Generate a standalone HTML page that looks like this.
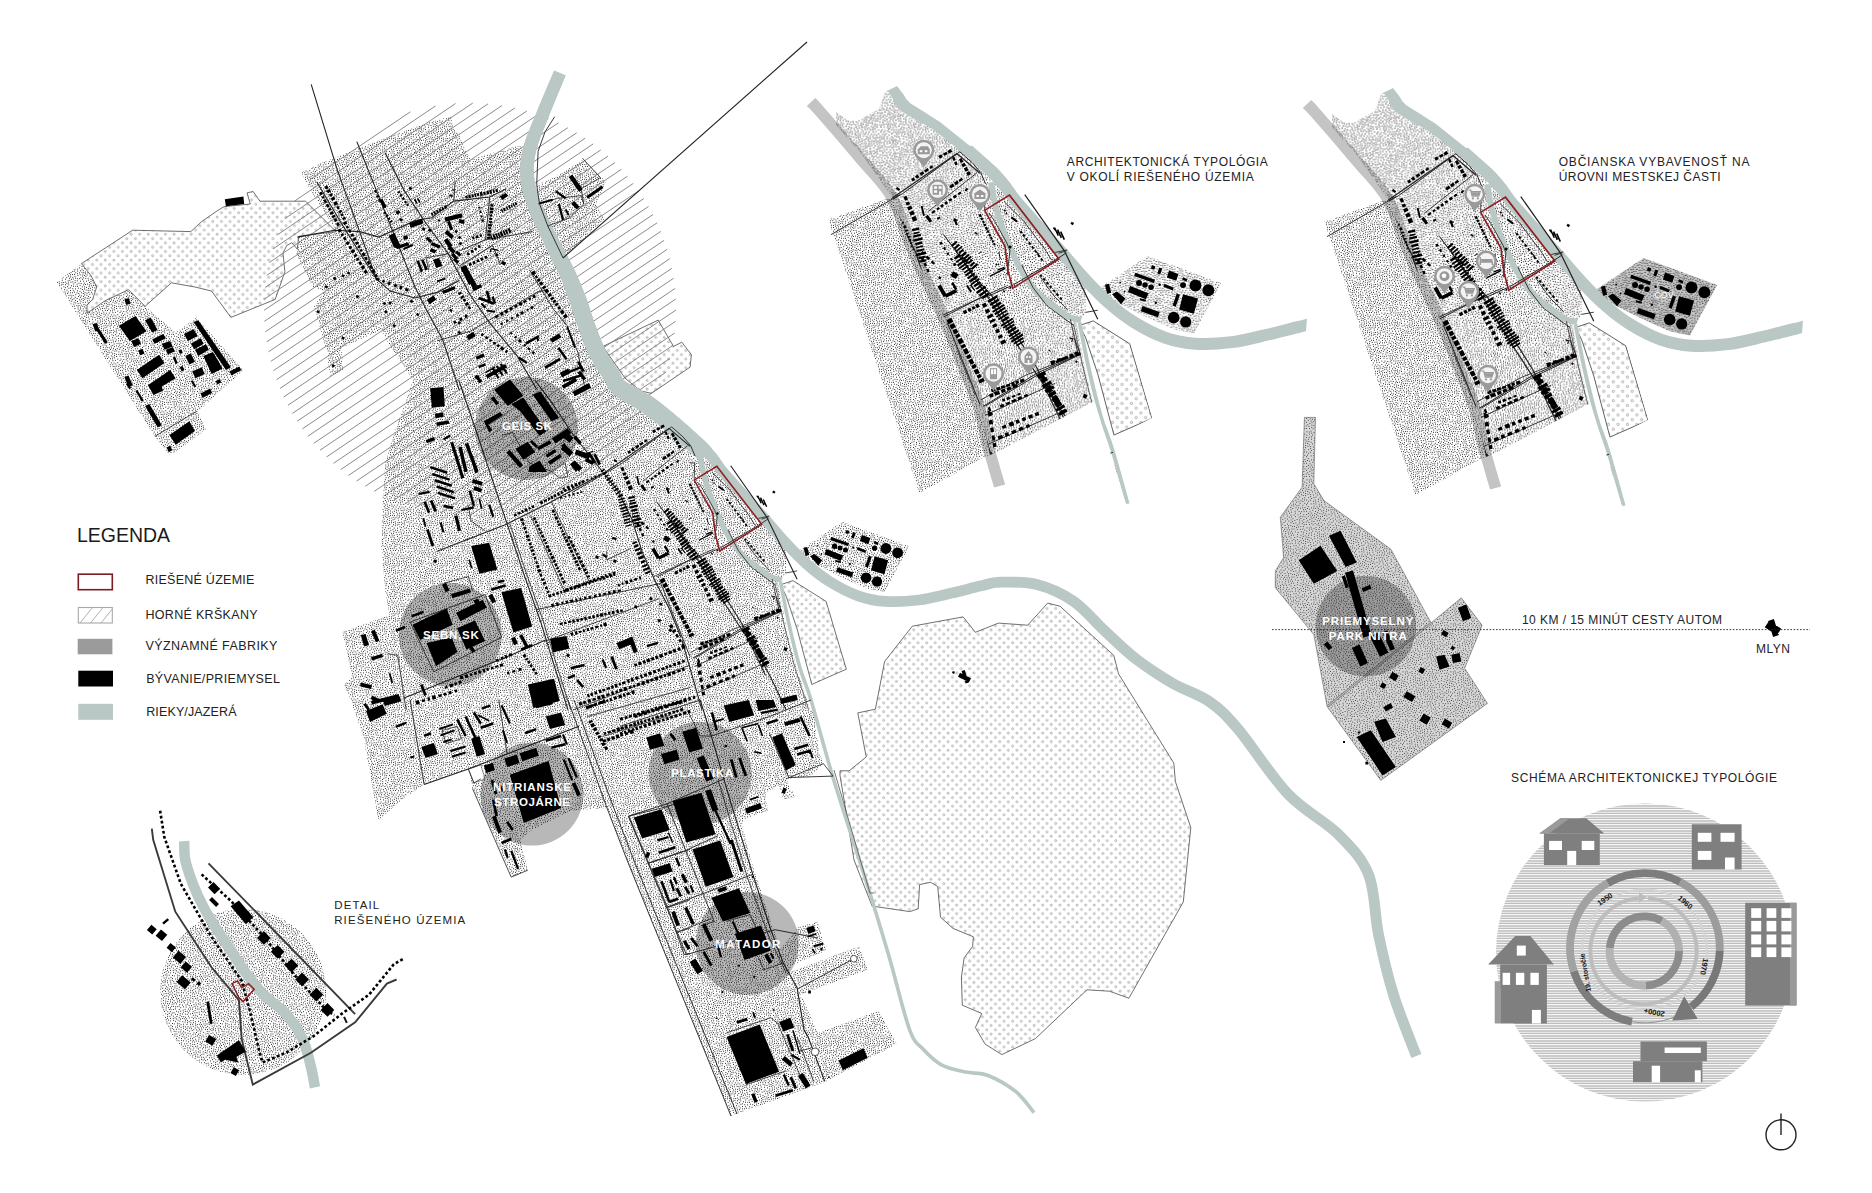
<!DOCTYPE html><html><head><meta charset="utf-8"><title>Map</title><style>html,body{margin:0;padding:0;background:#fff}svg{display:block}text{font-family:"Liberation Sans",sans-serif}</style></head><body>
<svg width="1872" height="1193" viewBox="0 0 1872 1193">
<defs><pattern id="st" width="48" height="48" patternUnits="userSpaceOnUse"><rect width="48" height="48" fill="#fff"/><path d="M29.9 35.6h.01M31.6 32.9h.01M27.8 32.8h.01M27.5 38.1h.01M24.8 37.3h.01M31.3 38.7h.01M29.3 40.8h.01M29.7 31.1h.01M27.0 36.3h.01M24.4 34.5h.01M35.0 34.1h.01M32.2 34.8h.01M32.5 41.2h.01M34.4 39.3h.01M32.9 37.8h.01M32.5 30.8h.01M22.6 34.9h.01M27.1 40.7h.01M22.7 36.9h.01M34.0 29.2h.01M31.5 27.9h.01M24.8 31.5h.01M21.2 33.4h.01M26.6 34.4h.01M37.8 38.5h.01M28.9 26.2h.01M35.9 32.5h.01M20.6 36.0h.01M23.0 32.7h.01M35.6 41.2h.01M29.6 33.7h.01M31.0 43.2h.01M21.8 40.3h.01M34.0 26.4h.01M36.3 35.5h.01M21.4 38.3h.01M23.0 42.2h.01M35.3 30.6h.01M31.8 25.0h.01M27.2 42.6h.01M20.8 30.0h.01M34.3 36.0h.01M37.6 32.0h.01M38.3 29.4h.01M34.0 32.3h.01M39.1 35.0h.01M29.3 38.7h.01M25.3 39.0h.01M19.2 32.2h.01M29.7 29.2h.01M26.7 31.1h.01M18.8 37.6h.01M36.7 28.3h.01M25.0 29.6h.01M20.8 44.9h.01M40.6 40.2h.01M25.3 27.2h.01M41.6 33.5h.01M39.8 32.8h.01M40.3 29.1h.01M20.1 40.9h.01M29.1 44.2h.01M24.8 41.9h.01M26.9 29.2h.01M35.5 25.1h.01M17.4 44.8h.01M27.8 46.3h.01M25.5 46.3h.01M40.1 38.3h.01M33.8 22.9h.01M15.9 46.8h.01M31.2 22.3h.01M29.6 46.4h.01M23.2 28.7h.01M38.6 27.1h.01M42.1 36.1h.01M35.7 37.9h.01M18.9 30.3h.01M41.2 31.0h.01M26.5 25.2h.01M43.0 39.4h.01M38.4 41.2h.01M23.4 45.7h.01M17.4 35.5h.01M25.7 44.0h.01M36.3 43.2h.01M19.9 28.0h.01M16.5 1.7h.01M20.6 42.9h.01M39.6 44.1h.01M44.1 35.7h.01M37.4 25.2h.01M32.1 45.4h.01M37.9 36.4h.01M33.2 43.5h.01M17.5 39.2h.01M22.8 30.6h.01M15.6 37.1h.01M23.4 39.3h.01M27.8 23.5h.01M37.5 33.8h.01M34.3 46.8h.01M14.3 40.2h.01M44.4 31.3h.01M24.0 24.6h.01M19.0 2.1h.01M38.1 22.7h.01M22.5 2.5h.01M16.8 28.7h.01M37.9 20.2h.01M41.1 46.7h.01M38.6 -0.6h.01M38.6 47.4h.01M40.4 26.3h.01M40.2 22.9h.01M43.1 28.3h.01M25.3 2.7h.01M17.7 42.1h.01M24.8 0.7h.01M24.8 48.7h.01M35.7 44.9h.01M45.3 37.8h.01M43.0 41.4h.01M-1.0 29.5h.01M47.0 29.5h.01M21.8 26.6h.01M14.3 30.8h.01M34.6 1.5h.01M36.7 47.0h.01M17.1 30.6h.01M36.0 23.1h.01M15.5 33.2h.01M22.7 -0.2h.01M22.7 47.8h.01M37.6 44.5h.01M15.0 44.5h.01M32.8 0.7h.01M32.8 48.7h.01M27.6 0.9h.01M27.6 48.9h.01M29.4 2.8h.01M38.1 2.0h.01M40.4 19.6h.01M44.8 40.6h.01M19.4 46.7h.01M45.2 43.0h.01M10.8 39.1h.01M45.0 34.0h.01M13.9 42.7h.01M13.5 2.4h.01M32.5 20.9h.01M15.7 42.5h.01M41.3 17.7h.01M25.0 23.1h.01M44.9 29.0h.01M42.8 26.3h.01M9.1 39.8h.01M39.0 5.3h.01M24.5 4.8h.01M-0.6 37.2h.01M47.4 37.2h.01M37.9 17.2h.01M37.6 14.3h.01M45.6 26.8h.01M19.4 34.2h.01M12.5 32.3h.01M13.6 0.2h.01M13.6 48.2h.01M18.0 27.0h.01M30.3 0.2h.01M30.3 48.2h.01M26.5 4.2h.01M43.3 45.7h.01M36.6 0.9h.01M36.6 48.9h.01M19.3 24.4h.01M18.9 43.6h.01M27.0 20.6h.01M11.2 41.9h.01M34.8 18.4h.01M13.4 34.0h.01M36.7 6.9h.01M14.1 38.1h.01M37.0 4.7h.01M1.1 28.0h.01M22.6 4.9h.01M42.9 43.7h.01M35.4 3.2h.01M-0.6 31.9h.01M47.4 31.9h.01M47.0 35.4h.01M39.2 24.7h.01M40.1 2.6h.01M32.0 3.3h.01M40.6 0.6h.01M40.6 48.6h.01M19.4 5.6h.01M43.1 20.1h.01M44.1 25.0h.01M14.3 28.8h.01M20.2 4.0h.01M13.3 45.0h.01M1.3 30.3h.01M42.5 0.3h.01M42.5 48.3h.01M20.9 0.3h.01M20.9 48.3h.01M44.5 1.8h.01M-0.8 45.6h.01M47.2 45.6h.01M36.8 11.4h.01M35.1 14.6h.01M21.8 23.1h.01M1.1 34.9h.01M1.8 33.0h.01M46.8 41.1h.01M13.0 35.9h.01M2.1 45.7h.01M40.2 14.9h.01M28.9 17.7h.01M41.6 24.6h.01M27.8 6.7h.01M35.3 5.5h.01M30.5 8.5h.01M35.2 20.9h.01M0.1 39.1h.01M48.1 39.1h.01M36.0 16.5h.01M11.3 45.7h.01M17.4 5.9h.01M23.0 7.3h.01M42.1 2.3h.01M17.5 33.4h.01M0.2 26.4h.01M48.2 26.4h.01M41.4 44.9h.01M33.4 4.8h.01M15.3 26.9h.01M45.9 24.7h.01M3.0 28.5h.01M7.9 38.0h.01M29.0 4.9h.01M43.4 17.7h.01M41.7 12.8h.01M10.5 35.6h.01M24.0 20.3h.01M2.9 37.5h.01M0.1 23.6h.01M48.1 23.6h.01M42.2 22.1h.01M9.9 33.7h.01M2.8 41.2h.01M25.8 16.2h.01M44.4 -0.7h.01M44.4 47.3h.01M40.4 8.6h.01M17.6 -0.3h.01M17.6 47.7h.01M21.0 7.6h.01M3.1 35.1h.01M42.1 15.3h.01M3.4 26.2h.01M4.2 32.0h.01M8.5 35.3h.01M43.5 4.3h.01M18.1 8.0h.01M11.4 43.8h.01M15.7 6.7h.01M44.3 22.9h.01M25.1 7.6h.01M6.5 31.0h.01M9.5 42.4h.01M9.8 37.3h.01M37.2 9.7h.01M39.5 12.8h.01M45.4 45.4h.01M7.6 42.8h.01M5.0 36.5h.01M8.7 32.1h.01M12.0 37.7h.01M4.9 29.5h.01M4.9 27.5h.01M30.8 5.4h.01M1.1 43.5h.01M16.9 24.7h.01M3.6 39.4h.01M45.1 21.2h.01M22.8 10.7h.01M-0.5 21.7h.01M47.5 21.7h.01M27.2 9.3h.01M6.6 33.2h.01M18.6 21.9h.01M9.6 44.8h.01M8.0 26.2h.01M14.4 22.8h.01M13.3 25.0h.01M3.5 43.2h.01M15.2 35.3h.01M1.6 25.1h.01M10.4 31.3h.01M32.2 15.2h.01M0.7 41.6h.01M48.7 41.6h.01M20.7 9.9h.01M-0.8 43.0h.01M47.2 43.0h.01M1.3 -0.3h.01M1.3 47.7h.01M17.0 4.0h.01M2.6 22.0h.01M8.1 28.8h.01M27.4 27.5h.01M39.2 10.3h.01M11.0 29.1h.01M14.9 4.2h.01M30.1 20.9h.01M12.1 27.0h.01M45.2 18.5h.01M46.8 -0.2h.01M46.8 47.8h.01M29.1 10.5h.01M3.2 24.1h.01M33.5 7.9h.01M18.4 10.6h.01M0.7 1.7h.01M48.7 1.7h.01M1.3 20.5h.01M1.3 36.7h.01M41.4 42.5h.01M12.2 4.4h.01M4.3 0.7h.01M4.3 48.7h.01M44.4 15.9h.01M33.3 17.2h.01M5.7 38.3h.01M9.6 27.0h.01M31.0 17.5h.01M26.7 18.2h.01M6.4 22.7h.01M33.3 11.3h.01M11.5 22.5h.01M38.9 7.3h.01M4.6 33.9h.01M20.6 20.5h.01M0.9 18.6h.01M48.9 18.6h.01M26.0 10.8h.01M27.8 14.9h.01M10.3 25.2h.01M27.5 12.4h.01M5.7 25.4h.01M3.2 30.3h.01M7.4 40.9h.01M9.5 22.4h.01M35.4 8.4h.01M32.5 19.1h.01M5.3 40.4h.01M41.8 6.3h.01M30.1 15.6h.01M16.5 22.8h.01M21.3 12.6h.01M4.3 45.8h.01M4.4 21.1h.01M-1.0 17.7h.01M47.0 17.7h.01M6.7 20.5h.01M44.3 6.0h.01M30.2 23.8h.01M23.3 13.3h.01M15.3 19.9h.01M5.8 44.6h.01M46.6 2.9h.01M40.8 4.3h.01M29.4 13.5h.01M23.7 9.1h.01M35.3 12.6h.01M10.2 0.1h.01M10.2 48.1h.01M2.8 2.8h.01M16.4 17.9h.01M12.0 18.5h.01M26.1 14.1h.01M22.9 15.9h.01M9.9 3.5h.01M46.8 5.2h.01M7.8 24.2h.01M6.1 0.1h.01M6.1 48.1h.01M13.5 8.4h.01M44.8 12.9h.01M0.5 4.2h.01M48.5 4.2h.01M46.7 15.7h.01M32.9 13.2h.01M8.1 46.4h.01M8.9 1.7h.01M31.7 7.1h.01M3.7 19.1h.01M30.1 19.1h.01M36.6 18.9h.01M6.5 35.4h.01M13.1 6.5h.01M42.3 9.4h.01M11.8 11.4h.01M6.8 2.3h.01M10.1 7.3h.01M3.1 5.4h.01M5.8 4.0h.01M1.6 15.5h.01M19.5 13.4h.01M11.5 2.2h.01M18.9 15.2h.01M16.9 20.9h.01M7.4 5.3h.01M15.1 10.0h.01M15.6 11.9h.01M5.6 7.5h.01M12.8 21.1h.01M13.8 16.8h.01M31.4 11.8h.01M44.5 8.7h.01M8.8 20.6h.01M5.3 42.7h.01M20.4 18.4h.01M10.6 9.9h.01M32.3 9.3h.01M6.9 9.1h.01M0.8 7.8h.01M48.8 7.8h.01M18.4 19.6h.01M15.8 16.2h.01M43.9 10.5h.01M41.0 10.8h.01M10.3 15.6h.01M20.8 14.8h.01M24.3 11.8h.01M-0.1 10.3h.01M47.9 10.3h.01M2.7 7.7h.01M46.5 7.0h.01M4.5 10.4h.01M5.9 18.7h.01M1.9 12.7h.01M7.4 11.3h.01M35.1 10.5h.01M17.0 14.2h.01M46.4 11.5h.01M22.8 18.3h.01M11.0 13.7h.01M9.1 13.8h.01M7.6 17.8h.01M1.0 5.9h.01M10.7 20.0h.01M5.9 16.5h.01M14.6 13.5h.01M7.1 13.6h.01M2.0 9.7h.01M8.1 7.1h.01M2.8 17.0h.01M10.2 18.1h.01M3.8 14.6h.01M9.8 11.9h.01M4.5 12.2h.01M46.8 13.7h.01M12.6 30.2h.01M16.8 9.4h.01M24.7 18.4h.01M13.0 14.8h.01M13.7 11.8h.01M11.9 16.6h.01M9.0 9.0h.01M9.4 5.3h.01M17.6 12.4h.01M18.7 17.6h.01M8.4 15.7h.01" stroke="#000" stroke-width="1.0" stroke-linecap="round" fill="none"/></pattern><pattern id="st2" width="48" height="48" patternUnits="userSpaceOnUse"><rect width="48" height="48" fill="#d6d6d6"/><path d="M15.5 7.2h.01M18.3 8.6h.01M18.8 10.7h.01M15.1 10.3h.01M18.6 6.2h.01M21.6 5.2h.01M12.9 9.5h.01M16.4 12.0h.01M15.5 4.9h.01M21.1 7.6h.01M21.5 9.9h.01M23.5 8.1h.01M14.4 14.6h.01M19.7 13.3h.01M13.3 5.2h.01M12.7 17.7h.01M17.5 15.0h.01M13.2 12.8h.01M12.6 7.3h.01M9.5 11.0h.01M16.6 3.1h.01M21.3 15.0h.01M9.2 7.9h.01M6.6 10.4h.01M23.2 3.8h.01M15.7 1.1h.01M15.7 18.5h.01M23.7 14.1h.01M7.5 12.6h.01M4.9 7.3h.01M17.6 21.3h.01M4.9 12.3h.01M11.7 11.5h.01M11.9 14.3h.01M18.0 0.7h.01M18.0 48.7h.01M7.7 4.2h.01M22.9 1.5h.01M15.0 -0.8h.01M15.0 47.2h.01M10.4 5.6h.01M12.7 21.2h.01M13.6 2.1h.01M24.0 10.7h.01M20.0 3.5h.01M14.7 16.6h.01M25.4 8.7h.01M13.7 44.5h.01M24.1 17.9h.01M10.9 3.2h.01M4.1 9.5h.01M17.9 17.6h.01M20.1 1.5h.01M8.8 2.1h.01M7.6 46.6h.01M17.1 44.9h.01M13.0 42.4h.01M23.5 6.0h.01M1.3 8.7h.01M19.2 20.0h.01M7.1 6.2h.01M26.8 13.2h.01M10.9 9.2h.01M10.3 44.5h.01M20.0 -0.6h.01M20.0 47.4h.01M22.0 12.5h.01M10.4 20.0h.01M13.2 0.1h.01M13.2 48.1h.01M6.9 21.5h.01M20.0 17.1h.01M23.6 -0.4h.01M23.6 47.6h.01M19.1 43.4h.01M6.9 1.0h.01M14.7 20.3h.01M3.0 21.8h.01M1.3 11.6h.01M9.7 13.5h.01M22.2 21.5h.01M11.8 40.7h.01M25.8 6.1h.01M27.1 16.1h.01M1.7 6.5h.01M23.0 45.3h.01M25.5 22.3h.01M10.2 42.0h.01M10.9 -0.2h.01M10.9 47.8h.01M8.4 20.0h.01M9.4 15.6h.01M-0.7 3.8h.01M47.3 3.8h.01M30.4 15.9h.01M25.3 46.5h.01M7.9 39.5h.01M7.2 15.5h.01M15.2 23.9h.01M8.8 23.3h.01M5.3 3.8h.01M28.8 13.4h.01M25.8 11.4h.01M11.6 23.1h.01M8.8 17.8h.01M6.2 43.6h.01M4.2 23.4h.01M2.2 4.5h.01M27.5 8.8h.01M7.8 42.4h.01M10.4 24.7h.01M22.6 19.4h.01M25.5 2.1h.01M3.7 42.2h.01M4.7 1.4h.01M6.5 18.8h.01M28.9 5.0h.01M18.1 26.1h.01M23.2 24.2h.01M20.0 24.0h.01M7.2 8.5h.01M26.3 18.3h.01M26.7 45.0h.01M27.1 0.2h.01M27.1 48.2h.01M19.7 22.0h.01M4.9 46.5h.01M28.5 11.2h.01M25.2 42.8h.01M6.9 25.3h.01M5.0 20.7h.01M27.2 40.4h.01M27.8 2.9h.01M24.8 15.9h.01M21.0 44.8h.01M30.2 10.1h.01M15.9 41.1h.01M29.4 19.6h.01M27.3 20.4h.01M26.2 26.9h.01M25.0 20.1h.01M1.3 1.6h.01M45.7 7.1h.01M3.1 44.2h.01M28.5 38.6h.01M28.4 22.1h.01M21.1 26.9h.01M-0.1 42.9h.01M47.9 42.9h.01M32.1 3.1h.01M13.8 39.4h.01M6.2 40.9h.01M24.6 38.8h.01M28.9 24.2h.01M19.3 39.3h.01M12.2 26.5h.01M29.5 -1.0h.01M29.5 47.0h.01M17.8 23.7h.01M10.4 38.4h.01M28.4 35.4h.01M1.1 45.2h.01M30.7 12.6h.01M2.1 19.4h.01M12.2 36.4h.01M25.4 25.0h.01M31.1 38.9h.01M15.8 43.4h.01M21.2 40.8h.01M2.6 47.0h.01M28.6 43.7h.01M32.6 11.6h.01M32.4 13.8h.01M9.7 29.5h.01M22.3 30.6h.01M4.9 38.5h.01M46.7 9.5h.01M31.4 -0.2h.01M31.4 47.8h.01M22.4 43.3h.01M30.8 35.9h.01M29.5 1.2h.01M23.9 33.5h.01M-0.6 12.9h.01M47.4 12.9h.01M46.6 46.4h.01M31.5 20.8h.01M15.1 37.0h.01M34.2 5.9h.01M9.0 27.5h.01M15.8 33.1h.01M3.7 16.9h.01M19.7 28.5h.01M19.4 31.5h.01M44.0 1.0h.01M23.4 26.3h.01M32.8 19.1h.01M1.1 39.5h.01M15.4 27.9h.01M16.8 30.4h.01M3.2 13.5h.01M6.9 36.7h.01M22.0 35.9h.01M29.5 40.8h.01M5.4 14.7h.01M18.6 35.8h.01M27.7 6.7h.01M8.2 44.6h.01M4.6 28.2h.01M17.9 41.5h.01M32.9 45.7h.01M14.1 31.8h.01M31.2 17.8h.01M0.4 -0.4h.01M0.4 47.6h.01M48.4 -0.4h.01M48.4 47.6h.01M34.8 39.6h.01M46.8 40.5h.01M18.8 33.6h.01M34.5 -0.5h.01M34.5 47.5h.01M16.0 38.7h.01M0.7 22.2h.01M48.7 22.2h.01M45.7 43.5h.01M9.0 36.9h.01M-0.4 15.1h.01M47.6 15.1h.01M29.0 17.4h.01M27.7 30.6h.01M33.1 37.8h.01M17.7 28.1h.01M12.5 33.4h.01M33.0 34.3h.01M29.6 7.9h.01M33.0 41.9h.01M21.7 32.6h.01M13.5 29.2h.01M31.3 6.0h.01M24.1 29.5h.01M1.5 29.8h.01M3.0 25.3h.01M6.7 27.7h.01M43.1 40.0h.01M2.2 15.2h.01M32.6 9.6h.01M31.8 23.0h.01M44.6 41.7h.01M37.1 7.9h.01M44.1 12.6h.01M36.0 42.5h.01M35.4 3.0h.01M-0.2 20.3h.01M47.8 20.3h.01M44.2 15.2h.01M31.7 44.0h.01M45.8 17.8h.01M38.0 -0.3h.01M38.0 47.7h.01M23.5 40.7h.01M30.0 26.6h.01M27.9 28.1h.01M35.2 20.8h.01M0.1 17.5h.01M48.1 17.5h.01M34.2 8.3h.01M33.4 24.9h.01M10.6 31.3h.01M30.5 29.3h.01M17.8 37.6h.01M33.2 1.3h.01M3.5 40.0h.01M14.2 34.9h.01M36.5 19.1h.01M3.1 37.3h.01M10.7 34.5h.01M26.5 36.5h.01M45.0 38.7h.01M41.3 37.2h.01M33.0 16.0h.01M27.7 32.8h.01M-0.0 27.8h.01M48.0 27.8h.01M34.2 44.2h.01M8.1 31.6h.01M35.7 11.8h.01M16.4 35.3h.01M39.2 36.1h.01M7.5 29.6h.01M37.0 45.5h.01M36.1 33.9h.01M22.5 38.6h.01M37.7 5.7h.01M30.3 31.4h.01M3.1 31.6h.01M41.4 1.9h.01M25.7 31.0h.01M35.0 13.7h.01M32.6 30.2h.01M-0.5 36.7h.01M47.5 36.7h.01M7.8 34.7h.01M44.6 46.6h.01M-0.9 31.2h.01M47.1 31.2h.01M33.0 27.4h.01M46.1 1.1h.01M42.8 45.6h.01M39.4 44.1h.01M26.1 34.2h.01M29.8 33.9h.01M35.7 16.7h.01M39.2 11.4h.01M37.7 3.6h.01M40.8 41.1h.01M37.5 41.0h.01M38.4 13.3h.01M20.7 34.4h.01M40.4 6.2h.01M45.2 21.7h.01M34.9 29.9h.01M38.5 17.2h.01M-0.5 24.2h.01M47.5 24.2h.01M42.9 42.7h.01M43.4 37.0h.01M22.2 28.6h.01M42.3 5.1h.01M41.1 13.3h.01M40.4 -0.1h.01M40.4 47.9h.01M35.7 9.7h.01M35.2 35.9h.01M43.3 7.3h.01M39.9 15.3h.01M35.4 24.2h.01M-0.7 33.2h.01M47.3 33.2h.01M38.8 30.1h.01M43.0 10.0h.01M5.7 31.7h.01M2.0 34.8h.01M43.4 3.2h.01M36.6 1.3h.01M38.0 32.1h.01M4.5 33.4h.01M37.0 38.2h.01M46.0 35.0h.01M39.6 39.1h.01M42.4 18.7h.01M38.5 19.6h.01M20.4 37.3h.01M41.2 8.7h.01M39.1 1.8h.01M39.8 27.9h.01M38.9 34.1h.01M38.6 9.3h.01M37.0 22.8h.01M40.2 18.2h.01M35.3 27.2h.01M42.1 15.8h.01M40.5 23.9h.01M24.3 36.5h.01M38.4 24.9h.01M42.9 35.1h.01M40.6 45.8h.01M43.6 32.2h.01M39.6 22.1h.01M37.4 27.0h.01M4.8 36.2h.01M41.4 33.2h.01M43.8 25.3h.01M42.8 27.5h.01M40.6 31.2h.01M33.8 22.3h.01M1.0 25.7h.01M49.0 25.7h.01M44.7 28.6h.01M45.8 26.1h.01M37.2 15.1h.01M43.0 29.9h.01M2.6 27.8h.01M42.6 23.0h.01M40.2 4.0h.01M44.4 5.2h.01M45.9 11.5h.01M35.2 32.0h.01M40.7 26.1h.01M45.4 24.1h.01M40.8 20.3h.01M36.9 29.4h.01M42.9 20.8h.01M11.6 28.5h.01" stroke="#000" stroke-width="0.8" stroke-linecap="round" fill="none"/></pattern><pattern id="st3" width="48" height="48" patternUnits="userSpaceOnUse"><rect width="48" height="48" fill="#fff"/><path d="M22.2 17.9h.01M23.4 20.7h.01M20.0 20.7h.01M21.3 14.9h.01M23.6 22.7h.01M26.1 20.1h.01M23.0 15.9h.01M24.8 18.3h.01M21.7 19.9h.01M25.2 15.2h.01M26.7 12.9h.01M22.9 13.9h.01M19.5 15.7h.01M21.6 21.8h.01M20.1 18.1h.01M28.4 15.5h.01M27.0 17.4h.01M26.7 22.0h.01M24.5 12.1h.01M29.4 12.3h.01M28.2 20.3h.01M17.8 16.6h.01M17.3 19.9h.01M27.0 24.0h.01M20.4 12.4h.01M28.6 18.5h.01M18.3 21.7h.01M31.7 19.0h.01M18.7 13.3h.01M30.1 23.3h.01M19.5 9.8h.01M31.0 26.0h.01M22.1 11.7h.01M20.0 22.7h.01M32.0 23.7h.01M31.5 13.3h.01M32.5 21.3h.01M16.9 14.4h.01M29.8 21.4h.01M33.0 26.0h.01M19.0 25.5h.01M15.7 18.4h.01M29.2 10.4h.01M18.7 28.3h.01M34.8 24.0h.01M16.0 16.0h.01M21.0 25.0h.01M30.3 15.9h.01M15.7 12.4h.01M28.7 26.5h.01M24.4 25.0h.01M15.5 21.5h.01M33.3 15.1h.01M17.1 23.7h.01M17.0 27.0h.01M18.3 11.3h.01M26.2 26.4h.01M35.9 13.2h.01M22.5 26.7h.01M32.6 10.9h.01M27.4 28.1h.01M31.1 9.9h.01M14.1 15.9h.01M26.4 10.3h.01M21.5 9.4h.01M13.6 13.8h.01M15.2 23.6h.01M13.1 17.4h.01M25.4 29.2h.01M29.3 8.2h.01M21.3 28.4h.01M14.1 19.5h.01M16.7 29.2h.01M34.1 12.2h.01M29.6 29.4h.01M35.2 9.7h.01M13.5 21.4h.01M25.9 8.3h.01M31.6 6.3h.01M21.6 31.4h.01M27.4 31.0h.01M30.7 31.4h.01M13.9 26.0h.01M32.9 8.5h.01M14.7 10.2h.01M23.7 8.4h.01M22.1 33.4h.01M36.1 7.4h.01M18.6 31.7h.01M11.7 24.4h.01M23.9 27.9h.01M33.1 28.4h.01M35.7 27.3h.01M26.0 32.2h.01M35.1 29.9h.01M30.0 4.7h.01M38.3 10.6h.01M33.5 6.6h.01M27.0 34.3h.01M37.8 8.6h.01M14.2 28.4h.01M14.2 30.6h.01M24.3 31.0h.01M11.8 9.3h.01M16.8 9.1h.01M27.5 6.9h.01M26.3 3.7h.01M11.9 29.0h.01M36.2 5.6h.01M11.9 15.9h.01M37.1 26.0h.01M11.5 19.7h.01M38.8 13.7h.01M33.6 17.2h.01M35.0 21.1h.01M17.6 34.3h.01M32.4 3.3h.01M28.7 32.9h.01M15.9 32.4h.01M37.1 21.8h.01M36.7 3.2h.01M40.2 10.8h.01M19.3 7.6h.01M21.8 5.8h.01M33.6 19.2h.01M39.7 8.7h.01M15.9 25.5h.01M35.5 18.1h.01M38.6 6.0h.01M23.7 6.6h.01M36.4 11.1h.01M25.3 35.1h.01M30.3 34.4h.01M36.7 23.9h.01M34.6 4.0h.01M23.8 3.8h.01M24.2 33.4h.01M11.0 27.2h.01M35.3 1.4h.01M31.5 36.4h.01M25.3 1.4h.01M35.1 15.7h.01M28.6 35.9h.01M34.9 32.8h.01M42.7 10.8h.01M37.1 19.3h.01M29.7 1.5h.01M12.5 33.4h.01M41.1 14.1h.01M29.6 46.4h.01M13.0 11.9h.01M28.2 5.1h.01M37.1 16.7h.01M23.6 10.4h.01M14.5 34.2h.01M25.2 5.4h.01M27.5 37.8h.01M33.0 32.2h.01M39.4 16.2h.01M20.0 33.9h.01M32.4 30.4h.01M11.4 31.7h.01M27.1 1.7h.01M22.8 35.8h.01M16.1 7.2h.01M30.9 27.9h.01M18.5 5.0h.01M38.9 25.0h.01M20.9 36.5h.01M9.7 28.9h.01M41.3 18.9h.01M31.6 0.9h.01M31.6 48.9h.01M11.0 13.7h.01M41.5 9.2h.01M41.3 6.1h.01M12.6 6.7h.01M33.3 35.9h.01M20.0 30.5h.01M39.4 20.2h.01M41.5 21.6h.01M22.1 0.0h.01M22.1 48.0h.01M39.7 23.3h.01M45.2 10.0h.01M26.5 -0.1h.01M26.5 47.9h.01M17.5 1.8h.01M44.6 8.2h.01M6.9 31.1h.01M32.2 34.2h.01M22.0 38.8h.01M38.2 28.3h.01M29.6 37.5h.01M-0.0 9.3h.01M48.0 9.3h.01M36.8 -0.3h.01M36.8 47.7h.01M9.2 30.9h.01M10.0 21.8h.01M15.5 3.7h.01M39.7 26.7h.01M10.8 11.7h.01M19.6 40.4h.01M19.0 -0.3h.01M19.0 47.7h.01M43.0 16.5h.01M23.1 29.6h.01M24.4 39.3h.01M20.4 45.1h.01M43.2 6.3h.01M35.5 35.4h.01M37.5 35.0h.01M1.5 10.6h.01M43.7 22.3h.01M41.3 3.4h.01M28.4 39.4h.01M24.7 -0.4h.01M24.7 47.6h.01M22.1 2.2h.01M8.8 23.2h.01M41.2 24.8h.01M7.1 29.3h.01M37.5 30.5h.01M39.3 18.3h.01M44.3 4.8h.01M39.3 4.2h.01M40.4 35.9h.01M24.5 45.3h.01M34.6 38.5h.01M8.6 14.7h.01M41.1 1.4h.01M8.9 12.0h.01M10.6 18.1h.01M21.4 43.0h.01M43.0 20.3h.01M43.6 14.8h.01M6.0 23.1h.01M8.8 9.5h.01M46.5 16.7h.01M15.2 36.6h.01M44.0 25.2h.01M18.8 35.7h.01M43.2 3.3h.01M8.4 18.2h.01M6.9 20.1h.01M45.4 20.2h.01M43.6 12.7h.01M46.1 25.8h.01M39.1 2.2h.01M44.0 18.7h.01M8.3 34.2h.01M14.2 7.7h.01M46.4 6.0h.01M1.2 18.3h.01M42.1 -0.9h.01M42.1 47.1h.01M5.3 19.0h.01M45.7 2.9h.01M20.6 3.5h.01M42.3 26.8h.01M24.4 37.0h.01M45.7 23.2h.01M3.2 20.0h.01M39.6 46.9h.01M32.4 38.2h.01M10.4 33.8h.01M46.9 12.6h.01M12.0 36.9h.01M4.2 10.7h.01M19.4 43.2h.01M13.7 4.6h.01M23.8 41.6h.01M8.2 25.3h.01M5.3 16.5h.01M44.6 1.1h.01M37.3 36.9h.01M6.5 13.3h.01M17.3 43.9h.01M38.6 45.1h.01M40.9 30.8h.01M3.4 13.7h.01M4.4 24.5h.01M3.8 17.7h.01M4.4 21.9h.01M33.2 39.9h.01M7.7 16.3h.01M19.8 1.8h.01M22.2 46.1h.01M6.4 26.2h.01M1.1 12.6h.01M9.5 16.4h.01M9.4 20.0h.01M1.4 14.6h.01M11.1 4.1h.01M46.9 14.8h.01M35.1 46.2h.01M-0.6 20.7h.01M47.4 20.7h.01M0.2 22.6h.01M48.2 22.6h.01M0.7 16.3h.01M48.7 16.3h.01M42.0 45.0h.01M17.2 47.0h.01M6.9 10.3h.01M27.7 46.4h.01M14.1 1.1h.01M45.2 13.7h.01M11.6 39.3h.01M46.9 18.9h.01M37.4 32.4h.01M3.8 28.4h.01M40.1 28.9h.01M9.4 3.3h.01M17.0 41.3h.01M5.3 35.5h.01M3.8 7.3h.01M4.2 33.0h.01M39.6 32.8h.01M23.4 43.7h.01M1.3 7.3h.01M9.6 37.8h.01M35.4 40.2h.01M5.5 8.3h.01M1.9 24.9h.01M3.7 31.2h.01M42.9 35.6h.01M35.9 44.5h.01M33.3 46.7h.01M32.4 43.9h.01M19.5 37.9h.01M15.4 42.9h.01M45.1 45.6h.01M9.4 6.9h.01M17.7 38.8h.01M11.3 1.3h.01M-0.9 28.1h.01M47.1 28.1h.01M33.7 41.9h.01M7.4 6.2h.01M1.8 21.7h.01M26.4 41.9h.01M3.5 26.2h.01M1.1 3.7h.01M2.9 4.9h.01M5.0 4.7h.01M0.6 5.5h.01M48.6 5.5h.01M8.1 39.7h.01M37.7 39.8h.01M30.0 40.6h.01M21.8 41.0h.01M44.3 28.1h.01M25.6 43.7h.01M42.2 29.4h.01M7.0 1.1h.01M5.8 46.7h.01M5.7 38.0h.01M10.6 40.9h.01M41.5 12.2h.01M3.0 9.2h.01M7.6 21.8h.01M13.5 39.9h.01M41.4 38.1h.01M8.1 27.4h.01M12.6 3.0h.01M26.4 39.9h.01M3.4 15.9h.01M28.1 44.2h.01M3.5 0.2h.01M3.5 48.2h.01M46.3 35.7h.01M37.7 42.4h.01M31.2 42.4h.01M39.2 38.3h.01M9.4 1.2h.01M1.0 -0.8h.01M1.0 47.2h.01M49.0 -0.8h.01M49.0 47.2h.01M42.2 33.0h.01M9.8 35.6h.01M8.1 36.4h.01M15.2 39.1h.01M40.3 42.8h.01M44.2 31.3h.01M30.0 43.9h.01M0.5 1.2h.01M48.5 1.2h.01M14.9 45.1h.01M15.3 -0.4h.01M15.3 47.6h.01M46.0 -0.7h.01M46.0 47.3h.01M39.2 41.2h.01M46.6 30.3h.01M28.5 42.3h.01M7.2 4.1h.01M35.7 42.0h.01M46.7 1.0h.01M1.9 29.3h.01M1.9 44.5h.01M44.0 42.1h.01M11.9 46.1h.01M1.0 26.6h.01M49.0 26.6h.01M3.5 38.3h.01M9.9 46.4h.01M8.1 42.8h.01M13.3 42.4h.01M-0.6 45.6h.01M47.4 45.6h.01M5.0 39.9h.01M44.0 37.6h.01M43.6 44.1h.01M5.2 1.1h.01M44.7 33.9h.01M6.4 43.9h.01M3.1 2.6h.01M13.2 44.5h.01M6.5 33.2h.01M3.9 42.9h.01M46.7 32.3h.01M1.8 40.1h.01M11.1 43.8h.01M8.1 44.8h.01M1.3 32.4h.01M41.0 40.6h.01M45.3 39.9h.01M0.8 36.4h.01M48.8 36.4h.01M0.5 30.7h.01M48.5 30.7h.01M46.6 43.3h.01M46.8 41.0h.01M6.4 41.0h.01M1.0 42.1h.01M49.0 42.1h.01M46.7 38.0h.01M8.3 -0.4h.01M8.3 47.6h.01M4.2 44.9h.01M2.7 36.5h.01M43.3 39.9h.01M13.6 37.9h.01M0.3 33.9h.01M48.3 33.9h.01M31.5 46.8h.01M3.0 46.3h.01M2.7 34.1h.01M0.8 38.5h.01M48.8 38.5h.01M18.7 45.9h.01M5.6 27.9h.01" stroke="#000" stroke-width="1.0" stroke-linecap="round" fill="none"/></pattern><pattern id="co" width="8.6" height="8.6" patternUnits="userSpaceOnUse"><circle cx="2.1" cy="2.1" r="1.0" fill="none" stroke="#7a7a7a" stroke-width="0.55"/><circle cx="6.4" cy="6.4" r="1.0" fill="none" stroke="#7a7a7a" stroke-width="0.55"/></pattern><clipPath id="c1"><polygon points="836,112 847,120 857,121 879,109 885,92 897,86 910,103 940,122 970,146 1000,140 1320,140 1305,345 1200,353 1165,347 1140,334 1130.2,342.3 1152.2,417.7 1116,437 1133,503 1126,504 1094.5,401 997.1,452.3 983.4,457.6 989.7,454.4 988.7,448.1 978.2,404.1 966.7,374.8 945.7,322.4 921.6,270 911.3,247.1 892,197.3 860,152 836,125"/></clipPath><pattern id="hl" width="4" height="2.5" patternUnits="userSpaceOnUse"><rect width="4" height="2.5" fill="#fff"/><rect y="0.5" width="4" height="0.85" fill="#888"/></pattern></defs>
<rect width="1872" height="1193" fill="#fff"/>
<g id="mmA">
<g id="Lstip">
<polygon points="301,172.1 319.5,163.8 379,140.2 428.8,122.3 450.9,116.7 453.7,129.2 459.2,133.3 462,143 470.3,159.6 517.3,145.8 529.8,148.5 527,176.2 533.9,203.9 550.5,239.9 567.1,273.1 578.2,300.7 586.5,325.6 597.6,353.3 611.4,375.4 620,388.3 647.7,404.9 675.3,427 700.2,449.2 722.4,471.3 744.5,496.2 766.7,521.1 786,543.3 786,573.7 777.7,582 785.5,623.5 796.5,667.8 810.4,709.8 813.7,711.1 819.2,752.6 823.4,763.6 810.9,776.1 786,778.9 795.7,796.8 783.3,799.6 779.1,785.8 765.3,792.7 768,810.7 744.5,819 741.8,824.5 752.8,866 763.9,899.2 770.8,921.4 780.5,949 798.5,926.9 817.8,921.4 826.1,950.4 791.6,965.6 788.8,972.6 859.4,946.3 867.7,969.8 797.1,996.1 802.6,998.4 817.8,1032.9 878.7,1010.8 896.7,1044 826.1,1081.4 730.7,1116 626.9,860 607,808 570.7,810.7 529.2,831.4 520.4,839.7 527.8,870.2 512.6,877.1 472.5,788.5 468.4,769.2 424.1,784.4 401.9,799.6 378.4,820.4 375.7,805.1 363.2,736 350.8,700 343.8,684.4 352.1,677.5 342.5,631.8 389.5,615.2 385.3,590.3 381.2,546 382.6,499 385.3,463 396.4,427 407.5,396.6 413,380 385.9,339.5 381.8,329.8 341.6,347.8 343,369.9 330.6,376.8 326.4,350.5 314,306.3 325,291.1 312.6,286.9 296,253.7 298.7,237.1 334.7,228.8 326.4,215 311.2,191.4" fill="url(#st)"/>
<polygon points="536.7,184.5 554.7,177.6 583.5,159.6 605.7,181.7 596,203.9 604.3,219.1 564.2,257.8 547.8,226" fill="url(#st)"/>
<polygon points="56.6,282.3 81.5,263.5 91.2,275.9 96.7,287 88.4,303.6 87,313.3 105,300.8 128.5,289.7 145.1,306.3 175.6,332.6 196.3,317.4 243.4,370 197.7,411.5 206,429.5 170.1,455.8 154.8,436.4" fill="url(#st)"/>
<polygon points="798.8,550.8 842.4,521.7 909.2,546.2 884.4,592 865.7,588.2 838.5,575.7 816.7,564.8 803.5,555.5" fill="url(#st)"/>
<polygon points="1304.4,417.4 1315.5,417.4 1313.8,483.8 1323.9,500.6 1390.9,549.2 1431.1,622.9 1461.3,597.8 1482.1,625.3 1464.6,668.2 1487.4,703.4 1380.8,780.4 1327.2,706.7 1313.8,634.6 1275.3,587.7 1275.3,570.9 1283.6,557.5 1280.3,517.3 1302.1,487.2" fill="url(#st2)" stroke="#444" stroke-width="0.5"/>
<circle cx="243.1" cy="991.9" r="83" fill="url(#st3)"/>
</g>
<g id="Lwhite">
<polygon points="468.4,769.2 480.8,765 485,778.9 473.9,783" fill="#fff" stroke="#333" stroke-width="0.5"/>
</g>
<g id="Lcoarse">
<polygon points="912.3,626.2 963.1,616.9 975.4,632.3 998.5,623.1 1027.7,625.2 1047.7,603.1 1060,606.2 1113.8,655.4 1118.5,673.8 1173.8,763.1 1175.4,781.5 1190.8,827.7 1187.5,860 1183.3,901.9 1128.9,998.2 1109.4,991.2 1087,989.8 1035.4,1038.6 1001.9,1054.6 985.2,1044.2 975.4,1027.5 981.8,1013.5 962.3,1005.2 961.4,977.2 964.2,957.7 972.6,946.5 973.4,936.8 953,928.4 940.5,917.2 937.7,886.5 930.7,882.3 919.6,884.6 918.2,908.8 909.8,911.6 872.1,906.1 854,860 840,775.4 840,770.8 849.2,770.8 866.2,756.9 857.8,712.9 875.4,709.2 884.6,661.5" fill="#fff"/>
<polygon points="912.3,626.2 963.1,616.9 975.4,632.3 998.5,623.1 1027.7,625.2 1047.7,603.1 1060,606.2 1113.8,655.4 1118.5,673.8 1173.8,763.1 1175.4,781.5 1190.8,827.7 1187.5,860 1183.3,901.9 1128.9,998.2 1109.4,991.2 1087,989.8 1035.4,1038.6 1001.9,1054.6 985.2,1044.2 975.4,1027.5 981.8,1013.5 962.3,1005.2 961.4,977.2 964.2,957.7 972.6,946.5 973.4,936.8 953,928.4 940.5,917.2 937.7,886.5 930.7,882.3 919.6,884.6 918.2,908.8 909.8,911.6 872.1,906.1 854,860 840,775.4 840,770.8 849.2,770.8 866.2,756.9 857.8,712.9 875.4,709.2 884.6,661.5" fill="url(#co)" stroke="#333" stroke-width="0.7"/>
<polygon points="602.9,346.4 658.2,320.1 673.5,346.4 681.8,342.2 691.4,354.7 690.1,367.1 651.3,393.4 640.2,390.7 625,378.2" fill="#fff"/>
<polygon points="602.9,346.4 658.2,320.1 673.5,346.4 681.8,342.2 691.4,354.7 690.1,367.1 651.3,393.4 640.2,390.7 625,378.2" fill="url(#co)" stroke="#333" stroke-width="0.7"/>
<polygon points="81.5,263.5 132.7,230.2 190.8,231.6 201.9,221.4 217.1,210.9 224,206.7 250.3,204 247,192.9 253.1,191.5 260,201.2 305.6,201.2 336.1,231.6 298.7,236.3 297.3,249.1 291.8,242.7 286.8,245.5 283,252.9 284.9,271.8 275.2,299.4 230.9,317.4 211.6,291.1 195,287 171.4,282.8 145.1,306.3 128.5,289.7 105,300.8 87,313.3 87,305 92.6,299.4 96.7,287 91.2,275.9" fill="#fff"/>
<polygon points="81.5,263.5 132.7,230.2 190.8,231.6 201.9,221.4 217.1,210.9 224,206.7 250.3,204 247,192.9 253.1,191.5 260,201.2 305.6,201.2 336.1,231.6 298.7,236.3 297.3,249.1 291.8,242.7 286.8,245.5 283,252.9 284.9,271.8 275.2,299.4 230.9,317.4 211.6,291.1 195,287 171.4,282.8 145.1,306.3 128.5,289.7 105,300.8 87,313.3 87,305 92.6,299.4 96.7,287 91.2,275.9" fill="url(#co)" stroke="#333" stroke-width="0.7"/>
<polygon points="780.5,584.8 792.9,580.6 826.1,601.4 846.3,669.2 811.8,684.4 797.1,629 786,595.8" fill="#fff"/>
<polygon points="780.5,584.8 792.9,580.6 826.1,601.4 846.3,669.2 811.8,684.4 797.1,629 786,595.8" fill="url(#co)" stroke="#333" stroke-width="0.7"/>
</g>
</g>
<g id="Lhatch">
<path d="M354.8 138.2L354.8 138.2M309.5 179.9L410.4 111.8M294.5 201.1L435.6 105.9M284.8 218.7L455.6 103.5M278 234.4L472.8 103M273 248.9L488.1 103.8M269.3 262.5L502 105.5M266.8 275.3L514.9 107.9M265.1 287.5L526.8 111M264.2 299.2L538 114.5M264 310.4L548.5 118.5M264.4 321.3L558.4 122.9M265.3 331.8L567.8 127.7M266.7 341.9L576.7 132.8M268.5 351.8L585.2 138.2M270.8 361.4L593.2 143.9M273.4 370.7L600.8 149.9M276.5 379.7L608 156.1M279.9 388.5L614.9 162.6M283.7 397L621.4 169.3M287.9 405.3L627.5 176.2M292.4 413.4L633.3 183.4M297.2 421.2L638.7 190.8M302.4 428.8L643.9 198.5M307.9 436.2L648.6 206.4M313.8 443.3L653 214.5M320 450.2L657.1 222.8M326.6 456.9L660.8 231.4M333.5 463.3L664.2 240.3M340.8 469.5L667.2 249.3M348.5 475.4L669.8 258.7M356.6 481L671.9 268.3M365.2 486.3L673.7 278.2M374.2 491.4L675 288.5M383.7 496L675.8 299M393.7 500.4L676 310M404.4 504.3L675.6 321.3M415.7 507.7L674.6 333.1M427.9 510.6L672.7 345.5M440.9 512.9L670 358.4M455.1 514.5L666.1 372.1M470.7 515L660.7 386.9M488.4 514.2L653.3 402.9M509.2 511.2L642.8 421.1M536.4 504L625.9 443.6" stroke="#7d7d7d" stroke-width="0.9" fill="none"/>
</g>
<g id="Lriver2">
<polygon points="554,70.6 553.2,72.6 552,75.3 550.7,78.4 549.2,81.8 547.6,85.6 545.9,89.6 544.2,93.7 542.4,97.8 540.7,101.9 539.1,105.8 537.5,109.5 536.2,112.9 534.9,116 533.7,118.9 532.4,121.9 531.2,124.7 530.1,127.6 528.9,130.4 527.8,133.2 526.8,135.9 525.8,138.6 524.9,141.4 524,144.1 523.3,146.8 522.6,149.5 522,152.1 521.5,154.6 521,157.1 520.7,159.5 520.4,162 520.1,164.4 519.9,166.9 519.9,169.3 519.8,171.8 519.9,174.2 520,176.7 520.2,179.2 520.5,181.7 520.9,184.1 521.4,186.5 521.9,188.9 522.5,191.3 523.1,193.7 523.8,196.1 524.6,198.6 525.5,201.1 526.4,203.7 527.3,206.4 528.4,209.2 529.6,212.2 530.8,215.2 532.2,218.4 533.6,221.5 535,224.7 536.5,227.8 538,231 539.5,234.1 541,237.2 542.4,240.2 543.8,243.2 545.1,246.1 546.6,249.1 548,252 549.4,254.9 550.8,257.7 552.3,260.6 553.6,263.4 555,266.1 556.3,268.8 557.5,271.4 558.7,273.9 559.8,276.4 560.9,278.9 561.9,281.3 562.8,283.6 563.8,285.9 564.6,288.2 565.5,290.5 566.3,292.7 567.1,294.9 567.9,297.1 568.7,299.3 569.5,301.5 570.2,303.6 571,305.7 571.7,307.7 572.3,309.7 573,311.7 573.6,313.7 574.2,315.7 574.9,317.7 575.5,319.8 576.2,321.9 576.9,324.1 577.7,326.3 578.5,328.5 579.3,330.8 580.2,333 581,335.4 581.9,337.8 582.8,340.2 583.8,342.7 584.7,345.2 585.7,347.6 586.8,350 587.8,352.4 588.9,354.8 590,357.1 591.2,359.4 592.4,361.6 593.7,363.8 595,365.9 596.3,368 597.5,369.9 598.8,371.8 600,373.7 601.2,375.4 602.3,377 603.3,378.6 604.2,379.9 604.8,381 605.3,381.9 605.7,382.8 606.1,383.7 606.6,384.8 607.1,386 607.8,387.4 608.8,389 609.9,390.5 611.2,392.1 612.8,393.6 614.5,395.1 616.6,396.7 618.8,398.2 621,399.7 623.4,401.1 625.9,402.5 628.4,403.9 630.9,405.3 633.3,406.8 635.8,408.2 638.1,409.6 640.3,411 642.4,412.5 644.6,414 646.8,415.7 649,417.4 651.3,419.1 653.6,420.9 655.8,422.8 658.1,424.6 660.4,426.5 662.6,428.4 664.9,430.3 667.1,432.2 669.3,434.1 671.5,435.9 673.8,437.8 676.1,439.8 678.4,441.9 680.7,443.9 683,445.9 685.2,447.9 687.3,449.7 689.3,451.5 691.1,453.1 692.7,454.6 694.1,455.8 695.3,456.8 696.2,457.7 697,458.3 697.5,458.8 697.9,459.2 698.2,459.4 698.5,459.6 698.6,459.7 698.8,459.9 699.1,460.2 699.5,460.6 699.9,460.9 712.1,449.1 712,449 712.1,448.9 712,448.8 711.8,448.5 711.5,448 711.1,447.5 710.6,447 710,446.3 709.3,445.6 708.5,444.7 707.5,443.7 706.3,442.6 704.9,441.3 703.3,439.8 701.5,438.1 699.5,436.3 697.4,434.4 695.2,432.3 692.9,430.3 690.6,428.1 688.2,426 685.9,423.9 683.5,421.9 681.3,419.9 679.1,418.1 676.8,416.2 674.5,414.3 672.2,412.3 669.9,410.4 667.5,408.4 665.1,406.5 662.7,404.6 660.3,402.7 657.9,400.9 655.4,399.1 653,397.3 650.3,395.6 647.6,393.9 644.9,392.4 642.2,390.9 639.5,389.5 637,388.1 634.5,386.8 632.2,385.6 630.1,384.4 628.3,383.3 626.7,382.4 625.5,381.5 624.5,380.7 623.8,380 623.4,379.5 623.1,379.2 622.8,378.8 622.6,378.3 622.2,377.7 621.8,376.7 621.2,375.6 620.5,374.1 619.6,372.5 618.6,370.9 617.5,369.2 616.4,367.6 615.3,365.9 614.1,364.2 613,362.4 611.8,360.6 610.6,358.8 609.4,356.9 608.3,355.1 607.2,353.2 606.2,351.4 605.2,349.5 604.3,347.6 603.3,345.5 602.4,343.4 601.5,341.1 600.5,338.9 599.6,336.6 598.7,334.2 597.9,331.9 597,329.5 596.1,327.2 595.3,324.9 594.5,322.7 593.7,320.6 593,318.6 592.4,316.6 591.7,314.6 591.1,312.6 590.5,310.6 589.8,308.6 589.2,306.5 588.5,304.4 587.8,302.2 587,300 586.2,297.8 585.3,295.6 584.5,293.4 583.6,291.2 582.7,288.9 581.8,286.7 580.8,284.4 579.9,282.1 578.9,279.7 577.8,277.3 576.7,274.8 575.6,272.3 574.4,269.8 573.1,267.1 571.8,264.5 570.4,261.7 569,259 567.5,256.3 566,253.5 564.5,250.7 563.1,247.9 561.6,245.1 560.1,242.3 558.7,239.5 557.2,236.6 555.8,233.7 554.3,230.7 552.7,227.7 551.2,224.6 549.7,221.5 548.1,218.4 546.7,215.4 545.2,212.4 543.9,209.5 542.6,206.7 541.5,204 540.5,201.4 539.5,198.9 538.7,196.5 537.9,194.2 537.2,192 536.6,189.9 536,187.8 535.5,185.7 535.1,183.7 534.7,181.8 534.4,179.8 534.2,177.7 534,175.7 533.8,173.6 533.8,171.5 533.7,169.5 533.8,167.5 533.9,165.5 534,163.4 534.3,161.3 534.5,159.2 534.9,157 535.3,154.8 535.8,152.5 536.3,150.2 537,147.8 537.6,145.4 538.4,143 539.3,140.5 540.2,137.9 541.2,135.2 542.3,132.5 543.4,129.7 544.6,126.9 545.8,123.9 547,120.8 548.2,117.7 549.5,114.4 551,110.7 552.6,106.8 554.3,102.8 556,98.6 557.7,94.5 559.3,90.6 560.9,86.8 562.3,83.3 563.6,80.1 564.7,77.5 565.6,75.4" fill="#b9c7c5"/>
</g>
<g id="mmB">
<g id="Lriver">
<polyline points="560.6,73.3 558.6,78.1 555.9,84.7 552.7,92.5 549.3,100.7 546,108.7 543.2,115.7 540.8,121.9 538.4,127.7 536.2,133.3 534.2,138.6 532.5,143.8 531.1,148.8 530,153.7 529.2,158.4 528.7,162.8 528.4,167.2 528.4,171.6 528.6,176.1 529.1,180.5 529.8,184.8 530.8,189.1 532.1,193.6 533.6,198.3 535.4,203.3 537.7,208.8 540.3,214.7 543.3,220.8 546.3,227 549.4,233.1 552.4,239 555.3,244.7 558.3,250.3 561.2,256 564.1,261.5 566.9,266.8 569.5,272 571.8,277 573.9,281.8 575.8,286.4 577.7,290.9 579.4,295.3 581.1,299.6 582.6,304 584,308.1 585.3,312.2 586.6,316.2 587.9,320.3 589.4,324.5 591.1,329.1 592.8,333.7 594.6,338.5 596.5,343.2 598.4,347.7 600.4,351.9 602.5,355.9 604.8,359.8 607.3,363.6 609.7,367.2 611.9,370.6 614,373.8 615.7,376.6 616.8,378.9 617.7,380.7 618.6,382.2 619.9,383.7 622.1,385.7 625.4,387.9 629.6,390.3 634.4,392.9 639.6,395.6 644.8,398.6 649.9,401.7 654.6,405.2 659.4,408.8 664.1,412.6 668.8,416.5 673.3,420.3 677.8,424.1 682.4,428.1 687.2,432.4 692,436.7 696.3,440.7 700,444.1 702.6,446.5 713.8,459.5" fill="none" stroke="#b9c7c5" stroke-width="10.8" stroke-linejoin="round"/>
<path d="M688 434 C690.5 436.1 698.4 442.4 702.7 446.7 C707 450.9 710.5 455.4 713.8 459.5 C717.1 463.6 717.3 465.2 722.4 471.3 C727.5 477.4 737.1 487.9 744.5 496.2 C751.9 504.5 759.7 513.2 766.6 521.1 C773.5 529 779.1 535.9 786 543.3 C792.9 550.7 800.8 558.9 808.2 565.4 C815.6 571.9 822 576.9 830.3 582 C838.6 587.1 848.8 592.6 858 595.8 C867.2 599 875.5 600.7 885.6 601.4 C895.7 602.1 907.7 601.4 918.8 600 C929.9 598.6 941.8 595.3 952 593 C962.2 590.7 972 587.9 980 586.1 C988 584.3 990.5 582.5 1000 582.2 C1009.5 582 1024.6 581.4 1036.9 584.6 C1049.2 587.8 1062.5 593.8 1073.8 601.5 C1085.1 609.2 1094.3 621.3 1104.6 630.8 C1114.9 640.3 1124.1 649.8 1135.4 658.5 C1146.7 667.2 1160 675.9 1172.3 683.1 C1184.6 690.3 1198.3 693.9 1209.2 701.5 C1220.1 709.1 1224.7 713.4 1237.8 728.8 C1250.9 744.2 1271.2 776.4 1288 794 C1304.8 811.6 1325 820.9 1338.4 834.4 C1351.8 847.9 1361.9 857.9 1368.6 874.7 C1375.3 891.5 1374.4 914.9 1378.6 935 C1382.8 955.1 1387.4 975.2 1393.7 995.4 C1400 1015.6 1412.6 1045.9 1416.4 1056" fill="none" stroke="#b9c7c5" stroke-width="10.8"/>
<path d="M780.5 582 C781.9 588.9 785.6 609.2 788.8 623.5 C792 637.8 796.2 655 799.9 667.8 C803.6 680.5 805.5 681.7 811 700 C816.5 718.3 824.8 750.5 833 777.5 C841.2 804.5 853.2 840.8 860 862 C866.8 883.2 868.5 888.3 873.5 904.7 C878.5 921.1 884.2 939.6 890.2 960.5 C896.2 981.4 904.2 1015.4 909.8 1030.3 C915.4 1045.2 918.4 1044 923.7 1049.8 C929.1 1055.6 934.9 1061.5 941.9 1065.2 C948.9 1068.9 957.9 1070.4 965.6 1072.1 C973.3 1073.8 979.6 1072.2 988 1075.5 C996.4 1078.8 1008.2 1085.5 1015.9 1091.7 C1023.6 1097.9 1031 1109.1 1034 1112.6" fill="none" stroke="#b9c7c5" stroke-width="3.6"/>
<path d="M700.2 454.7 C700.7 457.5 701.6 465.3 703 471.3 C704.4 477.3 706.2 483.8 708.5 490.7 C710.9 497.6 713.6 505.4 716.8 512.8 C720.1 520.2 723.8 528 727.9 535 C732.1 541.9 736.7 548.8 741.8 554.3 C746.8 559.9 753.5 564.4 758.4 568.2 C763.2 571.9 766.9 575.1 770.8 577 C774.7 579 780 579.3 781.9 579.8" fill="none" stroke="#b9c7c5" stroke-width="5.5"/>
<path d="M184.2 841.2 C184.5 845.1 183.3 853.9 186.4 864.7 C189.5 875.5 195.6 891.9 203 906.2 C210.4 920.5 221.4 936.6 230.6 950.4 C239.9 964.3 249.1 978.6 258.3 989.2 C267.5 999.8 278.6 1005.8 286 1014.1 C293.3 1022.4 298.4 1030.2 302.6 1039 C306.7 1047.7 308.8 1058.5 310.9 1066.6 C312.9 1074.7 314.3 1083.9 315 1087.4" fill="none" stroke="#b9c7c5" stroke-width="10.5"/>
</g>
<g id="Lroad">
<polyline points="775,583.4 783.8,623.5 794.9,667.8 808.7,709.8" fill="none" stroke="#555" stroke-width="0.8"/>
<polyline points="834,770 870,893 874,893" fill="none" stroke="#555" stroke-width="0.8"/>
<polyline points="563,258 807,42" fill="none" stroke="#222" stroke-width="1.1"/>
<polyline points="568,700 607,808 627,860 731,1116" fill="none" stroke="#222" stroke-width="0.9"/>
<polyline points="574,700 613,806 633,858 737,1114" fill="none" stroke="#222" stroke-width="0.9"/>
<polyline points="154.8,436.4 196.3,411.5" fill="none" stroke="#222" stroke-width="0.8"/>
<polyline points="311.2,84.4 337.5,170.7 359.6,231.6 376.2,278.6 390.1,291.1 415,298 437.1,292.4 459.2,280.5" fill="none" stroke="#222" stroke-width="1.1"/>
<polyline points="356.8,141.6 381.8,203.9 415,286.9 426,309 442.6,339.5 450.9,364.4 459.2,389.8" fill="none" stroke="#222" stroke-width="1.1"/>
<polyline points="385.1,152.7 403.9,190.1 426,223.3 448.2,253.7 470.3,295.2 489.7,322.9 517.3,356.1 536.7,389.3" fill="none" stroke="#222" stroke-width="1.1"/>
<polyline points="316.7,181.8 343,226 370.7,270.3 376.2,278.6" fill="none" stroke="#222" stroke-width="1.1"/>
<polyline points="297.4,237.1 334.7,230.2 359.6,231.6 379,237.1 415,220.5 431.6,217.7 453.7,201.1 489.7,197 506.3,188.7" fill="none" stroke="#222" stroke-width="1.1"/>
<polyline points="453.7,201.1 455.1,181.8" fill="none" stroke="#222" stroke-width="0.9"/>
<polyline points="489.7,197 485.5,239.9 532.6,231.6" fill="none" stroke="#222" stroke-width="0.9"/>
<polyline points="459.2,250.9 485.5,239.9" fill="none" stroke="#222" stroke-width="0.9"/>
<polyline points="437.1,340.9 470.3,331.2 536.7,292.4 547.8,289.7" fill="none" stroke="#222" stroke-width="0.9"/>
<polyline points="529.8,270.3 553.3,309 567.1,325.6 578.2,353.3 585.1,389.3" fill="none" stroke="#222" stroke-width="0.9"/>
<polyline points="426,257.8 448.2,253.7 459.2,266.1 492.4,245.4 500.7,264.8" fill="none" stroke="#222" stroke-width="0.9"/>
<polyline points="554.7,116.7 545,131.9 538.1,151.3 536.7,184.5 539.5,203.9 547.8,226 563,257.8" fill="none" stroke="#222" stroke-width="0.9"/>
<polyline points="538.1,203.9 557.5,198.4 581,195.6 583.8,203.9 569.9,217.7 547.8,226" fill="none" stroke="#222" stroke-width="0.8"/>
<polyline points="582.4,158.2 600.4,177.6 581,188.7 583.8,203.9" fill="none" stroke="#222" stroke-width="0.8"/>
<polyline points="426,257.8 428.8,270.3" fill="none" stroke="#222" stroke-width="0.8"/>
<polyline points="458.7,380 473.9,424.3 496,490.7 507.1,523.9 523.7,573.7 540.3,620.7 551.4,656.7 568,709.8" fill="none" stroke="#222" stroke-width="1.1"/>
<polyline points="509.9,523.9 526.5,573.7 543.1,620.7 554.1,656.7 570.7,709.8" fill="none" stroke="#222" stroke-width="0.8"/>
<polyline points="534.8,380 551.4,402.1 573.5,435.3 595.6,463 617.8,490.7 631.6,518.4 642.1,551.6 654.3,579.2 669.8,609.7 680.9,637.3" fill="none" stroke="#222" stroke-width="1.1"/>
<polyline points="436.5,551.6 507.1,523.9 551.4,501.8 606.7,471.3 669,428.4 690,446.4" fill="none" stroke="#222" stroke-width="1.1"/>
<polyline points="536.1,609.7 660.7,583.4 690,656.7" fill="none" stroke="#222" stroke-width="0.9"/>
<polyline points="544.5,641.5 659.3,598.6" fill="none" stroke="#222" stroke-width="0.8"/>
<polyline points="403.3,698.2 507.1,656.7 545.8,640.1" fill="none" stroke="#222" stroke-width="1.1"/>
<polyline points="551.4,501.8 590.1,583.4" fill="none" stroke="#222" stroke-width="0.8"/>
<polyline points="530.6,515.6 565.2,593.1" fill="none" stroke="#222" stroke-width="0.8"/>
<polyline points="653.8,576.5 690,559.9" fill="none" stroke="#222" stroke-width="0.8"/>
<polyline points="606.7,551.6 606.7,559.9 630.2,548.8" fill="none" stroke="#222" stroke-width="0.8"/>
<polyline points="656.5,501.8 690,546" fill="none" stroke="#222" stroke-width="0.8"/>
<polyline points="573.5,709.8 690,665" fill="none" stroke="#222" stroke-width="0.8"/>
<polyline points="468.4,505.9 471.1,521.1 485,530.8" fill="none" stroke="#222" stroke-width="0.8"/>
<polyline points="501.6,435.3 512.6,432.6 529.2,463 551.4,471.3 559.7,478.2 568,476.8 565.2,463" fill="none" stroke="#222" stroke-width="0.8"/>
<polyline points="410.2,622.1 485,594.5 501.6,637.3 433.8,671.9 410.2,622.1" fill="none" stroke="#222" stroke-width="0.8"/>
<polyline points="443.5,583.4 468.4,576.5 472.5,590.3" fill="none" stroke="#222" stroke-width="0.8"/>
<polyline points="388.1,653.9 397.8,655.3 406.1,709.8" fill="none" stroke="#222" stroke-width="0.8"/>
<polyline points="690,463 694.7,463 694.2,480.2" fill="none" stroke="#222" stroke-width="0.8"/>
<polyline points="730.7,465.8 766.7,517 797.1,579.2" fill="none" stroke="#222" stroke-width="1.1"/>
<polyline points="758.4,518.4 769.4,516.1" fill="none" stroke="#222" stroke-width="0.8"/>
<polyline points="786,572.9 797.1,570.9" fill="none" stroke="#222" stroke-width="0.8"/>
<polyline points="690,546 700.2,557.1 741.8,623.5 770.8,677.5 786,709.8" fill="none" stroke="#222" stroke-width="1.1"/>
<polyline points="690,559.9 714.1,548.8" fill="none" stroke="#222" stroke-width="0.8"/>
<polyline points="690.6,652.6 730.7,630.4 779.1,611.1 772.2,579.2" fill="none" stroke="#222" stroke-width="0.8"/>
<polyline points="694.7,666.4 758.4,637.3" fill="none" stroke="#222" stroke-width="0.8"/>
<polyline points="697.5,692.7 766.7,662.2" fill="none" stroke="#222" stroke-width="0.8"/>
<polyline points="682,640.1 701.9,709.8" fill="none" stroke="#222" stroke-width="1.1"/>
<polyline points="424.1,784.4 410.2,700" fill="none" stroke="#222" stroke-width="0.9"/>
<polyline points="424.1,784.4 469.7,768.6 507.1,754 579,726.3" fill="none" stroke="#222" stroke-width="1.1"/>
<polyline points="498.8,700 507.1,754" fill="none" stroke="#222" stroke-width="0.8"/>
<polyline points="472.5,788.5 511.2,877.1 527.8,870.2" fill="none" stroke="#222" stroke-width="0.8"/>
<polyline points="468.4,769.2 473.9,783 480.8,778.9" fill="none" stroke="#222" stroke-width="0.8"/>
<polyline points="628.8,816.2 662.1,807.9 690,799.6" fill="none" stroke="#222" stroke-width="0.9"/>
<polyline points="628.8,816.2 667.6,907.5 690,899.8" fill="none" stroke="#222" stroke-width="0.9"/>
<polyline points="648.2,863.3 690,849.4" fill="none" stroke="#222" stroke-width="0.9"/>
<polyline points="667.6,907.5 684.2,954.6 690,953.2" fill="none" stroke="#222" stroke-width="0.9"/>
<polyline points="675.9,932.4 690,928.3" fill="none" stroke="#222" stroke-width="0.8"/>
<polyline points="587.3,716.6 690,687.5" fill="none" stroke="#222" stroke-width="0.8"/>
<polyline points="602.6,736.5 670.4,715.2" fill="none" stroke="#222" stroke-width="0.8"/>
<polyline points="442.1,730.4 457.3,726.3 461.4,738.7 446.2,743.7 442.1,730.4" fill="none" stroke="#222" stroke-width="0.8"/>
<polyline points="628.3,816.2 667,803.8 708.5,785.8 723.8,778.9" fill="none" stroke="#222" stroke-width="0.9"/>
<polyline points="628.3,816.2 686.4,954.6 775,929.7 817.8,938" fill="none" stroke="#222" stroke-width="0.9"/>
<polyline points="667,803.8 703,893.7" fill="none" stroke="#222" stroke-width="0.9"/>
<polyline points="647.7,863.3 685,850.8 718.2,835.6" fill="none" stroke="#222" stroke-width="0.9"/>
<polyline points="665.7,907.5 703,893.7 741.8,878.5 752.8,874.3" fill="none" stroke="#222" stroke-width="0.9"/>
<polyline points="676.7,932.4 711.3,918.6" fill="none" stroke="#222" stroke-width="0.8"/>
<polyline points="700.2,700 711.3,736 723.8,778.9 730.7,802.4 752.8,874.3 770.8,929.7 783.3,962.9 797.1,987.8 804,1029.8" fill="none" stroke="#222" stroke-width="1.1"/>
<polyline points="718.2,780.2 747.3,877.1 769.4,938 786,972.6" fill="none" stroke="#222" stroke-width="0.8"/>
<polyline points="703,893.7 714.1,921.4 703,925.5" fill="none" stroke="#222" stroke-width="0.8"/>
<polyline points="758.4,957.3 763.9,969.8 783.3,962.9" fill="none" stroke="#222" stroke-width="0.8"/>
<polyline points="726.5,921.4 750.1,914.5 757,929.7" fill="none" stroke="#222" stroke-width="0.8"/>
<polyline points="711.3,736 769.4,716.6 810.9,700" fill="none" stroke="#222" stroke-width="0.9"/>
<polyline points="769.4,733.2 788.8,777.5 833.1,776.1" fill="none" stroke="#222" stroke-width="0.9"/>
<polyline points="786,778.9 823.4,763.6 833.1,776.1" fill="none" stroke="#222" stroke-width="0.8"/>
<polyline points="620,726.3 700.2,700" fill="none" stroke="#222" stroke-width="0.9"/>
<polyline points="687.8,711.1 700.2,736 711.3,736" fill="none" stroke="#222" stroke-width="0.8"/>
<polyline points="797.1,989.2 853.8,958.7" fill="none" stroke="#222" stroke-width="0.9"/>
<circle cx="853.8" cy="958.7" r="3.3" fill="#fff" stroke="#222" stroke-width="0.7"/>
<polyline points="726.5,1032.9 770.8,1017.7 777.7,1023.3 802.6,1081.4" fill="none" stroke="#222" stroke-width="0.8"/>
<polyline points="745.9,1084.7 786,1070.9" fill="none" stroke="#222" stroke-width="0.8"/>
<polyline points="804,1029.9 808.2,1037.1 824.8,1081.4" fill="none" stroke="#222" stroke-width="1.1"/>
<polyline points="797.1,1037.1 813.7,1081.4" fill="none" stroke="#222" stroke-width="0.8"/>
<polyline points="799.9,1050.9 810.9,1048.2" fill="none" stroke="#222" stroke-width="0.8"/>
<circle cx="815.1" cy="1051.8" r="3.8" fill="#fff" stroke="#222" stroke-width="0.7"/>
<polyline points="1327.2,706.7 1431.1,622.9" fill="none" stroke="#777" stroke-width="2.2"/>
<polyline points="1327.2,706.7 1431.1,622.9" fill="none" stroke="#ccc" stroke-width="1"/>
<polyline points="151.8,828.7 153.2,839.8 175.3,911.7 211.3,967 238.9,1000.2 241.7,1039 252.8,1084.6 310.9,1052.8 355.1,1022.4 386.9,983.6 396.6,979.5" fill="none" stroke="#3a3a3a" stroke-width="1.9"/>
<polyline points="208.5,863.3 263.8,920 355.1,1014.1" fill="none" stroke="#3a3a3a" stroke-width="1.9"/>
<polyline points="344.1,1016.8 346.8,1022.9" fill="none" stroke="#111" stroke-width="2"/>
<polyline points="160.1,810.7 164.3,837 180.9,884 211.3,936.6 241.7,980.9 250,1011.3 258.3,1047.3 262.5,1062.5 286,1052.8 313.6,1036.2 341.3,1014.1 369,994.7 393.8,964.3 403.5,958.7" fill="none" stroke="#000" stroke-width="2.6" stroke-dasharray="2.8 2.3"/>
<polyline points="201.6,874.4 230.6,900.6 263.8,936.6 297,978.1 324.7,1008.5 334.4,1015.4" fill="none" stroke="#000" stroke-width="2.6" stroke-dasharray="2.8 2.3"/>
<polyline points="571.8,492.6 619.9,464.8 671.7,426.9 683.1,437 690.7,445.8 695.1,456" fill="none" stroke="#222" stroke-width="0.9"/>
<polyline points="642.6,481.3 687.5,445.8" fill="none" stroke="#222" stroke-width="0.8"/>
<polyline points="712.2,472.4 729.9,490.1 748.9,515.4 755.2,525.5" fill="none" stroke="#222" stroke-width="0.8"/>
<polyline points="698.3,482.5 703.3,490.1 714.7,510.3 717.2,516.7 714.7,539.4" fill="none" stroke="#222" stroke-width="0.8"/>
<polyline points="657.8,503.4 681.8,535.6" fill="none" stroke="#222" stroke-width="0.8"/>
<polyline points="761.5,519.2 768.5,516.9" fill="none" stroke="#222" stroke-width="0.8"/>
<polyline points="667.4,516.2 696.5,557.9 725.5,604.7 742,630 767.3,667" fill="none" stroke="#222" stroke-width="1.1"/>
<polyline points="657.2,576.9 690.1,559.8 696.5,558.6 720.5,547.8 760.9,523.8 768.5,518.7" fill="none" stroke="#222" stroke-width="0.9"/>
<polyline points="695.2,657.9 742,630 781.2,611.1 776.1,597.1" fill="none" stroke="#222" stroke-width="0.9"/>
<polyline points="728.1,530.1 738.2,550.4 750.8,566.8 774.9,584.5" fill="none" stroke="#222" stroke-width="0.8"/>
<polyline points="744.5,540.2 757.2,557.9 769.8,570.6" fill="none" stroke="#222" stroke-width="0.8"/>
<polyline points="693.1,658.2 742.6,627.7 781.7,610.6" fill="none" stroke="#222" stroke-width="0.9"/>
<polyline points="742.6,627.7 765.5,675.4" fill="none" stroke="#222" stroke-width="1.1"/>
</g>
<g id="Lbld">
<path fill="#000" d="M224.8 199.3 243.4 196.5 244.2 204 225.9 206.2ZM118.9 325.7 135.5 316 146.5 331.2 129.9 340.9ZM145.1 320.2 150.7 317.4 157.6 329.9 152.1 332.6ZM131.3 340.9 138.2 338.2 141 343.7 134.1 347ZM152.1 339.5 163.1 334 165.9 338.2 154.8 343.7ZM161.8 343.7 170.1 340.9 172.8 346.5 164.5 349.8ZM165.9 349.8 172.8 347 175 351.2 167.8 354.5ZM136.8 370 159 354.8 164.5 363.1 142.4 378.3ZM147.9 385.2 170.1 370 175.6 378.3 161.8 386.6 163.1 390.7 153.5 394.9ZM193.6 322.1 198.3 320.2 230.9 367.2 225.9 370ZM183.9 334 193.6 329.3 197.7 335.9 188 340.9ZM190.8 343.7 200.5 338.2 203.8 343.7 194.4 349.2ZM195 349.8 206 344.3 208.8 349.8 198.3 355.9ZM203.3 356.1 212.9 352 222.6 368.6 211.6 374.1ZM185.3 356.1 190.8 353.4 195 361.7 189.4 364.5ZM192.2 371.4 201.9 367.2 204.6 374.1 195.5 378.3ZM200.5 393.5 210.2 388.5 212.1 393 202.7 397.7ZM229.5 371.4 239.2 366.4 241.4 370 231.5 375.5ZM145.1 406 149.3 404 161.8 425.3 157.6 427.3ZM124.4 376.9 128.5 375.5 132.7 385.2 128.5 387.4ZM169.5 435 189.4 421.2 195 430.9 175.6 444.7ZM166.7 447.5 170.1 445.5 172.3 450.2 168.7 452.2ZM92.6 324.3 96.7 322.9 99.5 329.9 95.3 331.2ZM96.7 330.4 99.5 329.3 107.8 342.3 105 343.7ZM124.4 299.4 128.5 298 130.8 303.6 126.3 305ZM138.2 350.6 142.4 348.7 144.6 353.4 140.2 355.3ZM178.4 350.6 181.1 349.2 182.8 352.6 180 353.9ZM179.7 367.2 182.5 365.8 184.4 370 181.7 371.4ZM172.8 357.5 175 356.4 177.8 363.1 175.6 364.2ZM215.7 381.1 219.9 379.1 221.2 382.4 217.1 384.4ZM125.8 383.8 128 383 131.3 388 129.1 389.1ZM135.5 390.7 137.4 389.9 143.8 400.4 141.6 401.5ZM190.8 381.1 192.7 380.2 196.3 386.6 194.4 387.4ZM327.1 185.2 328.7 188 326.1 189.4 324.6 186.6ZM329.7 188.9 331.1 191.4 327.8 193.2 326.4 190.8ZM331.7 193.1 332.9 195.3 330.1 196.8 328.9 194.7ZM333.9 196.5 335.4 199.1 332.1 201 330.7 198.4ZM336.4 200.9 338.1 203.9 334.8 205.8 333.1 202.8ZM338.3 205.7 339.8 208.4 337.7 209.6 336.2 206.9ZM341.2 209.7 342.2 211.7 339.2 213.4 338.1 211.4ZM342.8 213.3 343.9 215.3 341.4 216.6 340.3 214.7ZM344.9 216.6 346 218.7 343.2 220.3 342 218.2ZM321.6 191.6 323 194 320.4 195.4 319 193ZM323.6 195.7 324.8 197.8 322.6 199 321.5 196.9ZM325.5 199.1 327.2 202.2 325 203.4 323.3 200.3ZM328.1 203.4 329.7 206.5 327.2 207.8 325.6 204.8ZM330.3 207.6 331.5 209.8 329.1 211.1 327.9 209ZM332.7 210.9 334 213.3 330.8 215.1 329.4 212.7ZM334.6 214.6 335.7 216.7 332.7 218.3 331.5 216.3ZM336.1 218.1 337.5 220.7 335.1 222 333.7 219.4ZM338.5 222.3 340 225 337.4 226.4 335.9 223.7ZM346 220.9 347.4 223.4 344.3 225.3 342.8 222.8ZM347.8 225.4 349.1 227.5 347 228.7 345.8 226.6ZM350 229 351.6 231.8 349.6 233 347.9 230.2ZM352.8 233.2 354.2 235.5 351.6 237 350.2 234.7ZM355.5 237.1 356.8 239.4 353.7 241.2 352.4 238.9ZM357.6 241.2 359 243.5 356.3 245.1 354.9 242.8ZM359.6 245.1 360.8 247.1 358.6 248.4 357.4 246.4ZM361.6 248.7 362.8 250.8 360.8 251.9 359.6 249.9ZM364 252.3 365.8 255.3 363.3 256.8 361.5 253.7ZM366.3 256.5 367.9 259.2 365.7 260.5 364.1 257.8ZM368.8 260.7 370.5 263.7 368.4 265 366.6 262ZM371.2 264.8 373 267.9 370.8 269.2 369 266.2ZM374 269 375.8 272.1 373.1 273.6 371.4 270.6ZM376.6 273.8 378 276.2 375.7 277.6 374.3 275.2ZM340.3 228.4 341.9 230.9 339 232.7 337.4 230.2ZM342.8 233 344 234.9 341.7 236.4 340.5 234.4ZM345.1 236.6 346.7 239.3 344.5 240.7 342.8 238.1ZM348 241.1 349.6 243.6 347.1 245.2 345.5 242.7ZM350.7 245.5 352.3 248.1 350 249.5 348.4 247ZM353.6 249.2 355.1 251.7 352.1 253.6 350.5 251.1ZM356.2 253.7 357.6 255.8 354.8 257.6 353.4 255.5ZM358.2 257.6 359.6 259.8 357.5 261.1 356.1 258.9ZM360.7 261.1 362.5 264 360.1 265.6 358.2 262.6ZM363.6 265.2 365.3 267.9 362.4 269.7 360.7 267.1ZM366.1 269.5 367.9 272.3 365.2 273.9 363.5 271.2ZM376.6 277.5 379.8 278.6 379 280.9 375.8 279.7ZM382.9 279.6 385 280.4 384.1 282.9 382 282.1ZM388.6 281.4 391 282.3 389.9 285.2 387.5 284.4ZM394.6 283.7 397.3 284.7 396.3 287.5 393.5 286.5ZM400.3 285.6 402.9 286.5 401.7 289.6 399.1 288.7ZM405.7 287.8 408.8 288.9 407.8 291.6 404.7 290.5ZM375.6 189.7 376.8 192.2 375.2 192.9 374 190.4ZM378.6 194.7 379.6 196.7 376.8 198 375.9 196ZM379.9 198.6 381.1 201.1 379.2 202 378 199.4ZM534.1 270.6 536.1 273.4 533.1 275.6 531 272.8ZM536.6 275.2 538.1 277.2 536.2 278.6 534.7 276.6ZM539.2 278.1 540.8 280.2 538.3 282.1 536.7 280ZM541.6 281.2 543.4 283.8 540.8 285.7 539 283.1ZM544.8 285.2 546.3 287.2 543.3 289.4 541.8 287.4ZM547.1 288.4 549.3 291.3 546.3 293.5 544.2 290.6ZM550.2 292.7 552 295.2 549.2 297.3 547.4 294.8ZM553.1 296.5 554.4 298.2 551.4 300.4 550.1 298.7ZM555 299.4 556.3 301.3 553.7 303.2 552.3 301.3ZM557.4 302.5 558.7 304.3 555.9 306.4 554.6 304.5ZM559.5 306 561.1 308.2 558.9 309.8 557.3 307.7ZM562.6 309.6 564.6 312.4 561.9 314.4 559.8 311.7ZM565.8 313.7 567.8 316.4 564.8 318.6 562.8 315.9ZM494.6 316.2 497.7 314.5 498.9 316.8 495.8 318.5ZM499.6 313.1 502.3 311.7 503.9 314.6 501.2 316ZM504.1 310.7 506.9 309.3 508.4 312.1 505.7 313.6ZM509.1 308.5 511.7 307.1 512.9 309.3 510.3 310.7ZM514 305.9 516.6 304.5 517.7 306.7 515.2 308.1ZM518.3 303.2 521.2 301.7 522.7 304.5 519.8 306ZM522.9 301.3 525.9 299.7 526.9 301.7 524 303.3ZM528.1 298.6 530.4 297.4 531.4 299.3 529.1 300.5ZM532.2 295.9 534.5 294.6 536 297.3 533.6 298.6ZM500.2 323.3 502.1 322.3 503.1 324.2 501.3 325.2ZM505.7 320.4 507.8 319.3 508.8 321.1 506.6 322.3ZM510.4 317.8 512.5 316.7 513.5 318.6 511.4 319.7ZM515.8 314.8 517.9 313.6 519.1 315.8 516.9 316.9ZM520 312.3 522.7 310.9 524 313.3 521.3 314.7ZM526.3 309.3 528 308.4 528.9 310.2 527.3 311.1ZM530.1 307 532.6 305.7 533.8 307.9 531.3 309.3ZM511.1 331.8 512.7 333.3 511.5 334.8 509.8 333.3ZM515.6 335.7 517.1 337 515.6 338.6 514.2 337.3ZM519.7 338.8 522 340.9 520.1 343 517.8 340.9ZM524.7 343.7 526.4 345.2 524.9 346.8 523.2 345.3ZM528.5 347.1 530.8 349.2 529.4 350.7 527.1 348.7ZM533.3 351.1 535.1 352.6 533.4 354.5 531.6 353ZM482.1 332.9 484.1 334.3 482.6 336.4 480.6 335ZM486.1 335.9 488.5 337.6 487.3 339.4 484.9 337.7ZM490.3 338.9 492.2 340.2 490.9 342 489.1 340.7ZM493.9 341.4 496.4 343.1 495.1 344.9 492.7 343.2ZM498 343.9 500.1 345.3 498.5 347.6 496.5 346.2ZM501.5 346.2 504.5 348.2 502.7 350.7 499.8 348.7ZM506.3 349.8 508.1 351 506.6 353.2 504.8 352ZM453.1 321.7 455.4 320.5 456.6 322.9 454.3 324.1ZM459 318.6 461.5 317.3 462.9 320 460.3 321.2ZM464.4 316.2 466.5 315.1 467.5 317.3 465.5 318.3ZM460.7 291.4 462 293.3 459 295.3 457.7 293.4ZM463.1 295 464.4 296.9 461.3 298.9 460.1 297ZM464.7 298.4 466.2 300.6 464.1 302 462.6 299.8ZM467.6 301.8 469.2 304.2 466.2 306.1 464.7 303.8ZM469.8 306 471.3 308.3 469.2 309.7 467.7 307.4ZM460.6 268.1 466.1 265.3 474.5 281.4 468.9 284.7ZM467.5 278.6 471.7 275.8 477.2 285.5 472.5 288.3ZM472.3 288.2 480.6 284 482.1 287 473.8 291.2ZM442 290.9 454.5 285.9 455.7 289 443.2 294ZM436.8 280.6 445.1 277.8 445.7 279.4 437.4 282.2ZM426.8 300.1 433.4 295.4 436.3 299.4 429.7 304.2ZM479.1 296.7 494.3 302.2 493.3 304.8 478.1 299.3ZM488.2 290.7 491 300.4 488.3 301.1 485.6 291.4ZM493.5 296.2 496.2 303.1 494.2 303.9 491.4 297ZM482.2 302.7 486.3 306.9 484.7 308.4 480.6 304.3ZM487.1 309.5 495.4 310.9 495 312.8 486.7 311.4ZM466.3 336 473.2 331.8 475.7 336.1 468.8 340.2ZM525 342.5 538.3 335.1 539.5 337.2 526.3 344.7ZM537.7 336.3 539.4 340.4 537.3 341.3 535.7 337.1ZM550 339 559.1 333.4 561.4 337.2 552.2 342.8ZM559.3 347.1 567.6 358.7 565.6 360.1 557.3 348.5ZM544.3 366.5 559.5 357.7 560.9 360 545.7 368.9ZM567.9 326.7 575.7 347.5 574.1 348.1 566.4 327.3ZM475.7 356.8 483.5 353.4 484.8 356.5 477 359.8ZM478.1 366 485.1 363.2 486 365.5 479.1 368.3ZM493.4 367.1 499.5 377.7 497.6 378.8 491.5 368.3ZM497.5 365.2 503.6 374.9 501.7 376 495.7 366.4ZM501.7 363.2 507.8 372.9 505.9 374.1 499.8 364.4ZM478.5 374.9 481.3 381.9 478.7 382.9 475.9 376ZM485.2 372.1 494.9 366.5 495.5 367.7 485.9 373.3ZM519.3 356.5 527.6 362.1 526.4 363.9 518.1 358.4ZM579.3 361 584.8 370.7 582.7 371.9 577.1 362.2ZM564 373 580.6 366.1 581.4 368.2 564.8 375.1ZM562.6 379.8 580.6 374.3 581.4 376.6 563.4 382.2ZM572.3 174.4 582.8 189.3 579.2 191.9 568.7 176.9ZM586.2 196.3 601.7 185.5 603.4 188 587.9 198.8ZM556.7 190.5 566.4 197.5 565.1 199.3 555.4 192.3ZM539.2 202.4 552.5 198.8 553 200.7 539.7 204.3ZM559.9 203.6 564.1 219.7 561.9 220.2 557.8 204.2ZM566.6 209 569.4 214.5 567.7 215.4 564.9 209.9ZM574.1 201.1 579.6 206.7 576.8 209.4 571.3 203.9ZM325.8 285.1 328.2 286.5 327 288.7 324.6 287.3ZM334.1 276.8 336.5 278.2 335.3 280.4 332.9 279ZM342.4 274.1 344.8 275.4 343.6 277.6 341.2 276.2ZM348 271.3 350.4 272.7 349.1 274.8 346.7 273.5ZM356.8 294.8 359.2 296.2 358 298.4 355.6 297ZM317.5 310 319.9 311.4 318.7 313.6 316.3 312.2ZM342.4 336.3 344.8 337.7 343.6 339.9 341.2 338.5ZM332.8 364 335.1 365.4 333.9 367.5 331.5 366.2ZM383.9 301.7 386.3 303.1 385.1 305.3 382.7 303.9ZM389.5 301.2 391.9 302.6 390.6 304.7 388.2 303.3ZM411.1 299.5 413.5 300.9 412.2 303.1 409.8 301.7ZM417.1 312.8 419.5 314.2 418.3 316.3 415.9 315ZM393.6 323.9 396 325.3 394.8 327.4 392.4 326ZM385.3 310 387.7 311.4 386.5 313.6 384.1 312.2ZM450.4 308.7 452.8 310 451.5 312.2 449.1 310.8ZM458.7 321.1 461.1 322.5 459.8 324.6 457.4 323.3ZM458.7 330.8 461.1 332.2 459.8 334.3 457.4 332.9ZM465.6 314.2 468 315.6 466.7 317.7 464.3 316.3ZM430.2 388.3 443.5 386.9 444.8 406.3 431.8 407.7ZM434.8 413.8 443.1 412.4 443.8 416.8 435.5 418.2ZM436.2 422.6 448.7 420.4 449.3 423.7 436.8 425.9ZM425.8 439.9 434.1 437.1 435.1 440.2 426.8 443ZM442.9 438.5 449.8 434.4 450.9 436.3 444 440.4ZM468.4 443.2 478.1 472.2 475.2 473.2 465.5 444.1ZM453.2 441.8 464.3 477.8 461.4 478.7 450.3 442.7ZM430.6 466 447.7 471.5 446.9 473.9 429.8 468.3ZM432.8 472.9 449.9 478.4 449.2 480.8 432 475.3ZM435 479 452.1 484.5 451.4 486.9 434.2 481.4ZM436.9 485.3 454.1 490.9 453.3 493.3 436.2 487.7ZM438.3 491.7 455.5 497.2 454.7 499.6 437.5 494.1ZM443.7 504.5 453.4 506.5 452.9 509.2 443.2 507.3ZM473 479.1 482.7 481.9 481.7 485.6 472 482.9ZM474.5 486.1 482.3 488.9 481 492.5 473.2 489.7ZM418.3 492.9 429.4 490.7 429.8 492.9 418.8 495.1ZM425.9 501.2 430.3 512.3 427.8 513.3 423.4 502.3ZM432.3 499.8 437 510.9 434.4 512 429.7 500.9ZM424.1 518.1 426.3 526.4 424.7 526.9 422.4 518.6ZM428.7 529 434.2 545.6 431.6 546.5 426.1 529.9ZM441.7 522.2 444.5 531.9 442.4 532.5 439.6 522.8ZM457.5 515.2 461.1 530.4 457.9 531.2 454.3 516ZM470.9 490.4 475.1 505.6 472.7 506.2 468.5 491ZM490.2 504.2 494.3 516.6 492.2 517.3 488.1 504.9ZM480.2 498.8 482.4 508.5 480.8 508.9 478.6 499.2ZM461.2 509 473.6 506.2 474.1 508.4 461.7 511.1ZM471.1 546 489.1 542.7 497.4 569.5 479.4 573.7ZM470 559.6 472.5 567.9 470.9 568.4 468.4 560.1ZM365.6 633.9 368.9 644.9 364.1 646.4 360.8 635.3ZM374.7 629.7 379.4 640.7 375.8 642.2 371.1 631.2ZM371 657.3 382.1 653.7 383.1 656.9 372 660.5ZM360.9 682.5 372 685.3 371 689 360 686.3ZM372.4 695.7 380.7 699.8 378.9 703.3 370.6 699.1ZM383.2 701.4 399.8 696.4 401.3 701.2 384.7 706.1ZM390.3 673.1 393.1 682.8 391.5 683.2 388.7 673.5ZM422.6 683.9 426.8 695 424.2 695.9 420 684.9ZM365.7 703 369.9 709.1 367.6 710.6 363.4 704.5ZM550 638.7 566.6 636 569.4 648.4 552.8 652.6ZM527.8 684.4 554.1 678.8 559.7 701 533.4 707.9ZM616.5 643.1 630.4 637.6 632.8 643.7 619 649.3ZM632.3 636.6 637.8 651.8 633.7 653.3 628.2 638.1ZM603.6 659 607.2 667.3 605.1 668.2 601.5 659.9ZM613 656.2 617.7 668.7 615.1 669.7 610.4 657.2ZM570.4 667.1 584.3 663.8 584.9 666.2 571 669.5ZM567.5 676.9 574.4 674.1 575.4 676.4 568.4 679.2ZM578.1 679.3 584.2 686.2 582.2 688.1 576.1 681.1ZM646.5 645.1 657.6 641.8 658.2 643.9 647.2 647.3ZM612.6 536.7 616.7 538.1 616 540.2 611.9 538.8ZM603.2 553.4 607.3 556.2 606.1 558 601.9 555.2ZM494.2 389.7 510 379.4 523.3 395.7 507.9 405.9ZM511.3 404.2 523.3 397.4 542.1 424.7 546.4 431.6 539.5 435.8 519.9 411ZM532.7 394.8 540.4 391.4 559.2 417.9 551.5 421.3ZM483.9 421.3 500.2 411.9 502.8 415.3 488.2 424.7 492.5 429.9 489.1 432.4ZM493.4 396.3 499 403.1 496.3 405.3 490.7 398.4ZM476.5 374.9 482.4 380.9 480.3 383 474.3 377ZM485.6 375.2 505.2 364 507.1 367.4 487.5 378.5ZM515.6 448.7 527.6 441.8 535.3 452.1 523.3 459.8ZM509.5 449.8 523.2 465.2 520 468.1 506.3 452.7ZM532 439.9 538 445.9 535.9 448 529.9 442ZM551.9 438.4 567.7 428.2 571.2 433.3 555.4 443.5ZM537 447.2 549.8 440.3 551.5 443.3 538.6 450.2ZM545.5 454.9 554.9 448.9 556.7 451.8 547.3 457.8ZM547.9 461.6 559.9 453.9 561.9 457.1 550 464.8ZM564.3 443 572 452.5 568.7 455.2 561 445.8ZM575.9 435.6 581.9 442.4 579.3 444.7 573.3 437.8ZM529.3 466.6 539.5 460.6 547.2 471.9 528.4 471.9ZM572.5 462.1 576.8 467.2 574.1 469.4 569.9 464.3ZM579.5 454.9 593.2 450.7 593.6 451.8 579.9 456.1ZM559.8 372.8 568.3 368.6 570.6 373.1 562.1 377.4ZM561.7 385.4 575.4 377.7 577.2 381.1 563.6 388.8ZM572.5 391.7 588.8 383.1 591.2 387.7 574.9 396.2ZM580.2 370.7 586.2 378.4 583.5 380.5 577.5 372.8ZM468 442.9 478.7 471.3 475.5 472.5 464.8 444.1ZM461.7 446.6 467.6 471.5 464.3 472.3 458.3 447.4ZM573.7 462.6 577.3 470.9 575.3 471.8 571.7 463.5ZM589.9 451.8 596.3 462.3 593.9 463.7 587.5 453.2ZM513.5 514.4 516 513.2 517.1 515.6 514.6 516.8ZM517.6 512.6 520 511.5 521 513.7 518.6 514.8ZM521.1 510.6 522.9 509.8 524.2 512.5 522.4 513.3ZM524.2 509 526.6 507.9 527.9 510.9 525.6 512ZM528.1 507.8 530 506.8 531 508.9 529 509.8ZM531.3 506 533.5 504.9 534.7 507.5 532.4 508.5ZM539.7 501.9 542.2 500.6 543.4 503.2 540.9 504.4ZM543.5 500.3 546.3 499 547.2 500.9 544.5 502.3ZM547.4 498.1 549.4 497.1 550.5 499.5 548.6 500.5ZM550.3 496.5 552.3 495.4 553.6 498.2 551.6 499.2ZM553.3 495.1 555.5 494 556.7 496.4 554.6 497.5ZM556.6 493.1 558.8 492 560.3 495 558.1 496.1ZM560.2 491.5 562.1 490.6 563.4 493.2 561.5 494.2ZM563.6 490.1 566.1 488.8 567.2 491.1 564.8 492.3ZM567.1 487.9 569.4 486.8 570.9 489.7 568.6 490.8ZM570.9 485.9 573 484.9 574.6 487.9 572.5 489ZM574.4 484.5 576.8 483.3 578.1 485.8 575.7 487.1ZM577.8 482.9 579.5 482 580.7 484.4 579 485.3ZM581 481.2 582.9 480.3 584.1 482.8 582.3 483.7ZM523 517.8 523.9 520.4 520.8 521.4 520 518.9ZM523.9 521.9 524.8 524.7 522.7 525.4 521.8 522.6ZM525.7 526.4 526.6 529.2 524 530.1 523.1 527.3ZM527 530.7 527.7 532.6 525.3 533.4 524.6 531.5ZM528.8 534.4 529.7 537.1 526.4 538.2 525.5 535.5ZM530 538.5 530.7 540.6 527.8 541.6 527 539.5ZM531.1 542.3 531.9 544.7 529.3 545.6 528.5 543.2ZM532.5 545.8 533.2 547.6 530.1 548.7 529.5 546.9ZM533.6 548.9 534.3 551.2 531.3 552.2 530.5 550ZM534.4 552.8 535.2 555.1 533 555.8 532.2 553.6ZM535.7 556.5 536.6 559.1 534.3 559.8 533.5 557.3ZM537.1 561 538 563.5 536 564.2 535.1 561.7ZM538.7 564.8 539.6 567.5 537.1 568.4 536.1 565.7ZM540.4 568.7 541.4 571.6 538.2 572.7 537.2 569.8ZM535.2 516.9 536.3 519.3 533.8 520.5 532.7 518.1ZM536.6 520.6 537.6 522.8 535.6 523.8 534.6 521.5ZM538.3 524 539.3 526.3 537.2 527.3 536.1 525ZM539.9 527.6 541.1 530.2 539 531.1 537.8 528.6ZM542 531.1 542.8 532.9 540 534.2 539.1 532.4ZM543.2 534.4 544.5 537 542.1 538.1 540.8 535.5ZM545.4 538.4 546.4 540.4 543.4 541.8 542.5 539.7ZM546.6 541.8 547.5 543.5 545.1 544.6 544.3 542.9ZM548.5 544.9 549.7 547.3 546.6 548.7 545.5 546.3ZM550 548.4 551.3 551.2 548.5 552.5 547.2 549.8ZM551.5 552.6 552.5 554.7 550.4 555.7 549.4 553.5ZM553.4 555.4 554.7 558.1 551.6 559.5 550.4 556.9ZM555.2 559.5 556.1 561.4 553.2 562.7 552.3 560.8ZM556.5 563 557.7 565.6 555.4 566.7 554.2 564ZM558.4 566.7 559.3 568.6 556.7 569.8 555.8 567.9ZM559.7 569.7 560.6 571.6 558.1 572.7 557.3 570.9ZM561.3 573.1 562.5 575.6 559.9 576.7 558.8 574.3ZM563 577 563.9 578.9 561.5 579.9 560.7 578.1ZM564.9 580.2 566 582.6 563.1 584 561.9 581.6ZM553.9 509.5 555.1 512.1 552.7 513.2 551.6 510.6ZM555.5 513.2 556.4 514.9 554.1 516 553.3 514.2ZM557.2 516 558.4 518.9 555.6 520.1 554.4 517.3ZM558.9 520.3 559.7 522.1 557.3 523.2 556.5 521.4ZM560.3 523 561.2 525 558.5 526.3 557.6 524.3ZM561.6 526.6 562.4 528.3 560.2 529.4 559.4 527.6ZM563 529.9 563.8 531.7 561.8 532.6 561 530.8ZM564.9 532.7 565.8 534.6 562.7 536 561.8 534.1ZM566.1 535.9 566.9 537.7 564.3 538.9 563.5 537.1ZM567.4 538.8 568.7 541.6 566 542.8 564.8 540ZM569.4 542.8 570.5 545.1 567.5 546.5 566.5 544.1ZM570.9 546.2 571.8 548.2 569 549.5 568 547.5ZM572.1 549.3 573.3 552.1 570.9 553.2 569.6 550.4ZM573.8 553.7 574.9 556.1 572.9 557 571.8 554.6ZM575.7 556.8 576.6 558.7 573.8 560 572.9 558.1ZM577.3 560 578.3 562.1 575.2 563.5 574.2 561.4ZM578.5 563.3 579.4 565.4 576.9 566.5 576 564.5ZM579.9 566.8 581.1 569.4 578.8 570.4 577.6 567.8ZM569.8 535.7 570.9 537.9 568.3 539.2 567.2 537ZM571.7 540.1 572.9 542.6 570.8 543.6 569.6 541.1ZM573.8 543.8 575.2 546.6 572.7 547.8 571.3 545.1ZM575.6 548 576.9 550.6 574.8 551.6 573.6 549ZM578.2 552.4 579.1 554.2 576.4 555.6 575.5 553.7ZM579.8 555.8 581.1 558.5 578.6 559.7 577.3 557.1ZM582 559.9 583.1 562 580.2 563.4 579.1 561.3ZM583.8 563.8 585.1 566.5 582.5 567.8 581.2 565.1ZM586 568 587 570 584.2 571.4 583.2 569.4ZM587.7 571.3 588.6 573.1 585.7 574.6 584.8 572.8ZM589.2 574.9 590.2 576.8 587.7 578 586.7 576.1ZM548.1 594.9 550.8 594.1 551.7 597 549.1 597.8ZM552.1 593.8 554.3 593.1 555.2 595.6 552.9 596.3ZM555.8 592.6 558.3 591.8 559.1 594.3 556.6 595.1ZM559.9 591.3 561.8 590.7 562.6 593.1 560.7 593.7ZM563 590.3 564.9 589.6 565.7 592 563.8 592.7ZM566 589 568.5 588.1 569.4 591.1 566.9 591.9ZM570 587.9 572 587.2 572.8 589.7 570.8 590.3ZM573 586.6 575.6 585.7 576.6 588.7 574 589.6ZM577 585.1 579.6 584.3 580.7 587.5 578.1 588.3ZM580.9 584.4 583.1 583.7 583.9 585.9 581.7 586.6ZM584.1 583.1 586.4 582.3 587.3 585 585 585.8ZM587.8 581.9 590 581.1 590.9 583.7 588.7 584.5ZM591.7 580.8 593.5 580.2 594.2 582.4 592.4 583ZM594.7 579.9 597.2 579.1 597.9 581.1 595.4 581.9ZM598.8 578.2 600.9 577.5 601.8 580.1 599.6 580.8ZM602.2 576.8 604.3 576.1 605.3 579.2 603.2 579.9ZM605.8 576.1 608.2 575.3 608.9 577.4 606.5 578.2ZM609.3 574.7 611.6 573.9 612.5 576.6 610.2 577.4ZM612.7 573.6 614.9 572.8 615.8 575.4 613.6 576.2ZM564.6 588.7 567.5 587.7 568.7 590.8 565.8 591.9ZM569.3 587.3 572.1 586.3 573.1 589 570.2 590ZM573.9 585.7 576.8 584.7 577.8 587.3 574.8 588.3ZM578.3 584.1 580.3 583.4 581.2 586 579.3 586.7ZM582.1 582.9 584.4 582.1 585.2 584.5 583 585.3ZM585.9 581.8 587.7 581.1 588.4 583.1 586.6 583.7ZM589.1 580.4 591.3 579.6 592.1 582 590 582.8ZM592.6 578.8 594.8 578 595.9 581 593.7 581.8ZM596.5 577.8 598.8 577 599.6 579.3 597.4 580.1ZM600.6 576.2 602.6 575.5 603.5 578 601.5 578.7ZM604.4 574.6 606.2 573.9 607.3 576.9 605.5 577.6ZM608.2 573.5 610.4 572.7 611.3 575.2 609.1 576ZM612.3 572.3 615 571.3 615.7 573.4 613 574.3ZM541.4 573.2 542.6 576.1 540.4 577 539.2 574.2ZM544 578 544.8 579.9 541.7 581.2 540.9 579.3ZM545.5 581.6 546.4 583.7 543.3 585 542.5 582.9ZM547.1 586.3 548.1 588.5 545.7 589.5 544.7 587.3ZM549.1 590.5 549.8 592.3 547.2 593.4 546.4 591.6ZM551 603.9 553.5 603.4 554.2 606.6 551.7 607.1ZM555.9 602.8 558.4 602.3 559.1 605.5 556.6 606ZM561.2 602 563.2 601.6 563.7 604.1 561.7 604.5ZM565.5 601 567.7 600.5 568.3 603.2 566.1 603.7ZM569.9 600 572.8 599.3 573.5 602.1 570.5 602.8ZM575 598.7 577.1 598.2 577.8 601.4 575.7 601.8ZM579.2 597.9 581.1 597.4 581.8 600.4 579.9 600.8ZM583.9 597.1 586.3 596.6 586.8 599 584.4 599.5ZM588.4 595.9 590.7 595.4 591.3 598.2 589 598.7ZM593.7 594.9 596.2 594.3 596.8 596.9 594.2 597.4ZM598.5 593.5 600.4 593.1 601 596.2 599.2 596.6ZM603 593 605.8 592.4 606.3 594.5 603.5 595.2ZM607.8 591.6 610.3 591.1 610.9 593.9 608.5 594.4ZM612.6 590.6 615.4 590 616 592.8 613.3 593.4ZM617.5 589.9 620.6 589.2 621 591.3 618 592ZM559.4 622.9 562.4 622.2 562.9 624.6 559.9 625.2ZM563.8 622 566.2 621.5 566.7 623.7 564.3 624.2ZM567.8 621.2 570.7 620.6 571.2 622.6 568.2 623.3ZM572 619.7 574.4 619.2 575.1 622.4 572.7 622.9ZM576.1 619 578.6 618.4 579.2 621.4 576.7 621.9ZM580 618.4 582.6 617.8 583.1 620.2 580.5 620.8ZM584 617 586.3 616.5 587 619.8 584.7 620.4ZM588 616.6 590.5 616.1 591.1 618.5 588.5 619.1ZM591.9 615.5 594.5 615 595.1 617.9 592.6 618.4ZM596 614.5 598.3 614 599 617.1 596.7 617.6ZM599.7 613.7 602.7 613.1 603.4 616.2 600.4 616.9ZM604 613 606.3 612.5 606.9 615.2 604.6 615.7ZM607.9 612 609.9 611.5 610.6 614.6 608.5 615ZM611.5 611.2 614.2 610.7 614.9 613.6 612.2 614.2ZM616 610.2 618.4 609.6 619.1 612.8 616.7 613.3ZM620 609.8 622.6 609.2 623.1 611.4 620.5 612ZM570.3 633.1 572.9 632.3 573.8 635.3 571.2 636.1ZM574.6 631.7 576.9 631 577.8 634.3 575.6 634.9ZM578.7 631.2 580.9 630.5 581.5 632.5 579.3 633.2ZM582.4 629.8 584.5 629.2 585.2 631.6 583.1 632.3ZM586.4 628.4 588.5 627.8 589.3 630.7 587.2 631.3ZM590.1 627.7 593 626.8 593.6 629.1 590.8 630ZM594.9 626.3 597.9 625.4 598.6 627.6 595.5 628.5ZM599.9 624.9 601.9 624.3 602.5 626.5 600.6 627ZM603.2 623.3 606.2 622.4 607.2 625.7 604.2 626.6ZM617.4 584.1 619.3 583.4 620.2 585.9 618.2 586.6ZM621.3 582.9 623.1 582.3 623.9 584.5 622 585.1ZM624.9 581.1 627.6 580.2 628.7 583.5 626 584.4ZM629.4 580 632 579.1 632.8 581.7 630.2 582.6ZM633.8 578.8 636.7 577.8 637.4 580 634.5 580.9ZM638.6 576.6 640.4 576 641.5 579.2 639.7 579.8ZM636.5 541 637.2 542.6 633 544.4 632.3 542.8ZM637.9 544 638.8 546.2 634.5 548.1 633.5 545.9ZM640.2 547.4 641 549.3 635.3 551.8 634.4 549.8ZM641.3 551.1 642.3 553.5 637.5 555.6 636.4 553.2ZM643.2 555.1 644.2 557.4 639 559.7 638 557.4ZM644.6 559.7 645.5 561.9 641.4 563.7 640.5 561.5ZM646.9 563.7 647.7 565.6 642.7 567.8 641.8 565.9ZM648.8 566.9 649.6 568.7 643.6 571.3 642.8 569.5ZM649.8 570.5 650.5 572.2 645.5 574.4 644.8 572.7ZM671.9 623.9 673.7 626.9 670.6 628.8 668.8 625.8ZM675.1 628.9 676.5 631.2 673.3 633.2 671.9 630.9ZM677.4 633.8 679.1 636.5 676.8 637.9 675.1 635.1ZM680.4 638.8 681.9 641.3 679.8 642.6 678.3 640.1ZM683.4 643.6 685.2 646.5 683 647.9 681.2 644.9ZM459.5 676.4 462.7 675.4 463.7 678.6 460.6 679.6ZM464.3 674.9 467.5 673.9 468.5 677.2 465.3 678.2ZM469.5 673.7 471.6 673.1 472.4 675.5 470.3 676.2ZM473.7 672.2 476.2 671.4 477.1 674.2 474.6 675ZM477.8 670.8 480.3 670 481.3 673 478.7 673.8ZM482.4 669.2 484.5 668.6 485.5 671.8 483.4 672.5ZM486.1 668.4 488.3 667.7 489.1 670.3 487 671ZM490.6 667.2 493.1 666.4 493.8 668.7 491.3 669.5ZM494.8 665.9 498 664.9 498.7 667.1 495.5 668.1ZM499.5 664.2 502.7 663.2 503.5 665.9 500.3 666.9ZM444.5 686.7 447.2 685.7 447.9 687.7 445.2 688.7ZM449.2 684.4 452.5 683.2 453.6 686.2 450.3 687.4ZM454.1 683.1 456.7 682.2 457.5 684.3 454.9 685.3ZM458.2 681.3 461 680.3 462 683 459.2 684ZM525 653.6 526.7 656.2 524.1 657.9 522.4 655.4ZM527.6 657.4 528.6 659 525.9 660.8 524.9 659.2ZM529.1 660.6 530.6 662.8 528.7 664.1 527.2 661.9ZM531.5 663.9 533 666.1 530.7 667.5 529.3 665.3ZM534.1 667.6 535.7 670 533.3 671.6 531.7 669.2ZM536.3 671.4 537.8 673.6 535.8 674.9 534.3 672.7ZM495.5 659.6 498 658.5 499.1 661.1 496.6 662.1ZM500.5 657.5 502.9 656.6 503.9 659 501.6 660ZM504.4 655.6 506.4 654.7 507.7 657.8 505.7 658.7ZM508.4 654.3 511.6 653 512.6 655.4 509.4 656.7ZM578.5 702.8 581.5 701.8 582.5 704.8 579.5 705.8ZM582.7 701.6 585.6 700.7 586.5 703.3 583.6 704.2ZM587.3 699.8 590.3 698.8 591.3 702 588.4 703ZM592.1 698.7 595.4 697.6 596.2 699.9 592.9 701ZM596.9 696.6 599.8 695.6 600.9 698.8 598 699.8ZM601 695.2 604 694.2 605.1 697.4 602.1 698.4ZM606 694 609.1 693 609.9 695.3 606.8 696.3ZM610.9 691.8 613.1 691.1 614.3 694.4 612 695.2ZM615.1 690.9 617.5 690.1 618.3 692.6 615.9 693.4ZM618.9 689.5 621.8 688.5 622.7 691.3 619.8 692.3ZM623.2 687.5 626.3 686.5 627.6 690.2 624.4 691.2ZM628.4 686.4 631.1 685.4 632 688.1 629.3 689.1ZM632.8 685.2 634.8 684.5 635.6 686.7 633.5 687.4ZM636.4 683.6 639.4 682.6 640.3 685.5 637.4 686.4ZM641.2 681.6 644.1 680.7 645.2 684.2 642.4 685.2ZM645.8 680.2 648.4 679.3 649.5 682.7 646.9 683.5ZM649.9 679.3 653.1 678.3 653.9 680.7 650.8 681.8ZM654.4 677.2 657.4 676.2 658.6 679.8 655.6 680.8ZM659.3 675.9 661.8 675.1 662.8 678 660.3 678.8ZM663.5 674.8 665.7 674.1 666.5 676.5 664.3 677.2ZM666.9 673.1 670.2 672 671.3 675.5 668.1 676.6ZM671.7 671.9 674.9 670.8 675.9 673.6 672.6 674.7ZM676.9 670.4 680.3 669.3 681.1 671.6 677.7 672.7ZM681.6 668.4 684.1 667.6 685.1 670.6 682.6 671.5ZM586.8 694.6 589 693.9 590 696.6 587.8 697.4ZM590.3 693.3 592.4 692.6 593.4 695.4 591.3 696.2ZM594.3 691.9 596.6 691 597.6 693.9 595.3 694.7ZM598.3 690.1 600.7 689.3 602 692.6 599.5 693.5ZM602.1 689.3 604.6 688.4 605.5 690.8 603 691.7ZM606.3 687.9 609.6 686.7 610.4 688.9 607.1 690.1ZM610.7 685.9 612.9 685 614 688.1 611.7 688.9ZM614.1 684.3 616.6 683.4 617.9 687 615.4 687.9ZM618.3 683.5 620.5 682.7 621.3 685 619.2 685.8ZM621.7 682.2 625 681 625.9 683.5 622.6 684.7ZM626.7 679.8 628.9 679.1 630.1 682.5 627.9 683.3ZM630.4 678.5 632.8 677.6 634.1 681.1 631.6 682ZM634.8 677.3 638 676.2 639 678.9 635.8 680ZM639.8 675.1 641.8 674.3 643.1 677.9 641.1 678.6ZM643.5 674 646.5 672.9 647.6 676 644.6 677ZM647.9 672.3 650.9 671.2 652.1 674.4 649 675.5ZM652.6 670.7 655.4 669.7 656.5 672.8 653.7 673.8ZM657.1 669.3 659.5 668.4 660.5 671.1 658.1 672ZM661 668 664.1 666.9 665 669.4 661.9 670.5ZM665.4 666.5 667.6 665.6 668.5 668.1 666.3 668.9ZM668.8 665.2 671 664.4 671.9 666.9 669.7 667.7ZM672.7 663.4 675.2 662.5 676.4 665.6 673.8 666.6ZM677.1 662 679.7 661 680.8 663.9 678.1 664.9ZM681.8 660.6 684.3 659.7 685.1 662 682.6 662.9ZM633.9 664.3 636.6 663.3 637.6 665.8 634.9 666.8ZM638 662.6 640.9 661.6 641.9 664.4 639 665.4ZM642.4 660.8 644.9 659.9 646.1 663.1 643.6 664ZM646.3 659.4 649.3 658.3 650.5 661.4 647.4 662.6ZM650.8 657.9 653.6 656.8 654.7 659.7 651.8 660.8ZM654.9 656.2 657.3 655.3 658.5 658.5 656.1 659.4ZM659 654.7 662.3 653.5 663.4 656.7 660.1 657.9ZM663.9 653.3 666.7 652.3 667.6 654.7 664.8 655.7ZM668.1 651.6 671.4 650.4 672.4 653.1 669.1 654.3ZM672.6 649.8 675.4 648.7 676.5 651.8 673.7 652.8ZM677.3 647.9 679.8 647 681 650.2 678.5 651.1ZM681.5 646.9 684.7 645.7 685.6 648 682.3 649.2ZM585.4 706.3 588.5 705.2 589.7 708.3 586.5 709.5ZM590.2 705 592.7 704.1 593.6 706.5 591.1 707.4ZM593.8 703.5 596.6 702.5 597.6 705.2 594.8 706.3ZM598.4 701.8 601.2 700.8 602.2 703.7 599.4 704.7ZM602.6 699.9 604.7 699.2 606 702.7 603.9 703.4ZM415.2 701.1 418.7 700.1 419.7 703.7 416.3 704.7ZM421.5 700 424.7 699 425.4 701.3 422.2 702.2ZM427.3 697.7 429.4 697 430.4 700.3 428.3 701ZM431.7 696.1 435.1 695.1 436.2 698.8 432.8 699.8ZM438.1 694.9 441.3 693.9 442 696.4 438.8 697.3ZM443.3 693.2 446.1 692.4 446.9 695.1 444.1 695.9ZM448.2 691.7 451.1 690.8 451.9 693.6 449 694.5ZM454.2 690 456.8 689.3 457.5 691.8 455 692.5ZM506.7 671.9 508.8 671.2 509.7 674.1 507.5 674.7ZM511.9 670.8 515 669.8 515.6 671.9 512.5 672.8ZM518.1 668.6 521 667.7 521.8 670.3 518.9 671.2ZM650.2 596.7 652.9 598 651.8 600.5 649 599.2ZM659.9 602.2 662.6 603.5 661.5 606 658.7 604.7ZM635 605 637.7 606.3 636.6 608.8 633.8 607.5ZM658.5 618.8 661.2 620.1 660.1 622.6 657.3 621.3ZM669.6 628.5 672.3 629.8 671.1 632.3 668.4 631ZM614.2 559.3 617 560.6 615.8 563.1 613 561.9ZM596.2 555.2 599 556.5 597.8 559 595.1 557.7ZM567.2 653.4 569.9 654.7 568.8 657.2 566 655.9ZM434.4 559.3 437.1 560.6 435.9 563.1 433.2 561.9ZM412.5 624.7 446.7 608.5 452.7 624.7 420.2 640.1ZM456.1 612.8 482.6 599.9 486.9 607.6 460.4 621.3ZM473.5 600.6 478.1 598.4 479.8 601.9 475.1 604ZM457 628.2 474.9 620.5 485.2 641 466.4 649.5ZM472.1 646 475.5 651.1 472.6 653 469.2 647.9ZM426.6 643.1 451.8 637.6 457.4 652.1 436 666.2ZM446.1 582.8 449.5 590.5 445.6 592.2 442.2 584.6ZM451 593.9 469.8 588.4 471.1 592.2 452.3 598.2ZM411.2 615 423.2 610.7 424 613.1 412.1 617.4ZM395.3 629.5 404.7 625.7 405.7 628.1 396.3 631.9ZM501.4 592.2 521.1 588 532.2 626.4 513.4 632.4ZM490.8 588.4 505.3 584.2 506.1 586.6 491.5 590.9ZM492.2 593.8 496.1 601.5 492.3 603.5 488.4 595.8ZM514.9 636.7 517.9 643.5 514 645.3 511 638.4ZM522.2 634.2 528.6 646.2 525.6 647.8 519.2 635.8ZM520.6 648.3 531.8 644.1 532.7 646.5 521.6 650.7ZM497.7 580.7 503.7 579.4 504.3 581.9 498.3 583.2ZM758.4 495.4 761.8 502.9 760.5 503.4 757.2 495.9ZM761.2 497.3 764.5 504.8 763.3 505.4 759.9 497.9ZM764 499.2 767.3 506.4 766 507 762.7 499.8ZM773.3 490.5 775.5 491.7 774.4 493.6 772.2 492.4ZM807.3 546.9 809.3 555.1 805.5 556 803.6 547.8ZM810.1 556.3 814.4 554 822.2 560.2 818.3 565.6ZM831.2 536.9 849.1 543.2 848.1 546.1 830.2 539.9ZM826.4 548.9 843.2 555.5 840.8 561 824.5 554.3ZM835.6 560.1 841 561.3 840.6 563 835.2 561.8ZM837.7 567.2 853.3 572.6 851.7 577.3 836.2 571.8ZM846.5 529.9 849.5 531.1 848.4 534.1 845.3 533ZM855.7 533 853.8 538.5 851.2 537.6 853.1 532.1ZM861.8 534.9 870.4 538 868.4 544.2 859.9 541.1ZM874.8 540.9 878.7 542.8 877.6 544.9 873.7 542.9ZM874.6 556.3 888.2 560.2 884.4 574.2 871.1 570.3ZM871.8 556.8 867.9 567.7 865 566.6 868.9 555.8ZM857.7 546.9 866.2 550.4 865.2 552.9 856.6 549.4ZM821 553.1 822.3 553.5 821.8 554.9 820.5 554.4ZM817 544.9 818.4 545.5 818 546.6 816.6 546.1ZM960 672.7 971 678.3 969 682.2 958 676.7ZM964.7 670 968.8 682.5 965.7 683.5 961.5 671.1ZM952.8 671.1 954.9 671.8 954.1 673.9 952 673.1ZM366 711.1 382.6 704.2 386.7 713.8 370.1 722.1ZM371 700.9 398.7 694 399.6 697.7 372 704.6ZM395.2 725.8 405.7 721.7 406.5 723.7 396 727.9ZM423.6 734.8 430.5 732 431.5 734.4 424.5 737.1ZM421.3 747 433.8 742.9 437.9 754 425.5 758.1ZM410 756.6 414.1 755.5 414.6 757.4 410.5 758.5ZM439 728.1 452.8 723.4 453.4 725.3 439.6 730ZM440.4 734.5 454.2 729.5 454.8 731.3 441 736.3ZM443.1 741.1 451.4 738.4 452.1 740.2 443.8 743ZM458.4 718.8 466.7 735.4 464.5 736.5 456.2 719.9ZM466.7 716.1 476.4 736.8 474.1 737.9 464.5 717.1ZM474.9 711.8 481.9 722.9 479.8 724.2 472.8 713.1ZM481.8 707.3 490.1 704.5 490.8 706.6 482.5 709.4ZM480.4 726.5 492.9 722.3 493.7 724.7 481.2 728.9ZM478.4 714.5 489.5 720 488.7 721.5 477.7 716ZM450 750.1 465.3 745.4 465.9 747.5 450.7 752.2ZM451.4 755.7 465.3 751.5 465.9 753.6 452.1 757.8ZM471.1 738.7 479.4 736 485 754 476.7 756.7ZM502.6 705.1 510.9 723.1 508.9 724 500.6 706ZM503.9 730.1 508 742.6 506.2 743.2 502 730.7ZM545.8 716.6 561.1 712.5 565.2 724.9 550 729.1ZM533.4 700 551.4 700 552.8 704.2 536.1 708.3ZM524.6 732 535.7 727.9 536.6 730.2 525.5 734.4ZM545.4 739.8 560.7 734.8 561.4 737.2 546.2 742.1ZM564 734.2 567.9 743.9 565.8 744.7 562 735ZM509.9 774.7 548.6 760.9 561.1 807.9 523.7 823.1ZM483.8 765.5 492.7 762.7 495 770.1 486.1 772.9ZM504.3 758.6 516.8 754.5 519.6 762.9 507.1 767ZM519.6 753.3 536.2 747.8 538.8 755.7 522.2 761.2ZM493.2 779.8 497.4 793.7 494.7 794.5 490.6 780.6ZM494.6 799.3 497.9 815.9 495.2 816.5 491.9 799.9ZM495.6 815.5 502 832.1 498.4 833.5 492 816.9ZM501 841.8 510.7 837.6 511.8 840.2 502.1 844.3ZM505.9 849.1 508.7 857.4 506.6 858.1 503.8 849.8ZM512.3 850.4 519.2 868.4 517.1 869.2 510.2 851.2ZM564.8 759.1 573.1 779.8 571.1 780.7 562.8 759.9ZM569.5 757.7 577.8 777 575.8 777.9 567.5 758.5ZM575.3 782.2 580.8 794.7 577.3 796.3 571.7 783.8ZM551.1 746.4 564.9 743.1 565.5 745.5 551.7 748.8ZM508.2 821 513.8 829.3 511.5 830.8 505.9 822.5ZM499.8 782.5 503.9 790.8 502 791.8 497.8 783.5ZM588.2 705.4 591.5 704.3 592.5 707.3 589.2 708.4ZM592.9 704.2 596.1 703.2 596.9 705.5 593.7 706.5ZM597.8 702.6 600.2 701.8 601 704.1 598.5 704.9ZM601.3 701.1 604.4 700.1 605.3 703 602.3 704ZM605.9 700 608 699.3 608.7 701.5 606.6 702.2ZM609.3 698.5 611.4 697.7 612.4 700.7 610.2 701.4ZM613.3 697 616.2 696 617.2 699.1 614.3 700.1ZM618 695.4 621.3 694.3 622.3 697.5 619.1 698.5ZM622.6 694 624.9 693.2 625.9 696.2 623.6 697ZM626.3 692.9 629.3 691.9 630.2 694.6 627.2 695.6ZM631 691 633.7 690 634.9 693.4 632.1 694.3ZM603.6 732.5 605.9 731.8 606.6 734.3 604.3 735ZM607.3 731.4 610.4 730.4 611.2 732.8 608.1 733.8ZM611.8 730 615.1 729 615.8 731.4 612.6 732.4ZM616.3 728.1 619.3 727.1 620.4 730.5 617.4 731.4ZM620.4 727.1 623.3 726.2 624.2 729 621.3 729.9ZM624.3 725.7 627 724.8 628 728 625.3 728.9ZM628.7 724.8 632.1 723.8 632.8 726.1 629.4 727.1ZM633 722.8 635.3 722.1 636.5 725.6 634.1 726.4ZM636.6 721.8 638.8 721.1 639.8 724.4 637.7 725.1ZM639.9 720.7 642.1 720 643.2 723.5 641 724.2ZM643.7 720 645.8 719.3 646.6 721.9 644.5 722.6ZM647.3 718.9 650 718 650.8 720.6 648.1 721.5ZM651.5 717.6 653.6 716.9 654.4 719.5 652.3 720.2ZM655 716.6 658.5 715.6 659.2 717.9 655.7 718.9ZM659.8 714.8 662.7 713.9 663.6 716.9 660.7 717.8ZM664 713.8 666.3 713.1 667.1 715.5 664.8 716.2ZM667.9 712.4 670.5 711.6 671.4 714.3 668.7 715.1ZM672.1 711.1 674.6 710.4 675.4 713 672.9 713.8ZM675.8 710.1 678.2 709.4 679 711.8 676.5 712.6ZM679.7 708.7 682.6 707.8 683.5 710.6 680.6 711.6ZM602.1 740.1 605.4 739 606.4 741.8 603 742.9ZM606.7 738.4 609.5 737.5 610.5 740.5 607.7 741.5ZM611 737 614.2 735.9 615.3 739 612.1 740.1ZM615.4 735.2 618.6 734.2 619.7 737.7 616.6 738.8ZM620 734.4 622.8 733.5 623.5 735.8 620.7 736.7ZM624.6 732.9 627.7 731.9 628.4 734.2 625.4 735.2ZM629.4 730.5 632.7 729.4 633.9 733.1 630.6 734.2ZM591.9 719.7 593 721.6 589.4 723.7 588.3 721.8ZM593.5 722.7 595.2 725.7 591.9 727.7 590.1 724.6ZM595.9 727 597.5 729.7 594.3 731.6 592.7 728.9ZM598.1 731.2 599.5 733.7 596.7 735.3 595.3 732.9ZM600.3 734.9 601.5 736.9 598.6 738.6 597.4 736.6ZM602.2 737.9 603.3 739.9 600.2 741.7 599.1 739.7ZM604.3 741.2 606.1 744.3 602.7 746.3 600.9 743.2ZM606.5 745.9 608.3 748.9 605.7 750.4 603.9 747.4ZM633.9 715.1 636.8 714.2 637.8 717.2 634.8 718.1ZM638.2 713.9 641.5 712.9 642.3 715.5 639.1 716.6ZM643.3 712 646.4 711 647.4 714.3 644.3 715.3ZM647.9 711.1 649.9 710.4 650.7 712.7 648.6 713.4ZM651.5 709.7 654.3 708.8 655.1 711.5 652.4 712.4ZM655.5 708.3 658.8 707.2 659.7 710.2 656.4 711.3ZM660.1 706.5 662.5 705.8 663.6 709.3 661.2 710.1ZM664.5 705.4 667.7 704.4 668.7 707.4 665.5 708.4ZM669.5 704.1 672.7 703.1 673.5 705.6 670.3 706.6ZM674.2 702.4 676.3 701.8 677.2 704.7 675.1 705.3ZM678.1 700.9 681.4 699.9 682.4 703.3 679.2 704.4ZM683.1 699.9 685.4 699.1 686.2 701.6 683.8 702.4ZM619.6 717.9 622.5 717 623.4 720 620.4 720.8ZM624.2 716.7 627.2 715.8 627.9 718.5 625 719.3ZM628.5 715.5 631.5 714.6 632.2 717.1 629.2 718ZM632.7 713.8 635.1 713.1 636 716.4 633.7 717.1ZM636.4 713.2 639.6 712.2 640.4 714.6 637.1 715.6ZM640.9 711.3 644.3 710.3 645.3 713.8 642 714.8ZM646.2 710 648.8 709.3 649.7 712.1 647.1 712.9ZM650.2 708.8 652.7 708 653.6 711.1 651.1 711.8ZM654.3 707.2 656.7 706.5 657.8 710.1 655.4 710.8ZM658.3 706.6 661.5 705.6 662.3 708.3 659.1 709.3ZM663.1 704.9 666 704 667 707.2 664.1 708ZM667.4 704 669.9 703.3 670.6 705.7 668.1 706.4ZM671.6 702.1 673.9 701.5 675 705 672.7 705.7ZM675.8 701 677.9 700.4 678.9 703.8 676.8 704.4ZM679.7 700 681.8 699.4 682.8 702.5 680.6 703.1ZM683.1 698.7 686 697.8 687.1 701.5 684.2 702.3ZM687.9 697.5 690.4 696.7 691.4 700 688.8 700.8ZM692.4 696.4 694.8 695.7 695.6 698.5 693.2 699.2ZM619.6 732.5 622.2 731.7 623 734.1 620.4 735ZM623.6 731.2 625.9 730.5 626.7 733 624.4 733.7ZM627.3 729.6 629.5 728.8 630.6 732.2 628.4 732.9ZM631.6 728.6 633.7 727.9 634.5 730.6 632.4 731.2ZM635 727.1 637.3 726.4 638.3 729.7 636.1 730.4ZM638.8 726.4 641.7 725.5 642.4 727.9 639.6 728.8ZM643.3 724.5 646 723.7 647 726.9 644.4 727.7ZM647.6 723.2 650.5 722.3 651.4 725.4 648.6 726.3ZM652.3 721.4 655 720.5 656.2 724.2 653.5 725.1ZM656.6 720.6 659.8 719.6 660.6 722.2 657.4 723.2ZM661.6 719 664 718.2 664.9 720.8 662.5 721.6ZM665.8 717.4 668.1 716.7 669.1 719.8 666.8 720.5ZM669.8 716.3 672.6 715.4 673.4 718.2 670.6 719.1ZM673.9 715 677 714 677.8 716.7 674.8 717.7ZM678.3 713.7 681.1 712.9 681.8 715.3 679.1 716.2ZM682.6 712.1 685.8 711.1 686.7 714 683.5 715ZM687.2 710.6 689.9 709.7 690.9 712.8 688.2 713.7ZM646.3 737.4 660.1 733.2 664.3 745.7 649.9 749.8ZM661 754 676.7 749.8 679.5 759.5 664.3 764.2ZM682.3 731.8 696.1 727.7 703 748.4 689.2 752.6ZM703.8 755.3 713.5 778.8 706.3 781.7 696.7 758.2ZM732.6 759.1 737.6 777.1 734.9 777.8 729.9 759.9ZM740.8 757.6 747.2 775.6 744.6 776.6 738.2 758.6ZM671.5 732.9 676.4 739.3 674.3 741 669.3 734.6ZM724.9 744.5 727.3 745.3 726.5 747.4 724.2 746.5ZM723.8 705.5 748.7 700 754.2 715.2 729.3 722.1ZM755.6 700 773.6 700 776.3 706.9 758.4 711.1ZM779.8 698.7 796.4 694.5 797.8 699.9 781.2 704.1ZM713.1 712.1 718 730.1 715.6 730.8 710.7 712.8ZM715.2 720.4 723.5 717.9 724 719.7 715.7 722.2ZM742.5 727.4 748.1 741.2 746.5 741.8 741 728ZM741.6 726.9 758.2 722.7 758.6 724.3 742 728.5ZM759.1 724.6 763.3 735.7 761.7 736.3 757.6 725.2ZM766.3 722.3 777.3 718.7 778.1 721.1 767 724.7ZM760.9 711.9 777.5 708.6 777.9 710.8 761.3 714.1ZM784.1 722.2 799.4 718.1 800.4 721.8 785.2 725.9ZM801.5 716.1 810.7 735.4 808.4 736.5 799.3 717.1ZM772.2 737.4 781.9 733.2 795.7 765 786 770.6ZM794 747.8 807.8 743.6 808.5 746 794.7 750.2ZM796.7 753.3 810.6 749.2 811.3 751.6 797.5 755.7ZM810.7 749.5 813.5 757.8 811.7 758.4 808.9 750.1ZM754.4 750.9 761.3 752.3 761 753.9 754 752.6ZM783.5 787.6 786.6 788.7 784.7 793.9 781.6 792.8ZM745 808.6 760.2 803.1 762.1 808.3 746.8 813.8ZM749.8 798.8 758.1 796.1 758.6 797.6 750.3 800.4ZM633.8 817.6 661.5 809.3 669.8 830.1 642.1 838.4ZM672.6 801 701.6 792.7 715.5 834.2 686.4 842.5ZM692.5 849.4 720.2 840.6 733.5 877.1 705.8 886.8ZM711.3 897.8 739 888.2 750.1 913.1 722.9 921.4ZM734.8 933.8 761.1 925.5 770.8 950.4 744.5 960.1ZM710.9 788.9 718.3 809.7 712.6 811.7 705.1 791ZM716.5 810.2 731.7 843.4 729.7 844.4 714.5 811.1ZM732.6 839.3 743.1 871.1 740.4 872 729.9 840.2ZM657 839.2 668.1 835.9 668.7 838 657.7 841.4ZM658.3 851.4 674.9 845.9 675.8 848.5 659.2 854.1ZM647.1 851.8 650.2 852.9 648.3 858.1 645.2 857ZM669.1 832.5 673.2 842.2 671.9 842.8 667.8 833.1ZM651.8 868.8 669.8 863.3 672.6 871.6 654.6 877.1ZM662.7 880.8 670.4 901.6 668.1 902.4 660.3 881.7ZM668.8 900.8 677.7 897.5 678.5 899.8 669.7 903.2ZM671.4 879.5 675 890.6 672.9 891.3 669.3 880.2ZM677.3 857.3 680.6 865.6 678.3 866.5 675 858.2ZM675 876.7 677.8 883.6 675.7 884.4 672.9 877.5ZM683.7 873.6 687.9 881.9 684.9 883.4 680.8 875.1ZM678 887.5 682.1 895.8 679.6 897.1 675.5 888.8ZM686.2 886.1 690.4 893 688 894.4 683.8 887.5ZM691.6 885 694.4 891.9 692.3 892.7 689.5 885.8ZM675 911 679.9 924.9 676.3 926.2 671.3 912.3ZM687.1 906.8 694.8 923.4 691.8 924.8 684.1 908.2ZM705.3 923.3 713.1 939.9 709.6 941.6 701.8 925ZM685.6 939.9 690.6 948.2 687.8 949.9 682.8 941.6ZM692.2 937.1 698.6 945.4 696.4 947.1 690 938.8ZM695.3 958.4 703.1 970.8 697.4 974.3 689.7 961.9ZM704.8 951.1 712.5 965 710.1 966.3 702.4 952.5ZM733.6 920.9 740 934.7 738 935.7 731.6 921.8ZM718.5 943.2 722.1 957.1 719.9 957.6 716.3 943.8ZM717.6 889.1 725.9 886.3 727.1 890 718.8 892.8ZM767.5 953.6 772.5 961.9 769.1 963.9 764.2 955.6ZM771.8 952.7 774.6 958.2 772.6 959.2 769.8 953.7ZM806.2 928.1 813.5 925.5 815.6 931.2 808.3 933.9ZM807.4 935.8 816.2 933 816.7 934.6 807.9 937.4ZM813.4 945.2 823.1 942.4 823.7 944.6 814 947.3ZM813 948.6 815.8 952.7 814.4 953.7 811.6 949.5ZM820.3 947.7 822.6 947.7 822.6 950.4 820.3 950.4ZM808.2 990.4 810.9 990.4 810.9 993.5 808.2 993.5ZM738.4 964.4 740.2 965.1 739.6 966.9 737.7 966.2ZM753.6 975.5 755.4 976.1 754.8 978 753 977.3ZM721.8 990.7 723.6 991.4 723 993.2 721.1 992.5ZM752.2 875.9 754.1 876.5 753.4 878.3 751.6 877.7ZM726.5 1037.1 759.7 1024.6 779.1 1071.7 745.9 1084.1ZM779.1 1021.9 790.2 1017.7 794.3 1027.4 783.3 1031.6ZM788.7 1033.9 794.3 1050.5 791.6 1051.4 786.1 1034.8ZM793.6 1030 800.5 1053.5 799.2 1053.9 792.3 1030.4ZM784.7 1056.1 793 1063.1 790.1 1066.5 781.8 1059.5ZM792.1 1054.1 800.4 1058.8 799.3 1060.7 791 1056ZM784.9 1073.9 789.9 1085 787.7 1086 782.7 1075ZM792 1076.6 797 1087.7 794.4 1088.9 789.5 1077.8ZM802.8 1073 810.5 1085.4 805.8 1088.4 798.1 1075.9ZM775.1 1094.4 792.5 1088.9 793.4 1091.5 775.9 1097.1ZM754.4 1093.2 757.7 1101.5 754.6 1102.7 751.3 1094.4ZM736.4 1021.1 746.9 1017.8 747.7 1020.4 737.2 1023.7ZM754 1011.9 755.9 1017.4 754.1 1018 752.2 1012.5ZM838.6 1060.6 863.5 1048.2 867.7 1057.8 842.8 1070.3ZM773.1 1008.9 774.6 1009.5 774.1 1011 772.5 1010.5ZM716.4 1017.2 717.9 1017.8 717.3 1019.3 715.8 1018.8ZM828.4 1076.2 830 1076.7 829.4 1078.3 827.9 1077.7ZM1298.7 560.2 1320.5 545.8 1337.3 570.9 1313.8 583.7ZM1328.9 535.8 1340.6 530.7 1356.7 562.6 1345.6 566.9ZM1353 570.5 1371.5 635.2 1363.4 637.5 1345 572.8ZM1361.7 588.2 1370 584.8 1371.5 588.6 1363.1 591.9ZM1344.9 575.4 1348.9 587.2 1345.7 588.3 1341.7 576.5ZM1359.5 644.6 1367.9 663.1 1360.3 666.5 1351.9 648.1ZM1378.3 632.5 1388.4 652.6 1380 656.8 1369.9 636.7ZM1387.2 630.3 1394.9 648.8 1390.3 650.7 1382.5 632.3ZM1327.3 641.5 1332.3 647.2 1328.8 650.3 1323.8 644.6ZM1457.9 607.8 1466.3 604.5 1471.3 617.9 1463 621.2ZM1443.5 629.9 1448.7 633 1446.2 637.3 1441 634.3ZM1452.3 645.8 1455.2 647.4 1453.5 650.3 1450.6 648.7ZM1436.1 656.4 1444.5 654.7 1449.6 666.5 1439.5 669.8ZM1451.2 654.7 1459.6 653.1 1461.3 661.5 1452.9 663.1ZM1420.8 667.1 1425.2 669.6 1422.7 673.9 1418.3 671.4ZM1392.4 671.8 1398.8 675.5 1395.4 681.3 1389 677.6ZM1382.3 682.2 1386.6 684.7 1384.1 689 1379.8 686.5ZM1406.7 691.2 1415.4 696.3 1412 702.1 1403.3 697ZM1383.3 707.3 1390.6 703.1 1393.1 707.5 1385.8 711.6ZM1423.6 713.4 1430.8 717.6 1426.6 724.8 1419.4 720.6ZM1444.9 718.5 1452.2 722.7 1448.8 728.5 1441.6 724.3ZM1374.1 721.8 1385.9 718.4 1395.9 736.9 1382.5 741.9ZM1356.7 736.9 1370.8 730.2 1395.9 767 1382.5 775.4ZM1365.4 761.7 1368.1 761.7 1368.1 764.4 1365.4 764.4ZM1343 740.9 1345 740.9 1345 742.9 1343 742.9ZM1358 731.5 1360.1 731.5 1360.1 733.5 1358 733.5ZM1769.2 620.7 1781.2 628.7 1776.8 635.3 1764.8 627.3ZM1773.9 619.1 1778.9 635.1 1773.1 636.9 1768.1 620.9ZM213.5 882.1 220.1 888.8 214.6 894.3 208 887.6ZM212 897 219 904.1 216.1 907 209.1 900ZM230.6 906.2 238.9 900.6 253.3 917.2 245.9 924.2ZM263.8 931.1 270.7 938 263.8 944.8 257 938ZM277.7 945 284.5 951.8 277.7 958.7 270.8 951.8ZM291.5 958.8 298.3 965.6 291.5 972.5 284.7 965.6ZM302 972.6 308.9 979.5 302 986.3 295.2 979.5ZM316.4 987.8 323.2 994.7 316.4 1001.5 309.5 994.7ZM327.5 1003.1 334.3 1009.9 327.5 1016.8 320.6 1009.9ZM151.4 924.8 156.7 929.3 152.2 934.6 146.9 930.1ZM161 929.4 167.3 934.7 162 941.1 155.6 935.7ZM162.2 922.7 167.5 918.2 169.1 920.1 163.8 924.6ZM170.5 943.1 175.8 947.6 171.9 952.2 166.6 947.8ZM178.6 950.8 186 957.1 180.3 963.9 172.9 957.6ZM185.7 961.4 192.1 966.7 187.1 972.7 180.7 967.3ZM182.2 975.3 190.7 982.4 185 989.2 176.5 982.1ZM192.7 977.2 195.7 979.7 193.9 981.8 190.9 979.3ZM198.6 981.3 201.2 983.4 199 986 196.5 983.8ZM209.1 1001.4 212.6 1023.5 209.9 1024 206.3 1001.8ZM209.1 1034.9 216.3 1039.1 212.4 1045.8 205.2 1041.6ZM216.8 1055.5 238.9 1040.3 245.9 1051.4 236.2 1056.9 238.4 1062.5 225.1 1059.7 221 1062.5ZM233.8 1067.2 239.1 1070.2 235.8 1076 230.5 1072.9ZM627.4 451.7 629.6 450.2 631.1 452.3 628.8 453.9ZM630.9 449.1 633.3 447.5 634.9 450 632.6 451.5ZM635 446.5 637.9 444.5 639.4 446.7 636.5 448.7ZM639.2 443.8 642.3 441.7 643.7 443.7 640.5 445.8ZM643.9 440.8 646.3 439.2 647.5 440.9 645.1 442.6ZM652.1 430.7 654.8 429.2 656.2 431.6 653.4 433.2ZM656.3 428.6 659.4 426.9 660.6 428.9 657.5 430.6ZM660.4 426.1 663.5 424.4 664.8 426.8 661.7 428.5ZM666.6 431.5 668 434.4 665.9 435.3 664.6 432.4ZM668.6 435.6 669.8 438.5 667.7 439.4 666.4 436.6ZM673.1 432.5 675 435.9 672.7 437.2 670.8 433.9ZM675.9 436.8 677.4 439.4 674.5 441 673 438.4ZM677.8 440.6 679.6 443.6 677 445.1 675.3 442ZM680.2 444.4 681.8 447.2 678.9 448.8 677.4 446.1ZM662.1 458 665.3 455.8 666.8 458.1 663.6 460.2ZM666.3 455.1 669.4 453 670.9 455.2 667.8 457.4ZM670.4 452.6 673.4 450.6 674.6 452.3 671.6 454.4ZM676 462 677.9 459.6 679.4 460.8 677.5 463.1ZM645.8 481.7 648.4 479.8 649.6 481.5 647 483.4ZM650.2 478.7 652.3 477.1 653.5 478.7 651.3 480.2ZM653.7 476 655.9 474.4 657.2 476.2 654.9 477.8ZM657.4 473.2 659.6 471.6 661 473.6 658.8 475.2ZM661.2 470.6 663.6 468.8 664.9 470.7 662.5 472.4ZM665.2 467.6 667.7 465.8 669.1 467.8 666.6 469.6ZM669.6 464.8 672.2 463 673.3 464.5 670.7 466.3ZM614.8 458.9 617.5 460.9 616.2 462.6 613.5 460.6ZM623.1 466.8 624.6 470.3 621.9 471.5 620.4 467.9ZM625.5 472 626.5 474.5 623.4 475.8 622.4 473.3ZM627.4 475.7 628.6 478.6 624.9 480.2 623.7 477.3ZM629.3 480.3 630.6 483.4 626.9 485 625.6 481.9ZM631.3 485.1 632.9 488.9 629.2 490.5 627.6 486.7ZM634.5 495.7 635 497.7 628.4 499.2 628 497.2ZM634.8 499.3 635.1 500.8 629.6 502 629.3 500.6ZM636.1 501.5 636.5 503.4 629.5 505 629.1 503.1ZM637.6 504.6 638 506.8 629.6 508.7 629.1 506.6ZM637.3 508.3 637.8 510.5 631.4 511.9 631 509.8ZM638.3 511.8 638.6 513.3 631.9 514.8 631.6 513.4ZM639.2 514.7 639.6 516.4 632.4 518 632 516.3ZM640.7 517.6 641.2 519.8 632.4 521.9 631.9 519.7ZM640.4 521.2 640.8 523.1 634.2 524.6 633.8 522.7ZM641 524.5 641.4 526.3 635.1 527.8 634.7 526ZM637.8 476 639.9 484.8 638.2 485.3 636.1 476.4ZM642.5 484.2 646.5 489.9 644.3 491.5 640.2 485.9ZM650.7 487.3 653.4 485.8 654.2 487.3 651.6 488.9ZM667.6 487 669.9 493.3 668 494 665.7 487.7ZM665.9 488.9 669.7 488.2 669.9 489.5 666.1 490.1ZM685.6 499.7 688.1 501.5 687.4 502.5 684.9 500.8ZM690.6 483.3 691.7 485.5 689.8 486.4 688.7 484.3ZM692 486.3 693.1 488.5 691.3 489.4 690.2 487.2ZM693.5 489.4 694.4 491.3 692.7 492.1 691.8 490.3ZM694.9 492.1 695.9 494 693.9 494.9 693 493ZM696.3 494.8 697.5 497.3 695.6 498.2 694.3 495.7ZM697.7 498 698.7 500.1 697.1 500.9 696 498.9ZM699.3 501.1 700.3 503.1 698.4 504.1 697.4 502ZM700.6 504 701.7 506.2 700 507 699 504.8ZM702 506.9 702.9 508.7 701.3 509.5 700.4 507.7ZM703.3 509.5 704.3 511.6 702.7 512.4 701.7 510.3ZM712 479.1 713.6 480 712.8 481.3 711.3 480.5ZM713.7 482.2 715 483 714.4 484.1 713.1 483.3ZM719 485.8 724.3 489.6 723.3 491.1 718 487.3ZM727.5 498.4 728.8 500.2 727.3 501.3 726 499.5ZM729.9 501.5 731.4 503.5 729.8 504.7 728.3 502.7ZM732.3 505 733.8 507.1 732.5 508 731 506ZM735.2 508.7 736.7 510.7 735.2 511.8 733.7 509.9ZM737.8 512.4 739.4 514.5 738.1 515.5 736.5 513.4ZM740.5 515.9 742 517.9 740.7 518.9 739.1 516.9ZM743.3 519.6 745 521.9 743.6 523 741.9 520.6ZM746.2 523.4 747.6 525.3 746.2 526.4 744.8 524.5ZM757.1 495.5 759.7 498.9 758.8 499.6 756.2 496.1ZM760.9 498.9 763.5 502.4 762.6 503.1 760 499.5ZM764.7 502.7 767.3 506.2 766.3 506.9 763.8 503.3ZM773.8 491 775.4 491.9 774.5 493.5 772.9 492.6ZM717.1 511.9 719 513.1 717.9 515.1 715.9 513.9ZM707.5 517.9 708.8 524.2 708 524.3 706.7 518ZM688 519.2 691.8 517.6 692.1 518.2 688.3 519.7ZM668.3 507.7 669.6 509.2 665.1 513.2 663.7 511.7ZM670.4 510.4 671.8 511.9 667.5 515.7 666.1 514.1ZM673.1 512.3 674.1 513.4 668.7 518.2 667.7 517ZM674.3 515.1 675.5 516.4 671.5 519.9 670.3 518.5ZM676.6 517.3 678.1 519 673.8 522.9 672.3 521.1ZM679.4 519.5 680.6 520.9 675.4 525.6 674.1 524.1ZM681.3 521.4 682.6 522.8 677.1 527.8 675.8 526.3ZM682.4 524.3 683.7 525.8 679.8 529.2 678.5 527.7ZM684.4 526.6 685.6 528 681.8 531.4 680.6 530ZM687.2 528 688.5 529.5 682.9 534.4 681.6 532.9ZM655 508.4 656.3 510.4 654.3 511.7 653 509.7ZM657.8 513.3 659.2 515.5 657.7 516.5 656.3 514.3ZM661.1 518.2 662.2 520 660.6 521.1 659.4 519.3ZM664.3 523.2 665.4 525 663.8 526 662.7 524.3ZM667.4 527.7 668.7 529.7 666.8 530.9 665.5 528.9ZM637.8 517.1 640.1 519.2 638.4 521 636.1 518.8ZM642.2 521.2 644.7 523.6 643 525.4 640.5 523ZM646.7 525.7 649.2 528 647.7 529.5 645.2 527.2ZM704.6 528.5 705.9 529.3 705.1 530.6 703.8 529.8ZM705.6 533.8 711.9 531.3 712.4 532.4 706.1 535ZM666.3 535.8 670.5 538.6 669.1 540.7 664.9 538ZM671.6 519.4 672.9 521.3 667.6 525.1 666.2 523.2ZM674.3 522.1 675.3 523.5 668.9 528.1 667.9 526.7ZM676.7 524.1 677.9 525.8 670.2 531.2 669 529.6ZM678.8 526.5 679.7 527.8 671.5 533.6 670.5 532.3ZM679.1 529.5 680.1 530.9 674.3 535 673.3 533.6ZM681 532.1 681.9 533.4 676.1 537.6 675.1 536.3ZM682.9 534 684 535.5 677.3 540.2 676.3 538.7ZM684.7 536.6 685.8 538.2 679.3 542.7 678.2 541.2ZM686.9 539.1 688.2 540.9 681.1 545.9 679.8 544.1ZM689 541.6 689.9 542.9 682.4 548.2 681.5 546.9ZM689.5 544.5 690.7 546.2 685.3 550 684.1 548.3ZM691.5 547.4 692.3 548.5 687 552.3 686.1 551.2ZM694.5 548.5 695.8 550.3 687.5 556.2 686.3 554.4ZM696 551.8 697.3 553.5 690.1 558.6 688.8 556.9ZM697.3 554.9 698.6 556.6 692.5 560.9 691.3 559.2ZM705.1 557.2 706.3 559.2 697.9 564.4 696.7 562.4ZM706.6 560.2 707.7 562 699.8 567 698.7 565.2ZM708.4 563.1 709.7 565.1 701.7 570 700.5 568.1ZM711.4 565.3 712.4 566.9 702.1 573.3 701.1 571.7ZM712.5 567.8 713.5 569.4 703.9 575.4 702.9 573.8ZM714.1 570.4 714.9 571.6 705.3 577.6 704.5 576.4ZM715.4 572.9 716.3 574.4 707.2 580.1 706.2 578.6ZM715.6 576.2 716.8 578 710.2 582.1 709 580.3ZM719.4 577.7 720.4 579.2 709.7 585.9 708.7 584.4ZM720.5 580.3 721.2 581.6 711.4 587.7 710.6 586.4ZM720.8 583 721.7 584.6 713.9 589.5 712.9 587.9ZM722.3 585.6 723.5 587.5 715.8 592.3 714.6 590.4ZM725 588.2 725.9 589.8 716.7 595.5 715.8 594ZM726.5 590.6 727.4 591.9 718 597.7 717.2 596.4ZM728.4 592.2 729.5 593.9 718.9 600.5 717.8 598.8ZM729 595.3 729.9 596.8 721.2 602.2 720.3 600.8ZM729.7 598.2 730.6 599.6 723.5 604 722.6 602.6ZM695 564 696.5 567 693.1 568.7 691.6 565.8ZM697.8 569.4 699.2 572.3 695.8 574.1 694.3 571.2ZM701 574 702.2 576.5 697.4 579 696.1 576.5ZM703.1 578.5 704.1 580.4 699.5 582.8 698.5 580.8ZM704.6 582.8 705.9 585.2 702.2 587 701 584.6ZM706.8 587.6 708.2 590.4 705.1 592 703.7 589.1ZM709.7 592.7 710.9 595.2 707.3 597 706.1 594.5ZM712.5 597.4 714 600.1 709.6 602.4 708.2 599.6ZM748 629.7 749.3 632 746.1 633.9 744.8 631.6ZM750.6 632.7 751.8 634.7 747.2 637.3 746.1 635.3ZM751.9 636.2 752.8 637.8 749.5 639.8 748.6 638.2ZM753.7 638.8 755.1 641.2 751.3 643.4 749.9 641ZM755.8 642.4 756.7 644 753 646.2 752 644.6ZM757.9 644.7 758.9 646.4 754 649.3 753 647.6ZM759.1 647.7 760.5 650 756.4 652.5 755 650.1ZM761.6 651.1 762.9 653.5 758.2 656.2 756.8 653.9ZM763.6 654.8 764.9 656.9 760.2 659.6 759 657.5ZM764.8 658.3 765.7 659.9 762.4 661.8 761.5 660.2ZM767.3 660.4 768.5 662.3 763.2 665.4 762 663.5ZM638.1 522 639.4 524.7 637.1 525.8 635.9 523.1ZM640.7 527.6 642 530.3 639.7 531.4 638.4 528.7ZM643.1 533.1 644.3 535.7 642.3 536.7 641.1 534ZM653 539.9 655 541.1 653.9 543.1 651.9 541.9ZM665.5 535.5 670.4 538.3 668 542.5 663.1 539.6ZM654.3 547.6 660 557.3 657 559.1 651.3 549.4ZM657.8 556.7 667.9 551.7 669.4 554.6 659.2 559.7ZM665.8 545.4 669.4 551.7 667.4 552.8 663.8 546.5ZM678.9 548 682.6 553.7 681.2 554.6 677.4 548.9ZM681.8 547.4 685.6 552.5 684.6 553.3 680.8 548.2ZM663.9 577.7 665.8 581.3 661.4 583.6 659.5 580ZM666.3 582.6 668.1 586.1 664.1 588.2 662.2 584.7ZM668.5 587.6 670.3 591 666.8 592.8 665.1 589.4ZM670.9 591.9 672.3 594.7 668.7 596.6 667.3 593.8ZM673.2 595.9 675.4 599.9 671.4 602 669.3 598ZM676 601.3 677.3 603.9 673.6 605.9 672.2 603.3ZM678 605.3 680.2 609.5 676.6 611.4 674.4 607.2ZM680.8 610.8 682.3 613.7 678.8 615.6 677.3 612.7ZM682.8 614.8 684.9 618.8 681.5 620.5 679.4 616.6ZM685.6 619.7 687.1 622.6 683.5 624.5 681.9 621.6ZM687.7 623.8 689.8 627.7 686.2 629.6 684.1 625.7ZM690.1 628.6 691.6 631.5 688.3 633.3 686.8 630.4ZM692.9 632.4 694.4 635.2 689.7 637.6 688.2 634.8ZM699.8 642.8 703.4 641.6 704.3 644.4 700.7 645.6ZM704.6 641.5 707.9 640.5 708.6 642.7 705.3 643.8ZM708.8 640.1 712.1 639 712.9 641.4 709.6 642.4ZM713.4 638.7 717 637.5 717.7 639.7 714.1 640.9ZM718.3 636.9 721 636 721.8 638.6 719.1 639.4ZM722 635.6 724.8 634.7 725.6 637.4 722.8 638.3ZM726.1 634.1 729.7 633 730.6 635.9 727 637.1ZM709.9 651.9 712.3 651 713.1 653.3 710.8 654.2ZM713.8 650.4 716.7 649.3 717.5 651.6 714.6 652.7ZM718.7 648.9 721.8 647.7 722.5 649.4 719.3 650.6ZM723.7 646.9 726.5 645.9 727.1 647.6 724.3 648.7ZM754.2 619.1 757 617.8 758 619.9 755.1 621.2ZM758.6 617.1 761 616 762 618.1 759.5 619.2ZM762.4 615.2 765.1 614 766.2 616.5 763.5 617.7ZM766.6 613.3 769.3 612.1 770.4 614.6 767.7 615.8ZM770.9 611.4 773.9 610 775 612.6 772 613.9ZM775.3 609.7 778.5 608.3 779.4 610.3 776.2 611.7ZM699 658.7 700.3 662.3 698.2 663 696.9 659.5ZM700.8 663.4 701.8 666.2 699.5 667 698.5 664.2ZM674.3 572.1 677.2 570.6 678.5 573.2 675.6 574.7ZM678.5 569.9 681.2 568.6 682.5 571.3 679.9 572.6ZM682.4 568.3 684.8 567.1 685.9 569.3 683.5 570.5ZM685.7 566.1 688.3 564.8 689.8 567.8 687.2 569.1ZM771.5 595.6 775 596.7 774.7 597.6 771.2 596.6ZM774.7 596.8 773.8 600.1 772.9 599.8 773.7 596.5ZM752.7 606.7 753.8 607.3 753.2 608.4 752.1 607.7ZM777.3 616.4 778.9 617.3 778 618.8 776.4 618ZM784.7 647.2 787.3 648.7 785.8 651.3 783.2 649.8ZM698.7 539.7 712.6 532.4 713.2 533.4 699.2 540.7ZM706.6 528.2 707.7 528.9 707.1 530 706 529.3ZM711.6 552.7 712.9 553.5 712.2 554.8 710.8 554ZM717.3 549.6 718.6 550.3 717.8 551.6 716.5 550.9ZM742 518.1 743.1 518.8 742.5 519.9 741.4 519.2ZM745.7 524.4 747 525.1 746.4 526.2 745.1 525.5ZM745.4 538.2 746.8 539.8 745.6 540.9 744.1 539.3ZM748.3 541.4 749.8 543.2 748.5 544.3 746.9 542.6ZM751.4 544.9 752.8 546.6 751.4 547.8 749.9 546.1ZM754.2 548.2 755.6 549.8 754.2 551.1 752.8 549.5ZM757.3 551.8 758.9 553.6 757.5 554.8 755.9 553ZM760.2 555.1 762 557.2 760.6 558.4 758.8 556.4ZM763.3 558.8 765 560.7 763.6 561.9 762 560ZM698.2 647.6 701.4 646.4 702.5 649.3 699.4 650.5ZM702.7 645.8 707.1 644.1 708.3 647 703.9 648.7ZM708.8 643.4 712.4 641.9 713.6 644.9 709.9 646.4ZM713.9 641.6 717.6 640.1 718.6 642.6 715 644.1ZM719.2 639.3 723.4 637.7 724.5 640.4 720.3 642.1ZM707.9 657.4 711.2 656 712.2 658.3 708.8 659.7ZM713.3 655.3 716.8 653.8 717.6 655.8 714.1 657.3ZM718.4 653.1 722.3 651.4 723.2 653.5 719.3 655.1ZM723.9 650.4 727.5 648.9 728.6 651.5 725 653ZM729.8 648.2 733 646.8 733.9 648.9 730.7 650.2ZM699.4 662.2 700.2 667.2 697.6 667.6 696.8 662.6ZM701.3 670.6 701.9 674.4 698.4 675 697.7 671.2ZM702.1 677.4 702.8 681.4 699.9 681.9 699.2 677.9ZM703.2 684.7 703.9 689.1 701.3 689.5 700.5 685.1ZM704.5 691.5 705.1 695.1 702.1 695.6 701.5 692ZM709.7 676.3 713.3 674.9 714.3 677.6 710.8 679ZM715.8 673.5 719.8 671.9 721.2 675.4 717.1 676.9ZM722 671.2 725 670 726.3 673.3 723.3 674.4ZM727.9 669.2 731 668 732.1 670.8 728.9 672ZM733.6 666.8 737.1 665.5 738.3 668.5 734.8 669.9ZM739.6 664.6 742.9 663.3 744 666.2 740.7 667.4ZM705.9 685.7 710 684.1 711.2 686.9 707 688.6ZM712.3 683.1 715.4 681.8 716.6 684.8 713.5 686.1ZM718.2 680.9 722.2 679.3 723.3 682 719.3 683.6ZM724.9 678.1 728.5 676.7 729.7 679.5 726.1 681ZM731.5 675.6 734.6 674.4 735.6 677 732.6 678.2ZM748.4 626.1 750.2 629.2 743.2 633.2 741.4 630.1ZM750.2 631.3 751.8 634.2 746.7 637.1 745 634.3ZM754.1 634.8 755.6 637.5 747.6 642.1 746.1 639.4ZM756.5 639.2 757.9 641.6 750 646.1 748.6 643.7ZM758 643.7 759.6 646.6 753.4 650.2 751.7 647.3ZM760.1 648.6 761.9 651.7 756.6 654.7 754.8 651.6ZM762.5 652.9 764.1 655.8 759 658.7 757.4 655.8ZM766.2 656.5 767.5 658.8 759.9 663.1 758.6 660.9ZM768.4 660.7 769.7 663 762.3 667.2 761 664.9ZM753.7 617.3 757.7 616.1 758.5 618.6 754.5 619.9ZM759.8 615.2 763.1 614.2 764 617.2 760.7 618.2ZM765 613.9 768.9 612.7 769.7 615.1 765.8 616.3ZM771.1 611.8 774.7 610.7 775.6 613.5 771.9 614.7ZM776.5 610 780.5 608.8 781.4 611.9 777.4 613.1ZM784.5 646.9 787.7 648 786.5 651.3 783.3 650.1ZM604.3 468.4 605.1 469.7 601.3 472.4 600.4 471.1ZM606 471.4 607.1 472.9 603.6 475.3 602.6 473.8ZM608.2 474.3 609 475.4 605.3 477.9 604.5 476.8ZM610.4 476.8 611.4 478.3 607.2 481.2 606.2 479.8ZM612.4 479.4 613.3 480.7 608.8 483.8 607.9 482.6ZM614.2 482.3 615 483.3 610.7 486.3 610 485.2ZM616.4 484.9 617.2 485.9 612.4 489.3 611.7 488.2ZM617.9 487.3 618.9 488.7 614.4 491.8 613.4 490.4ZM620.3 490.3 621.1 491.6 616.4 494.9 615.5 493.7ZM621.8 493.4 622.8 494.7 618.7 497.5 617.8 496.2ZM622.9 494.7 623.3 496.1 618.1 497.6 617.7 496.2ZM624.5 497.6 624.9 498.9 618.2 500.8 617.8 499.5ZM624.9 500.4 625.3 501.8 619.3 503.5 618.9 502ZM626.6 503.2 626.9 504.5 619.3 506.6 618.9 505.3ZM627.1 506.1 627.6 507.8 620.4 509.8 620 508.1ZM627.8 509.1 628.2 510.4 621.3 512.4 621 511ZM628.2 512 628.6 513.7 622.6 515.4 622.2 513.7ZM629.7 514.8 630 516 622.7 518 622.3 516.8ZM629.9 517.9 630.4 519.5 624.2 521.3 623.7 519.6ZM631.3 520.7 631.7 522.1 624.4 524.2 624 522.8ZM631.7 524 632 525.2 625.7 527 625.4 525.7ZM562.2 488.1 564.4 487.3 565.1 489.1 562.9 489.9ZM566.6 486.5 568.9 485.6 569.6 487.5 567.3 488.3ZM570.6 484.8 572.5 484.1 573.3 486.3 571.5 487ZM574.3 483.5 576.5 482.7 577.3 484.7 575 485.6ZM578.8 481.9 580.3 481.3 581.1 483.3 579.5 483.9ZM582.2 480.4 584.1 479.7 584.9 482 583.1 482.7ZM586 479.5 588.3 478.6 588.8 480.2 586.5 481ZM590.4 477.8 592.2 477.1 592.8 478.7 591 479.4ZM594.1 476.1 595.8 475.5 596.6 477.7 594.9 478.3ZM598.1 474.7 599.6 474.2 600.4 476.1 598.8 476.7ZM559.7 497 562 496.4 562.5 498.3 560.3 499ZM564.4 495.9 566.1 495.4 566.5 497.1 564.8 497.6ZM568.1 494.6 569.9 494.1 570.5 496.3 568.7 496.7ZM572.1 493.6 574.1 493.1 574.7 495 572.7 495.5ZM576.4 492.5 578.5 491.9 579 493.7 576.9 494.3ZM580.2 491.5 582.2 491 582.7 492.6 580.7 493.2ZM576.3 449.4 590.4 454.6 588.6 459.4 574.5 454.2ZM574.6 460.3 582.3 468 578.7 471.6 571 463.9ZM586.5 457.8 594.2 461.7 592.5 465.1 584.8 461.3ZM595.9 453.8 601 464 598.5 465.3 593.4 455ZM565.9 431.4 573.6 437.8 569.5 442.8 561.8 436.3ZM564.4 444.5 573.4 452.2 569.7 456.6 560.7 448.9ZM444.5 217.5 461.6 213.2 462.6 217.4 445.5 221.7ZM449.8 220.8 453.2 229.3 450.4 230.4 447 221.9ZM459.6 219 464.7 220.3 463.8 224 458.6 222.7ZM447.1 230.1 454 236.1 451.4 239 444.6 233ZM447.2 238 452.7 245.7 449.2 248.2 443.7 240.5ZM450.2 245.6 455.8 251.2 453 253.9 447.5 248.3ZM453.6 252.7 458.3 258.3 455.7 260.5 451 254.9ZM457.1 250.6 461.4 254.4 459.4 256.6 455.1 252.8ZM455.5 257.9 459.3 261.7 457.2 263.8 453.3 260ZM455.6 229.8 457.9 231.1 456.6 233.3 454.4 232ZM459.1 235.8 461.3 237.1 460 239.3 457.8 238ZM459.9 241.8 462.1 243.1 460.9 245.3 458.6 244ZM409 223.2 421.9 218.5 423.6 223.3 410.8 228ZM388.6 235.8 394.5 232.9 400.1 244.8 408.2 242.3 409.5 245.3 397.5 249.1 393.7 247ZM403 236.5 407 235 408.3 238.6 404.3 240.1ZM403.1 248.2 412.5 244 413.3 245.7 403.9 250ZM427.6 236.5 432.3 240.7 430.3 242.9 425.6 238.7ZM431.9 242 440.5 245.4 439.2 248.6 430.7 245.1ZM431.2 248 436.4 250.6 434.8 253.6 429.7 251.1ZM423 227.1 425.6 228.6 424.3 230.9 421.7 229.4ZM428.9 228.4 431.5 229.9 430.3 232.1 427.7 230.7ZM395.4 211.8 398.8 209.9 400.5 212.8 397.1 214.8ZM400.9 218.3 403.1 219.6 401.8 221.8 399.6 220.5ZM399.4 190.7 400.5 192.3 398.5 193.7 397.4 192.1ZM401.3 193.7 402.7 195.6 400.7 196.9 399.4 195ZM403.7 197 405 199 403 200.3 401.7 198.4ZM405.9 200.6 407 202.2 405.2 203.4 404.1 201.8ZM408 203.5 409.1 205.2 407.2 206.4 406.1 204.8ZM409.7 186.5 412.3 188 411 190.2 408.4 188.7ZM415.3 198.7 417.5 203 416.1 203.7 413.9 199.4ZM418.3 197.9 420.5 202.2 419.1 202.8 416.9 198.6ZM430.6 213.1 432.3 212.2 433.7 214.9 432 215.8ZM433.2 211.6 434.7 210.9 436.2 213.7 434.7 214.5ZM435.8 210.4 437.4 209.5 438.8 212.3 437.2 213.1ZM438.5 209 440.2 208 441.7 210.7 439.9 211.7ZM441.3 207.4 442.7 206.6 444.3 209.5 442.8 210.3ZM443.9 206 445.5 205.1 447.1 208.1 445.4 208.9ZM449.7 194.3 452.9 195.4 452.3 197 449.1 195.9ZM452.7 189.1 454.1 189.6 453.6 191.1 452.1 190.6ZM465.2 195.9 467.3 195.5 467.9 198.3 465.8 198.8ZM468.1 195.3 470.4 194.8 471 197.7 468.7 198.2ZM471.3 194.7 473.4 194.2 474 197 471.9 197.4ZM474.1 193.6 475.8 193.2 476.6 196.8 474.9 197.2ZM476.8 193.4 478.8 193 479.4 195.8 477.4 196.2ZM479.6 192.3 482.1 191.8 482.9 195.6 480.4 196.1ZM483 192 485.2 191.6 485.9 194.4 483.7 194.9ZM486.4 191.1 488.5 190.7 489.2 193.9 487.1 194.4ZM489.2 190.3 491.4 189.8 492.2 193.4 490 193.9ZM492.5 189.7 494.2 189.3 495 192.7 493.3 193.1ZM495.4 189.3 497.4 188.8 498.1 191.8 496 192.3ZM499.7 196.5 505.7 193.1 508.3 195.7 502.3 199.9ZM493.5 204.3 493.3 206.8 490.3 206.6 490.5 204.1ZM493.6 207.7 493.4 210.2 489.6 209.8 489.8 207.4ZM493.1 211 492.8 213.6 489.5 213.3 489.7 210.7ZM492.4 214.8 492.3 216.7 489.4 216.5 489.6 214.5ZM492.2 218 492 220 489.1 219.7 489.3 217.7ZM492 221.1 491.8 223 488.7 222.7 488.9 220.8ZM492 224.2 491.8 226.7 488 226.3 488.2 223.9ZM491.3 227.5 491.2 229.2 488.2 229 488.3 227.2ZM491.4 230.5 491.2 232.7 487.4 232.4 487.6 230.1ZM490.9 233.6 490.7 236 487.3 235.7 487.6 233.3ZM490.7 237 490.5 239.1 486.9 238.8 487.1 236.7ZM500.6 209.3 501.8 208.6 503.6 212.2 502.3 212.8ZM502.8 208.6 504.7 207.7 506 210.5 504.2 211.4ZM505.7 207.1 507 206.4 508.5 209.4 507.2 210ZM507.8 205.8 509.4 205 511 208.3 509.5 209.1ZM510.4 205 511.6 204.4 512.9 206.9 511.6 207.5ZM512.3 203.5 513.6 202.9 515.3 206.2 514 206.8ZM514.6 202.9 516.2 202.1 517.4 204.6 515.8 205.4ZM490.2 236.2 491.6 235.6 493.5 240 492.1 240.6ZM492.4 234.8 494.2 234.1 496.4 239.2 494.6 240ZM495 233.8 496.5 233.1 498.7 238.2 497.2 238.8ZM497.4 233.1 498.9 232.5 500.8 236.9 499.3 237.5ZM499.5 231.9 501.5 231 503.7 235.9 501.6 236.8ZM502.4 230.7 504 230 506.1 234.8 504.5 235.5ZM504.8 230.1 506.6 229.3 508.4 233.4 506.6 234.2ZM507.5 228.7 509.5 227.8 511.5 232.3 509.4 233.2ZM480.2 206.5 480.6 208.3 478.7 208.8 478.2 207ZM481.1 210.5 481.7 212.8 479.8 213.3 479.2 210.9ZM482.4 215.2 482.8 217 480.8 217.5 480.3 215.7ZM483.4 219.1 484 221.4 481.9 222 481.3 219.7ZM472 237.2 473.9 236.5 474.8 239 472.8 239.6ZM475.4 235.9 478 235.1 478.9 237.7 476.3 238.5ZM479.5 234.8 481.5 234.1 482.2 236.4 480.3 237ZM466.5 253.7 468.6 252.2 470 254.2 467.9 255.7ZM470.3 250.8 472.4 249.4 474 251.7 471.9 253.2ZM474.2 248.5 475.9 247.3 477.2 249.2 475.5 250.4ZM477.5 245.9 479.2 244.7 480.8 247.1 479.1 248.2ZM491.3 248.1 498.2 249.8 497.9 251 491 249.3ZM491.8 248.8 490.9 252.2 489.7 251.9 490.6 248.5ZM496.3 253.3 498.5 254.6 497.2 256.8 495 255.6ZM468.4 263.7 470.9 262.5 472 265.1 469.5 266.2ZM472.4 261.7 474.6 260.8 475.8 263.4 473.6 264.4ZM476.2 260.1 478.6 259.1 479.7 261.6 477.3 262.6ZM480 258.2 482.3 257.2 483.6 260 481.3 261ZM484 256.6 486.5 255.4 487.6 258 485.2 259.1ZM502.6 260.7 506.3 262.8 504.6 265.8 500.9 263.6ZM418.8 260.2 423.1 271.3 420.7 272.2 416.4 261.1ZM423.5 259.3 427.8 269.6 425.4 270.5 421.1 260.3ZM433 259.8 439 258.1 442.4 265.8 436.4 267.9ZM460.4 267.5 465.5 264.9 468.9 271.9 462.1 271.9ZM382.4 198.7 386.6 206.8 383.6 208.4 379.3 200.3ZM385.2 211.2 386.6 213.2 384.7 214.5 383.3 212.6ZM387.5 214.1 388.7 215.7 386.5 217.3 385.3 215.7ZM389.4 217.3 390.6 218.9 388.9 220.2 387.7 218.5ZM391.7 220 392.8 221.5 390.6 223.1 389.5 221.5ZM438.6 219 440.5 220.1 439.4 221.9 437.5 220.8ZM400.1 218.1 402 219.2 400.9 221.1 399.1 220Z"/>
<circle cx="834.6" cy="546.2" r="2.7" fill="#000"/>
<circle cx="840" cy="548.1" r="2.5" fill="#000"/>
<circle cx="845.5" cy="550.1" r="2.5" fill="#000"/>
<circle cx="874.6" cy="548.1" r="2.7" fill="#000"/>
<circle cx="885.9" cy="548.5" r="5.4" fill="#000"/>
<circle cx="897.6" cy="552.8" r="5.4" fill="#000"/>
<circle cx="866.1" cy="577.7" r="5.3" fill="#000"/>
<circle cx="877" cy="581.6" r="5.1" fill="#000"/>
<circle cx="853.3" cy="547.7" r="1.1" fill="#000"/>
<circle cx="849.8" cy="564.1" r="1.1" fill="#000"/>
</g>
<g id="Lred">
<polyline points="694.2,480.2 716.8,466.3 761.7,524.4 719.6,551 715.5,535 712.7,512.8 694.2,480.2" fill="none" stroke="#8e1b1f" stroke-width="1.5"/>
<polyline points="232,983.6 237.6,980.9 241.7,987.8 248.6,983.6 254.2,989.2 243.1,1001.6 238.9,997.5 232,983.6" fill="none" stroke="#8e1b1f" stroke-width="1.5"/>
</g>
</g>
<g id="Lgray">
<circle cx="526.5" cy="428.4" r="51.5" fill="#000" opacity="0.28"/>
<circle cx="450.4" cy="634.6" r="51.5" fill="#000" opacity="0.28"/>
<circle cx="532" cy="794.1" r="51.5" fill="#000" opacity="0.28"/>
<circle cx="700.2" cy="773.3" r="51.5" fill="#000" opacity="0.28"/>
<circle cx="747.3" cy="943.5" r="51.5" fill="#000" opacity="0.28"/>
<circle cx="1365.8" cy="626.3" r="50.3" fill="#000" opacity="0.28"/>
</g>
<g id="Lsm">
<g transform="translate(0,0)">
<polygon points="828.3,219.4 894.7,195.9 901,214 911.3,247.1 921.6,270 945.7,322.4 966.7,374.8 978.2,404.1 988.7,448.1 989.7,454.4 983.4,457.6 919.5,493.2 845.1,270" fill="url(#st)"/>
<g clip-path="url(#c1)"><use href="#mmA" transform="translate(221,-317.8) scale(1.1)"/>
<use href="#mmB" transform="translate(221,-317.8) scale(1.1)"/></g>
<path d="M811 102 C812.5 103.6 811.8 102.2 820 111.5 C828.2 120.8 848 143.7 860 158 C872 172.3 883.5 182.5 892 197.3 C900.5 212.2 906.4 235 911.3 247.1 C916.2 259.2 915.9 257.4 921.6 270 C927.3 282.6 938.2 304.9 945.7 322.4 C953.2 339.9 961.3 361.2 966.7 374.8 C972.1 388.4 974.5 391.9 978.2 404.1 C981.9 416.3 985.1 434.5 988.7 448.1 C992.3 461.8 997.8 479.7 999.6 486" fill="none" stroke="#000" stroke-opacity="0.23" stroke-width="11.5"/>
<polyline points="831,234.6 900.2,194.5" fill="none" stroke="#222" stroke-width="0.9"/>
<g transform="translate(923.8,150.2)"><path d="M-10.5 0A10.5 10.5 0 1 1 10.5 0C10.5 6 4 10 0 17.5C-4 10 -10.5 6 -10.5 0Z" fill="#9a9a9a"/><circle r="8" fill="#f4f4f4"/><path d="M-6 -1L-3 -4H4L6 -1V4H-6Z" fill="#9a9a9a"/><rect x="-4" y="0" width="2.5" height="2" fill="#fff"/><rect x="1" y="0" width="2.5" height="2" fill="#fff"/></g>
<g transform="translate(937.6,189.8)"><path d="M-10.5 0A10.5 10.5 0 1 1 10.5 0C10.5 6 4 10 0 17.5C-4 10 -10.5 6 -10.5 0Z" fill="#9a9a9a"/><circle r="8" fill="#f4f4f4"/><rect x="-5" y="-5" width="10" height="10" fill="#9a9a9a"/><rect x="-3.5" y="-3.5" width="3" height="2.5" fill="#fff"/><rect x="1" y="-3.5" width="3" height="2.5" fill="#fff"/><rect x="-3.5" y="0.5" width="3" height="2.5" fill="#fff"/><rect x="1.5" y="1.5" width="2" height="3.5" fill="#fff"/></g>
<g transform="translate(979.9,194.5)"><path d="M-10.5 0A10.5 10.5 0 1 1 10.5 0C10.5 6 4 10 0 17.5C-4 10 -10.5 6 -10.5 0Z" fill="#9a9a9a"/><circle r="8" fill="#f4f4f4"/><path d="M-6.5 -0.5L0 -5L6.5 -0.5H5.5V4.5H-5.5V-0.5Z" fill="#9a9a9a"/><rect x="-3.5" y="0.5" width="2.5" height="2" fill="#fff"/><rect x="1" y="0.5" width="2.5" height="2" fill="#fff"/></g>
<g transform="translate(1028.5,357)"><path d="M-10.5 0A10.5 10.5 0 1 1 10.5 0C10.5 6 4 10 0 17.5C-4 10 -10.5 6 -10.5 0Z" fill="#9a9a9a"/><circle r="8" fill="#f4f4f4"/><path d="M-4 -1L0 -6L4 -1V6H-4Z" fill="#9a9a9a"/><rect x="-2.2" y="-1" width="1.6" height="2" fill="#fff"/><rect x="0.6" y="-1" width="1.6" height="2" fill="#fff"/><rect x="-0.8" y="3" width="1.6" height="3" fill="#fff"/></g>
<g transform="translate(993.5,373.7)"><path d="M-10.5 0A10.5 10.5 0 1 1 10.5 0C10.5 6 4 10 0 17.5C-4 10 -10.5 6 -10.5 0Z" fill="#9a9a9a"/><circle r="8" fill="#f4f4f4"/><rect x="-3.5" y="-5.5" width="7" height="11" fill="#9a9a9a"/><rect x="-2.5" y="-4.5" width="2.2" height="5" fill="#fff"/><rect x="0.3" y="-4.5" width="2.2" height="5" fill="#fff"/></g>
</g>
<g transform="translate(496,2)">
<polygon points="828.3,219.4 894.7,195.9 901,214 911.3,247.1 921.6,270 945.7,322.4 966.7,374.8 978.2,404.1 988.7,448.1 989.7,454.4 983.4,457.6 919.5,493.2 845.1,270" fill="url(#st)"/>
<g clip-path="url(#c1)"><use href="#mmA" transform="translate(221,-317.8) scale(1.1)"/>
<polygon points="1099.7,288.1 1147.6,256 1221.2,283 1193.8,333.4 1173.3,329.1 1143.4,315.5 1119.4,303.5 1104.9,293.2" fill="#000" opacity="0.22"/>
<use href="#mmB" transform="translate(221,-317.8) scale(1.1)"/></g>
<path d="M811 102 C812.5 103.6 811.8 102.2 820 111.5 C828.2 120.8 848 143.7 860 158 C872 172.3 883.5 182.5 892 197.3 C900.5 212.2 906.4 235 911.3 247.1 C916.2 259.2 915.9 257.4 921.6 270 C927.3 282.6 938.2 304.9 945.7 322.4 C953.2 339.9 961.3 361.2 966.7 374.8 C972.1 388.4 974.5 391.9 978.2 404.1 C981.9 416.3 985.1 434.5 988.7 448.1 C992.3 461.8 997.8 479.7 999.6 486" fill="none" stroke="#000" stroke-opacity="0.23" stroke-width="11.5"/>
<polyline points="831,234.6 900.2,194.5" fill="none" stroke="#222" stroke-width="0.9"/>
<g transform="translate(978.7,192.2)"><path d="M-10.5 0A10.5 10.5 0 1 1 10.5 0C10.5 6 4 10 0 17.5C-4 10 -10.5 6 -10.5 0Z" fill="#9a9a9a"/><circle r="8" fill="#f4f4f4"/><path d="M-6 -4H-4L-2.5 2H4L5.5 -2.5H-3.3" fill="none" stroke="#9a9a9a" stroke-width="1.3"/><path d="M-3 -2H5L3.8 1.5H-2.3Z" fill="#9a9a9a"/><circle cx="-1.8" cy="4.2" r="1.1" fill="#9a9a9a"/><circle cx="3.2" cy="4.2" r="1.1" fill="#9a9a9a"/></g>
<g transform="translate(990.3,259.1)"><path d="M-10.5 0A10.5 10.5 0 1 1 10.5 0C10.5 6 4 10 0 17.5C-4 10 -10.5 6 -10.5 0Z" fill="#9a9a9a"/><circle r="8" fill="#f4f4f4"/><path d="M-6 -4V4M-6 1H6V4M-6 -1.5H5.5V1" fill="none" stroke="#9a9a9a" stroke-width="1.4"/><rect x="-5" y="-2" width="10" height="3" fill="#9a9a9a"/></g>
<g transform="translate(948.5,274.2)"><path d="M-10.5 0A10.5 10.5 0 1 1 10.5 0C10.5 6 4 10 0 17.5C-4 10 -10.5 6 -10.5 0Z" fill="#9a9a9a"/><circle r="8" fill="#f4f4f4"/><circle cx="0" cy="0" r="5" fill="#9a9a9a"/><circle cx="-0.5" cy="-0.5" r="2.3" fill="#fff"/></g>
<g transform="translate(972.7,289.2)"><path d="M-10.5 0A10.5 10.5 0 1 1 10.5 0C10.5 6 4 10 0 17.5C-4 10 -10.5 6 -10.5 0Z" fill="#9a9a9a"/><circle r="8" fill="#f4f4f4"/><path d="M-6 -4H-4L-2.5 2H4L5.5 -2.5H-3.3" fill="none" stroke="#9a9a9a" stroke-width="1.3"/><path d="M-3 -2H5L3.8 1.5H-2.3Z" fill="#9a9a9a"/><circle cx="-1.8" cy="4.2" r="1.1" fill="#9a9a9a"/><circle cx="3.2" cy="4.2" r="1.1" fill="#9a9a9a"/></g>
<g transform="translate(991.8,373.2)"><path d="M-10.5 0A10.5 10.5 0 1 1 10.5 0C10.5 6 4 10 0 17.5C-4 10 -10.5 6 -10.5 0Z" fill="#9a9a9a"/><circle r="8" fill="#f4f4f4"/><path d="M-6 -4H-4L-2.5 2H4L5.5 -2.5H-3.3" fill="none" stroke="#9a9a9a" stroke-width="1.3"/><path d="M-3 -2H5L3.8 1.5H-2.3Z" fill="#9a9a9a"/><circle cx="-1.8" cy="4.2" r="1.1" fill="#9a9a9a"/><circle cx="3.2" cy="4.2" r="1.1" fill="#9a9a9a"/></g>
<text x="1168" y="296" font-size="9" fill="#fff" text-anchor="middle">ČOV</text>
</g>
<circle cx="1645" cy="952.5" r="149" fill="url(#hl)"/>
<path d="M1607.6 883.2A74.8 74.8 0 0 1 1680.2 882" fill="none" stroke="#7d7d7d" stroke-width="7.8"/>
<path d="M1680.2 882A74.8 74.8 0 0 1 1719.8 950.7" fill="none" stroke="#9c9c9c" stroke-width="7.8"/>
<path d="M1719.8 950.7A74.8 74.8 0 0 1 1691.1 1007" fill="none" stroke="#787878" stroke-width="7.8"/>
<path d="M1691.1 1007A74.8 74.8 0 0 1 1632 1021.7" fill="none" stroke="#8a8a8a" stroke-width="0.9"/>
<path d="M1632 1021.7A74.8 74.8 0 0 1 1573.8 971.2" fill="none" stroke="#7d7d7d" stroke-width="7.8"/>
<path d="M1573.8 971.2A74.8 74.8 0 0 1 1607.6 883.2" fill="none" stroke="#a2a2a2" stroke-width="7.8"/>
<polygon points="1684.2,996.3 1697.8,1019 1672.2,1020.5" fill="#787878"/>
<path d="M1706.9 949.5A62.5 62.5 0 0 1 1582 949.5" fill="none" stroke="#d4d4d4" stroke-width="2.1"/>
<path d="M1582 949.5A62.5 62.5 0 0 1 1706.9 949.5" fill="none" stroke="#d4d4d4" stroke-width="2.1"/>
<path d="M1648.1 898.1A53.1 53.1 0 1 1 1590.4 951.1" fill="none" stroke="#bdbdbd" stroke-width="3.9"/>
<path d="M1590.4 951.1A53.1 53.1 0 0 1 1638.9 898.1" fill="none" stroke="#bdbdbd" stroke-width="3.9"/>
<polygon points="1639,892.2 1646.5,897.3 1639,902.8" fill="#bdbdbd"/>
<path d="M1609.8 948A34.7 34.7 0 0 1 1661.8 921" fill="none" stroke="#8c8c8c" stroke-width="7.8"/>
<path d="M1661.8 921A34.7 34.7 0 0 1 1679.1 951.1" fill="none" stroke="#b0b0b0" stroke-width="7.8"/>
<path d="M1679.1 951.1A34.7 34.7 0 0 1 1645.6 985.7" fill="none" stroke="#8c8c8c" stroke-width="7.8"/>
<path d="M1645.6 985.7A34.7 34.7 0 0 1 1609.8 948" fill="none" stroke="#b4b4b4" stroke-width="7.8"/>
<text x="0" y="0" transform="translate(1606.4,901.3) rotate(-35)" font-size="7.5" text-anchor="middle" fill="#111" font-weight="bold">1950</text>
<text x="0" y="0" transform="translate(1683.6,904.3) rotate(40)" font-size="7.5" text-anchor="middle" fill="#111" font-weight="bold">1960</text>
<text x="0" y="0" transform="translate(1701.8,966.1) rotate(100)" font-size="7.5" text-anchor="middle" fill="#111" font-weight="bold">1970</text>
<text x="0" y="0" transform="translate(1654.7,1009.9) rotate(190)" font-size="7.5" text-anchor="middle" fill="#111" font-weight="bold">2000+</text>
<text x="0" y="0" transform="translate(1587.7,972.2) rotate(-100)" font-size="7" text-anchor="middle" fill="#111" font-weight="bold">19. storočie</text>
<polygon points="1539.4,833.4 1560.5,818.3 1586.2,818.3 1604.3,833.4" fill="#7f7f7f"/>
<polygon points="1539.4,833.4 1560.5,818.3 1569.6,818.3 1549.1,833.4" fill="#9a9a9a"/>
<polygon points="1543.9,833.4 1599.8,833.4 1599.8,865.1 1543.9,865.1" fill="#7f7f7f"/>
<polygon points="1549.1,840.9 1562,840.9 1562,850 1549.1,850" fill="#fff"/>
<polygon points="1581.7,840.9 1594.3,840.9 1594.3,850 1581.7,850" fill="#fff"/>
<polygon points="1567.2,850.9 1576.2,850.9 1576.2,865.1 1567.2,865.1" fill="#fff"/>
<polygon points="1691.8,824.3 1741.6,824.3 1741.6,869.6 1691.8,869.6" fill="#7f7f7f"/>
<polygon points="1697.8,832.8 1711.4,832.8 1711.4,841.8 1697.8,841.8" fill="#fff"/>
<polygon points="1720.5,832.8 1734.6,832.8 1734.6,841.8 1720.5,841.8" fill="#fff"/>
<polygon points="1697.8,850.9 1711.4,850.9 1711.4,859.9 1697.8,859.9" fill="#fff"/>
<polygon points="1725,857.5 1734.6,857.5 1734.6,869.6 1725,869.6" fill="#fff"/>
<polygon points="1745.2,902.8 1796.5,902.8 1796.5,1005.4 1745.2,1005.4" fill="#7f7f7f"/>
<polygon points="1789.9,902.8 1796.5,902.8 1796.5,1005.4 1789.9,1005.4" fill="#9a9a9a"/>
<polygon points="1751.2,908.2 1761.2,908.2 1761.2,917.9 1751.2,917.9" fill="#fff"/>
<polygon points="1751.2,920.9 1761.2,920.9 1761.2,931.4 1751.2,931.4" fill="#fff"/>
<polygon points="1751.2,934.5 1761.2,934.5 1761.2,944.4 1751.2,944.4" fill="#fff"/>
<polygon points="1751.2,947.4 1761.2,947.4 1761.2,957.1 1751.2,957.1" fill="#fff"/>
<polygon points="1766.6,908.2 1776.3,908.2 1776.3,917.9 1766.6,917.9" fill="#fff"/>
<polygon points="1766.6,920.9 1776.3,920.9 1776.3,931.4 1766.6,931.4" fill="#fff"/>
<polygon points="1766.6,934.5 1776.3,934.5 1776.3,944.4 1766.6,944.4" fill="#fff"/>
<polygon points="1766.6,947.4 1776.3,947.4 1776.3,957.1 1766.6,957.1" fill="#fff"/>
<polygon points="1781.4,908.2 1791.4,908.2 1791.4,917.9 1781.4,917.9" fill="#fff"/>
<polygon points="1781.4,920.9 1791.4,920.9 1791.4,931.4 1781.4,931.4" fill="#fff"/>
<polygon points="1781.4,934.5 1791.4,934.5 1791.4,944.4 1781.4,944.4" fill="#fff"/>
<polygon points="1781.4,947.4 1791.4,947.4 1791.4,957.1 1781.4,957.1" fill="#fff"/>
<polygon points="1640.5,1041.6 1706.9,1041.6 1706.9,1061.2 1640.5,1061.2" fill="#7f7f7f"/>
<polygon points="1633,1061.2 1702.4,1061.2 1702.4,1082.3 1633,1082.3" fill="#7f7f7f"/>
<polygon points="1664.6,1047.6 1700.8,1047.6 1700.8,1053.1 1664.6,1053.1" fill="#fff"/>
<polygon points="1651.7,1065.7 1660.1,1065.7 1660.1,1082.3 1651.7,1082.3" fill="#fff"/>
<polygon points="1694.8,1070.3 1700.8,1070.3 1700.8,1082.3 1694.8,1082.3" fill="#fff"/>
<polygon points="1488.1,964.6 1515.3,936 1530.4,936 1553.9,964.6" fill="#7f7f7f"/>
<polygon points="1500.2,964.6 1546.9,964.6 1546.9,1023.5 1500.2,1023.5" fill="#7f7f7f"/>
<polygon points="1494.7,981.2 1500.2,981.2 1500.2,1023.5 1494.7,1023.5" fill="#9a9a9a"/>
<polygon points="1516.8,945.6 1525.8,945.6 1525.8,955.6 1516.8,955.6" fill="#fff"/>
<polygon points="1502.6,972.8 1510.1,972.8 1510.1,984.9 1502.6,984.9" fill="#fff"/>
<polygon points="1515.9,972.8 1524.3,972.8 1524.3,984.9 1515.9,984.9" fill="#fff"/>
<polygon points="1530.4,972.8 1538.8,972.8 1538.8,984.9 1530.4,984.9" fill="#fff"/>
<polygon points="1531.9,1009.9 1540.9,1009.9 1540.9,1023.5 1531.9,1023.5" fill="#fff"/>
</g>
<g id="Ltop">
<text x="527" y="429.8" font-size="11.5" fill="#fff" text-anchor="middle" font-weight="bold" textLength="50">GEIS SK</text>
<text x="450.9" y="639" font-size="11.5" fill="#fff" text-anchor="middle" font-weight="bold" textLength="55.6">SEBN,SK</text>
<text x="532" y="791.3" font-size="11.5" fill="#fff" text-anchor="middle" font-weight="bold" textLength="78">NITRIANSKE</text>
<text x="532" y="806.3" font-size="11.5" fill="#fff" text-anchor="middle" font-weight="bold" textLength="76">STROJÁRNE</text>
<text x="334.2" y="908.9" font-size="11.5" fill="#222" text-anchor="start" font-weight="normal" textLength="45">DETAIL</text>
<text x="334.2" y="924.1" font-size="11.5" fill="#222" text-anchor="start" font-weight="normal" textLength="131">RIEŠENÉHO ÚZEMIA</text>
<text x="702.2" y="777.2" font-size="11.5" fill="#fff" text-anchor="middle" font-weight="bold" textLength="62">PLASTIKA</text>
<text x="747.8" y="947.7" font-size="11.5" fill="#fff" text-anchor="middle" font-weight="bold" textLength="65">MATADOR</text>
<text x="1066.8" y="166" font-size="12" fill="#222" text-anchor="start" font-weight="normal" textLength="201">ARCHITEKTONICKÁ TYPOLÓGIA</text>
<text x="1066.8" y="181" font-size="12" fill="#222" text-anchor="start" font-weight="normal" textLength="187">V OKOLÍ RIEŠENÉHO ÚZEMIA</text>
<text x="1558.7" y="166" font-size="12" fill="#222" text-anchor="start" font-weight="normal" textLength="190.7">OBČIANSKA VYBAVENOSŤ NA</text>
<text x="1558.7" y="181" font-size="12" fill="#222" text-anchor="start" font-weight="normal" textLength="162">ÚROVNI MESTSKEJ ČASTI</text>
<line x1="1272" y1="629.6" x2="1810" y2="629.6" stroke="#222" stroke-width="0.9" stroke-dasharray="1.6 1.6"/>
<text x="1367.8" y="624.6" font-size="11.5" fill="#fff" text-anchor="middle" font-weight="bold" textLength="91">PRIEMYSELNÝ</text>
<text x="1367.8" y="639.7" font-size="11.5" fill="#fff" text-anchor="middle" font-weight="bold" textLength="78">PARK NITRA</text>
<text x="1522" y="624" font-size="12" fill="#222" text-anchor="start" font-weight="normal" textLength="200">10 KM / 15 MINÚT CESTY AUTOM</text>
<text x="1756" y="653.4" font-size="12" fill="#222" text-anchor="start" font-weight="normal" textLength="34">MLYN</text>
<text x="1511" y="781.6" font-size="12" fill="#222" text-anchor="start" font-weight="normal" textLength="266">SCHÉMA ARCHITEKTONICKEJ TYPOLÓGIE</text>
<circle cx="1781" cy="1134.8" r="15" fill="none" stroke="#222" stroke-width="1.4"/><line x1="1781" y1="1113.6" x2="1781" y2="1135" stroke="#222" stroke-width="1.4"/>
<text x="77" y="541.8" font-size="19.5" fill="#1a1a1a" text-anchor="start" font-weight="normal" textLength="93">LEGENDA</text>
<rect x="78.3" y="574.2" width="34" height="15.5" fill="#fff" stroke="#7a1c22" stroke-width="1.6"/>
<g><rect x="78.3" y="607.5" width="34" height="15.5" fill="#fff" stroke="#a8a8a8" stroke-width="1.1"/><path d="M80 623L92.5 607.5M90.5 623L103 607.5M101 623L112.3 609" stroke="#a8a8a8" stroke-width="0.9" fill="none"/></g>
<rect x="77.7" y="638.8" width="34.7" height="15.5" fill="#9b9b9b"/>
<rect x="78.3" y="670.7" width="34.7" height="15.8" fill="#000"/>
<rect x="78.3" y="703.8" width="34.7" height="16" fill="#b9c7c5"/>
<text x="145.4" y="584.3" font-size="12.5" fill="#222" text-anchor="start" font-weight="normal" textLength="109">RIEŠENÉ ÚZEMIE</text>
<text x="145.4" y="618.6" font-size="12.5" fill="#222" text-anchor="start" font-weight="normal" textLength="112.2">HORNÉ KRŠKANY</text>
<text x="145.4" y="650.4" font-size="12.5" fill="#222" text-anchor="start" font-weight="normal" textLength="132">VÝZNAMNÉ FABRIKY</text>
<text x="146.2" y="682.6" font-size="12.5" fill="#222" text-anchor="start" font-weight="normal" textLength="133.7">BÝVANIE/PRIEMYSEL</text>
<text x="146.2" y="715.8" font-size="12.5" fill="#222" text-anchor="start" font-weight="normal" textLength="90.3">RIEKY/JAZERÁ</text>
</g>
</svg></body></html>
